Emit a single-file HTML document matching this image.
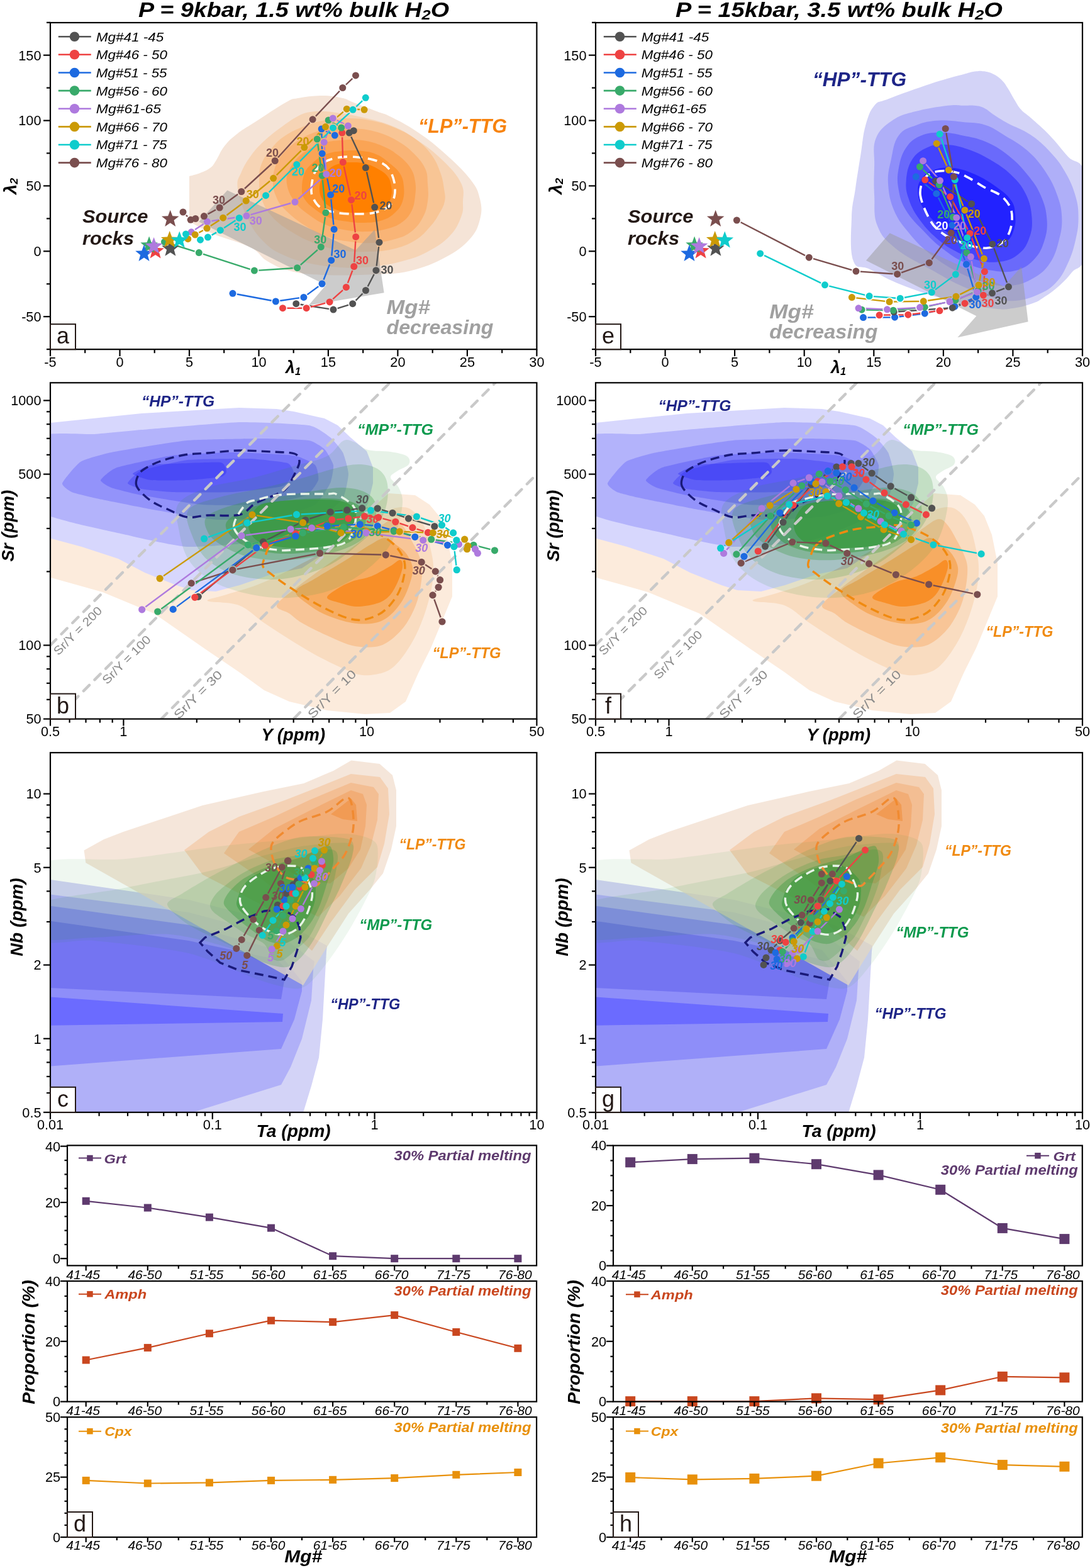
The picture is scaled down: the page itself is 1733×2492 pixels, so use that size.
<!DOCTYPE html>
<html><head><meta charset="utf-8"><title>TTG modelling figure</title>
<style>html,body{margin:0;padding:0;background:#fff;}svg{display:block;}</style>
</head><body>
<svg width="1733" height="2492" viewBox="0 0 1733 2492" font-family="'Liberation Sans', sans-serif">
<rect width="1733" height="2492" fill="#fff"/>
<defs>
<clipPath id="clipA"><rect x="80" y="36" width="773.4" height="519.2"/></clipPath>
<clipPath id="clipE"><rect x="947" y="36" width="774" height="519.2"/></clipPath>
<clipPath id="clipB"><rect x="80" y="608.3" width="773.4" height="534.3"/></clipPath>
<clipPath id="clipF"><rect x="947" y="608.3" width="774" height="534.3"/></clipPath>
<clipPath id="clipC"><rect x="80" y="1196.2" width="773.4" height="571.6"/></clipPath>
<clipPath id="clipG"><rect x="947" y="1196.2" width="774" height="571.6"/></clipPath>
</defs>
<g clip-path="url(#clipA)">
<path d="M301,352 L301.0,280.0 C304.4,279.0 311.4,277.6 318.0,275.0 C324.6,272.4 329.0,270.8 334.0,267.0 C339.0,263.2 338.4,263.0 343.0,256.0 C347.6,249.0 350.0,240.8 357.0,232.0 C364.0,223.2 368.0,219.8 378.0,212.0 C388.0,204.2 391.8,202.8 407.0,193.0 C422.2,183.2 440.6,170.4 454.0,163.0 C467.4,155.6 462.4,158.2 474.0,156.0 C485.6,153.8 497.8,152.0 512.0,152.0 C526.2,152.0 535.4,154.0 545.0,156.0 C554.6,158.0 549.2,157.8 560.0,162.0 C570.8,166.2 587.0,172.4 599.0,177.0 C611.0,181.6 607.6,178.8 620.0,185.0 C632.4,191.2 644.2,196.8 661.0,208.0 C677.8,219.2 686.8,225.8 704.0,241.0 C721.2,256.2 735.2,269.0 747.0,284.0 C758.8,299.0 759.8,303.0 763.0,316.0 C766.2,329.0 766.4,336.0 763.0,349.0 C759.6,362.0 757.0,369.0 746.0,381.0 C735.0,393.0 726.4,399.2 708.0,409.0 C689.6,418.8 675.8,424.6 654.0,430.0 C632.2,435.4 626.4,434.6 599.0,436.0 C571.6,437.4 544.2,438.0 517.0,437.0 C489.8,436.0 481.4,435.4 463.0,431.0 C444.6,426.6 438.0,422.6 425.0,415.0 C412.0,407.4 415.0,401.6 398.0,393.0 C381.0,384.4 359.4,380.2 340.0,372.0 C320.6,363.8 308.8,356.0 301.0,352.0Z" fill="#f5e4d7"/>
<path d="M378.0,300.0 C375.8,284.6 379.6,283.8 384.0,273.0 C388.4,262.2 392.8,255.8 400.0,246.0 C407.2,236.2 410.8,232.6 420.0,224.0 C429.2,215.4 435.4,210.8 446.0,203.0 C456.6,195.2 463.6,190.0 473.0,185.0 C482.4,180.0 484.2,179.6 493.0,178.0 C501.8,176.4 507.6,176.6 517.0,177.0 C526.4,177.4 531.4,178.8 540.0,180.0 C548.6,181.2 544.4,179.4 560.0,183.0 C575.6,186.6 597.8,190.4 618.0,198.0 C638.2,205.6 643.8,209.6 661.0,221.0 C678.2,232.4 689.6,241.0 704.0,255.0 C718.4,269.0 726.6,277.8 733.0,291.0 C739.4,304.2 736.0,310.2 736.0,321.0 C736.0,331.8 737.2,334.2 733.0,345.0 C728.8,355.8 725.6,364.0 715.0,375.0 C704.4,386.0 695.0,392.0 680.0,400.0 C665.0,408.0 658.0,410.2 640.0,415.0 C622.0,419.8 610.0,422.0 590.0,424.0 C570.0,426.0 560.0,426.2 540.0,425.0 C520.0,423.8 508.0,422.0 490.0,418.0 C472.0,414.0 464.0,411.6 450.0,405.0 C436.0,398.4 431.0,396.0 420.0,385.0 C409.0,374.0 403.4,367.0 395.0,350.0 C386.6,333.0 380.2,315.4 378.0,300.0Z" fill="#f6d4b5"/>
<path d="M412.0,284.0 C412.0,272.8 412.4,269.2 416.0,260.0 C419.6,250.8 423.2,246.4 430.0,238.0 C436.8,229.6 440.0,225.2 450.0,218.0 C460.0,210.8 467.6,207.2 480.0,202.0 C492.4,196.8 497.6,194.8 512.0,192.0 C526.4,189.2 536.0,188.0 552.0,188.0 C568.0,188.0 576.4,188.8 592.0,192.0 C607.6,195.2 616.0,198.0 630.0,204.0 C644.0,210.0 650.8,213.6 662.0,222.0 C673.2,230.4 678.4,235.6 686.0,246.0 C693.6,256.4 696.0,263.2 700.0,274.0 C704.0,284.8 704.6,290.8 706.0,300.0 C707.4,309.2 708.6,312.0 707.0,320.0 C705.4,328.0 702.6,332.0 698.0,340.0 C693.4,348.0 691.6,351.6 684.0,360.0 C676.4,368.4 672.0,374.8 660.0,382.0 C648.0,389.2 639.2,392.4 624.0,396.0 C608.8,399.6 600.0,399.6 584.0,400.0 C568.0,400.4 560.0,400.4 544.0,398.0 C528.0,395.6 519.6,393.6 504.0,388.0 C488.4,382.4 480.0,378.4 466.0,370.0 C452.0,361.6 444.0,356.8 434.0,346.0 C424.0,335.2 420.4,328.4 416.0,316.0 C411.6,303.6 412.0,295.2 412.0,284.0Z" fill="#f8c595"/>
<path d="M434.0,288.0 C434.0,278.8 434.8,272.8 438.0,264.0 C441.2,255.2 443.6,251.6 450.0,244.0 C456.4,236.4 460.8,232.4 470.0,226.0 C479.2,219.6 484.4,216.4 496.0,212.0 C507.6,207.6 514.4,205.6 528.0,204.0 C541.6,202.4 549.6,202.8 564.0,204.0 C578.4,205.2 586.4,206.0 600.0,210.0 C613.6,214.0 620.4,217.2 632.0,224.0 C643.6,230.8 649.2,235.2 658.0,244.0 C666.8,252.8 671.6,258.4 676.0,268.0 C680.4,277.6 679.2,281.6 680.0,292.0 C680.8,302.4 681.6,309.2 680.0,320.0 C678.4,330.8 677.2,336.4 672.0,346.0 C666.8,355.6 662.8,361.2 654.0,368.0 C645.2,374.8 640.4,376.4 628.0,380.0 C615.6,383.6 606.4,385.2 592.0,386.0 C577.6,386.8 570.4,386.0 556.0,384.0 C541.6,382.0 534.4,381.2 520.0,376.0 C505.6,370.8 497.6,366.8 484.0,358.0 C470.4,349.2 461.2,341.6 452.0,332.0 C442.8,322.4 441.6,318.8 438.0,310.0 C434.4,301.2 434.0,297.2 434.0,288.0Z" fill="#f9b476"/>
<path d="M456.0,292.0 C454.4,282.0 456.8,278.0 460.0,270.0 C463.2,262.0 466.0,258.4 472.0,252.0 C478.0,245.6 482.0,242.8 490.0,238.0 C498.0,233.2 502.0,231.0 512.0,228.0 C522.0,225.0 527.2,224.0 540.0,223.0 C552.8,222.0 562.4,221.2 576.0,223.0 C589.6,224.8 596.8,227.4 608.0,232.0 C619.2,236.6 623.2,239.2 632.0,246.0 C640.8,252.8 646.4,257.6 652.0,266.0 C657.6,274.4 658.4,278.8 660.0,288.0 C661.6,297.2 661.2,302.4 660.0,312.0 C658.8,321.6 658.4,327.6 654.0,336.0 C649.6,344.4 646.0,348.4 638.0,354.0 C630.0,359.6 624.8,361.2 614.0,364.0 C603.2,366.8 596.4,367.6 584.0,368.0 C571.6,368.4 564.8,368.0 552.0,366.0 C539.2,364.0 532.0,362.8 520.0,358.0 C508.0,353.2 502.4,349.6 492.0,342.0 C481.6,334.4 475.2,330.0 468.0,320.0 C460.8,310.0 457.6,302.0 456.0,292.0Z" fill="#faa455"/>
<path d="M480.0,300.0 C480.0,292.0 480.8,284.0 484.0,276.0 C487.2,268.0 489.6,266.0 496.0,260.0 C502.4,254.0 506.4,250.0 516.0,246.0 C525.6,242.0 532.0,241.2 544.0,240.0 C556.0,238.8 564.8,238.8 576.0,240.0 C587.2,241.2 591.2,242.0 600.0,246.0 C608.8,250.0 612.8,254.0 620.0,260.0 C627.2,266.0 631.6,268.8 636.0,276.0 C640.4,283.2 641.2,287.2 642.0,296.0 C642.8,304.8 642.8,311.6 640.0,320.0 C637.2,328.4 634.4,332.0 628.0,338.0 C621.6,344.0 617.6,346.8 608.0,350.0 C598.4,353.2 591.2,353.6 580.0,354.0 C568.8,354.4 563.2,353.6 552.0,352.0 C540.8,350.4 534.4,350.0 524.0,346.0 C513.6,342.0 508.0,338.0 500.0,332.0 C492.0,326.0 488.0,322.4 484.0,316.0 C480.0,309.6 480.0,308.0 480.0,300.0Z" fill="#fc9430"/>
<path d="M508.0,300.0 C508.0,293.6 508.8,290.4 512.0,284.0 C515.2,277.6 518.4,272.8 524.0,268.0 C529.6,263.2 532.8,262.0 540.0,260.0 C547.2,258.0 552.0,258.0 560.0,258.0 C568.0,258.0 572.0,258.0 580.0,260.0 C588.0,262.0 592.8,264.0 600.0,268.0 C607.2,272.0 611.6,274.4 616.0,280.0 C620.4,285.6 620.8,289.6 622.0,296.0 C623.2,302.4 623.6,306.0 622.0,312.0 C620.4,318.0 620.0,321.2 614.0,326.0 C608.0,330.8 601.2,333.6 592.0,336.0 C582.8,338.4 577.6,338.0 568.0,338.0 C558.4,338.0 552.8,338.0 544.0,336.0 C535.2,334.0 530.4,332.0 524.0,328.0 C517.6,324.0 515.2,321.6 512.0,316.0 C508.8,310.4 508.0,306.4 508.0,300.0Z" fill="#ff8000"/>
<path d="M495.0,300.0 C495.3,293.3 496.7,282.0 500.0,275.0 C503.3,268.0 508.3,262.2 515.0,258.0 C521.7,253.8 530.8,251.3 540.0,250.0 C549.2,248.7 560.0,249.0 570.0,250.0 C580.0,251.0 592.0,253.0 600.0,256.0 C608.0,259.0 613.5,262.3 618.0,268.0 C622.5,273.7 625.5,282.7 627.0,290.0 C628.5,297.3 628.5,305.7 627.0,312.0 C625.5,318.3 623.3,323.7 618.0,328.0 C612.7,332.3 603.8,336.0 595.0,338.0 C586.2,340.0 575.0,340.0 565.0,340.0 C555.0,340.0 544.2,339.7 535.0,338.0 C525.8,336.3 516.2,333.8 510.0,330.0 C503.8,326.2 500.5,320.0 498.0,315.0 C495.5,310.0 494.7,306.7 495.0,300.0Z" fill="none" stroke="#fff" stroke-width="3.6" stroke-dasharray="15,9"/>
<path d="M361.4,302.5 L565.5,397.7 L595.6,365.1 L610.6,465.3 L490.4,485.4 L518.4,453.1 L316.3,352.6Z" fill="#9a9a9a" fill-opacity="0.5"/>
<mask id="gapmask1" maskUnits="userSpaceOnUse" x="241.5" y="99.9" width="381.5" height="412.2"><rect x="241.5" y="99.9" width="381.5" height="412.2" fill="#fff"/>
<circle cx="470.8" cy="482.7" r="7.10" fill="#000"/>
<circle cx="530.0" cy="492.1" r="7.10" fill="#000"/>
<circle cx="560.7" cy="482.7" r="7.10" fill="#000"/>
<circle cx="581.5" cy="461.5" r="7.10" fill="#000"/>
<circle cx="597.9" cy="429.7" r="7.10" fill="#000"/>
<circle cx="603.0" cy="385.2" r="7.10" fill="#000"/>
<circle cx="595.7" cy="329.3" r="7.10" fill="#000"/>
<circle cx="581.4" cy="266.6" r="7.10" fill="#000"/>
<circle cx="555.3" cy="211.1" r="7.10" fill="#000"/>
<circle cx="562.3" cy="207.7" r="7.10" fill="#000"/>
<circle cx="449.5" cy="489.7" r="7.10" fill="#000"/>
<circle cx="487.2" cy="489.7" r="7.10" fill="#000"/>
<circle cx="524.1" cy="479.9" r="7.10" fill="#000"/>
<circle cx="550.4" cy="456.4" r="7.10" fill="#000"/>
<circle cx="562.8" cy="423.5" r="7.10" fill="#000"/>
<circle cx="565.7" cy="376.4" r="7.10" fill="#000"/>
<circle cx="558.5" cy="317.7" r="7.10" fill="#000"/>
<circle cx="545.3" cy="257.8" r="7.10" fill="#000"/>
<circle cx="543.9" cy="211.1" r="7.10" fill="#000"/>
<circle cx="370.0" cy="466.3" r="7.10" fill="#000"/>
<circle cx="438.4" cy="479.0" r="7.10" fill="#000"/>
<circle cx="482.9" cy="472.4" r="7.10" fill="#000"/>
<circle cx="512.0" cy="451.0" r="7.10" fill="#000"/>
<circle cx="526.7" cy="413.7" r="7.10" fill="#000"/>
<circle cx="531.1" cy="364.4" r="7.10" fill="#000"/>
<circle cx="525.6" cy="309.6" r="7.10" fill="#000"/>
<circle cx="512.2" cy="244.1" r="7.10" fill="#000"/>
<circle cx="511.2" cy="205.0" r="7.10" fill="#000"/>
<circle cx="532.3" cy="215.1" r="7.10" fill="#000"/>
<circle cx="261.5" cy="384.5" r="7.10" fill="#000"/>
<circle cx="316.3" cy="401.6" r="7.10" fill="#000"/>
<circle cx="404.4" cy="430.1" r="7.10" fill="#000"/>
<circle cx="472.6" cy="425.7" r="7.10" fill="#000"/>
<circle cx="510.3" cy="392.4" r="7.10" fill="#000"/>
<circle cx="517.9" cy="338.1" r="7.10" fill="#000"/>
<circle cx="512.2" cy="279.2" r="7.10" fill="#000"/>
<circle cx="504.2" cy="221.1" r="7.10" fill="#000"/>
<circle cx="522.2" cy="191.0" r="7.10" fill="#000"/>
<circle cx="542.7" cy="203.0" r="7.10" fill="#000"/>
<circle cx="304.2" cy="368.8" r="7.10" fill="#000"/>
<circle cx="329.4" cy="352.3" r="7.10" fill="#000"/>
<circle cx="391.9" cy="343.1" r="7.10" fill="#000"/>
<circle cx="469.0" cy="321.0" r="7.10" fill="#000"/>
<circle cx="518.8" cy="276.8" r="7.10" fill="#000"/>
<circle cx="515.2" cy="226.1" r="7.10" fill="#000"/>
<circle cx="529.3" cy="188.0" r="7.10" fill="#000"/>
<circle cx="553.3" cy="200.0" r="7.10" fill="#000"/>
<circle cx="298.8" cy="379.7" r="7.10" fill="#000"/>
<circle cx="310.2" cy="373.1" r="7.10" fill="#000"/>
<circle cx="329.0" cy="362.8" r="7.10" fill="#000"/>
<circle cx="354.7" cy="346.2" r="7.10" fill="#000"/>
<circle cx="391.2" cy="319.0" r="7.10" fill="#000"/>
<circle cx="434.6" cy="283.3" r="7.10" fill="#000"/>
<circle cx="483.8" cy="234.3" r="7.10" fill="#000"/>
<circle cx="517.5" cy="201.6" r="7.10" fill="#000"/>
<circle cx="551.3" cy="173.2" r="7.10" fill="#000"/>
<circle cx="579.1" cy="174.3" r="7.10" fill="#000"/>
<circle cx="295.5" cy="372.0" r="7.10" fill="#000"/>
<circle cx="318.5" cy="381.2" r="7.10" fill="#000"/>
<circle cx="330.5" cy="377.1" r="7.10" fill="#000"/>
<circle cx="350.3" cy="365.9" r="7.10" fill="#000"/>
<circle cx="380.3" cy="346.4" r="7.10" fill="#000"/>
<circle cx="422.6" cy="310.7" r="7.10" fill="#000"/>
<circle cx="471.8" cy="261.5" r="7.10" fill="#000"/>
<circle cx="529.5" cy="203.2" r="7.10" fill="#000"/>
<circle cx="561.1" cy="174.3" r="7.10" fill="#000"/>
<circle cx="581.3" cy="155.3" r="7.10" fill="#000"/>
<circle cx="291.0" cy="337.0" r="7.10" fill="#000"/>
<circle cx="303.1" cy="349.3" r="7.10" fill="#000"/>
<circle cx="310.8" cy="347.5" r="7.10" fill="#000"/>
<circle cx="324.4" cy="343.6" r="7.10" fill="#000"/>
<circle cx="349.2" cy="330.0" r="7.10" fill="#000"/>
<circle cx="383.8" cy="304.5" r="7.10" fill="#000"/>
<circle cx="437.2" cy="255.5" r="7.10" fill="#000"/>
<circle cx="497.1" cy="189.8" r="7.10" fill="#000"/>
<circle cx="544.8" cy="139.5" r="7.10" fill="#000"/>
<circle cx="565.5" cy="119.9" r="7.10" fill="#000"/>
</mask>
<g mask="url(#gapmask1)">
<polyline points="470.8,482.7 530.0,492.1 560.7,482.7 581.5,461.5 597.9,429.7 603.0,385.2 595.7,329.3 581.4,266.6 555.3,211.1 562.3,207.7" fill="none" stroke="#525252" stroke-width="2.4" stroke-linejoin="round"/>
<polyline points="449.5,489.7 487.2,489.7 524.1,479.9 550.4,456.4 562.8,423.5 565.7,376.4 558.5,317.7 545.3,257.8 543.9,211.1" fill="none" stroke="#ee4242" stroke-width="2.4" stroke-linejoin="round"/>
<polyline points="370.0,466.3 438.4,479.0 482.9,472.4 512.0,451.0 526.7,413.7 531.1,364.4 525.6,309.6 512.2,244.1 511.2,205.0 532.3,215.1" fill="none" stroke="#1d6ae0" stroke-width="2.4" stroke-linejoin="round"/>
<polyline points="261.5,384.5 316.3,401.6 404.4,430.1 472.6,425.7 510.3,392.4 517.9,338.1 512.2,279.2 504.2,221.1 522.2,191.0 542.7,203.0" fill="none" stroke="#38aa6a" stroke-width="2.4" stroke-linejoin="round"/>
<polyline points="304.2,368.8 329.4,352.3 391.9,343.1 469.0,321.0 518.8,276.8 515.2,226.1 529.3,188.0 553.3,200.0" fill="none" stroke="#ae7ade" stroke-width="2.4" stroke-linejoin="round"/>
<polyline points="298.8,379.7 310.2,373.1 329.0,362.8 354.7,346.2 391.2,319.0 434.6,283.3 483.8,234.3 517.5,201.6 551.3,173.2 579.1,174.3" fill="none" stroke="#cb9a05" stroke-width="2.4" stroke-linejoin="round"/>
<polyline points="295.5,372.0 318.5,381.2 330.5,377.1 350.3,365.9 380.3,346.4 422.6,310.7 471.8,261.5 529.5,203.2 561.1,174.3 581.3,155.3" fill="none" stroke="#0fcccc" stroke-width="2.4" stroke-linejoin="round"/>
<polyline points="291.0,337.0 303.1,349.3 310.8,347.5 324.4,343.6 349.2,330.0 383.8,304.5 437.2,255.5 497.1,189.8 544.8,139.5 565.5,119.9" fill="none" stroke="#7a4e4e" stroke-width="2.4" stroke-linejoin="round"/>
</g>
<circle cx="470.8" cy="482.7" r="5.50" fill="#525252"/>
<circle cx="530.0" cy="492.1" r="5.50" fill="#525252"/>
<circle cx="560.7" cy="482.7" r="5.50" fill="#525252"/>
<circle cx="581.5" cy="461.5" r="5.50" fill="#525252"/>
<circle cx="597.9" cy="429.7" r="5.50" fill="#525252"/>
<circle cx="603.0" cy="385.2" r="5.50" fill="#525252"/>
<circle cx="595.7" cy="329.3" r="5.50" fill="#525252"/>
<circle cx="581.4" cy="266.6" r="5.50" fill="#525252"/>
<circle cx="555.3" cy="211.1" r="5.50" fill="#525252"/>
<circle cx="562.3" cy="207.7" r="5.50" fill="#525252"/>
<circle cx="449.5" cy="489.7" r="5.50" fill="#ee4242"/>
<circle cx="487.2" cy="489.7" r="5.50" fill="#ee4242"/>
<circle cx="524.1" cy="479.9" r="5.50" fill="#ee4242"/>
<circle cx="550.4" cy="456.4" r="5.50" fill="#ee4242"/>
<circle cx="562.8" cy="423.5" r="5.50" fill="#ee4242"/>
<circle cx="565.7" cy="376.4" r="5.50" fill="#ee4242"/>
<circle cx="558.5" cy="317.7" r="5.50" fill="#ee4242"/>
<circle cx="545.3" cy="257.8" r="5.50" fill="#ee4242"/>
<circle cx="543.9" cy="211.1" r="5.50" fill="#ee4242"/>
<circle cx="370.0" cy="466.3" r="5.50" fill="#1d6ae0"/>
<circle cx="438.4" cy="479.0" r="5.50" fill="#1d6ae0"/>
<circle cx="482.9" cy="472.4" r="5.50" fill="#1d6ae0"/>
<circle cx="512.0" cy="451.0" r="5.50" fill="#1d6ae0"/>
<circle cx="526.7" cy="413.7" r="5.50" fill="#1d6ae0"/>
<circle cx="531.1" cy="364.4" r="5.50" fill="#1d6ae0"/>
<circle cx="525.6" cy="309.6" r="5.50" fill="#1d6ae0"/>
<circle cx="512.2" cy="244.1" r="5.50" fill="#1d6ae0"/>
<circle cx="511.2" cy="205.0" r="5.50" fill="#1d6ae0"/>
<circle cx="532.3" cy="215.1" r="5.50" fill="#1d6ae0"/>
<circle cx="261.5" cy="384.5" r="5.50" fill="#38aa6a"/>
<circle cx="316.3" cy="401.6" r="5.50" fill="#38aa6a"/>
<circle cx="404.4" cy="430.1" r="5.50" fill="#38aa6a"/>
<circle cx="472.6" cy="425.7" r="5.50" fill="#38aa6a"/>
<circle cx="510.3" cy="392.4" r="5.50" fill="#38aa6a"/>
<circle cx="517.9" cy="338.1" r="5.50" fill="#38aa6a"/>
<circle cx="512.2" cy="279.2" r="5.50" fill="#38aa6a"/>
<circle cx="504.2" cy="221.1" r="5.50" fill="#38aa6a"/>
<circle cx="522.2" cy="191.0" r="5.50" fill="#38aa6a"/>
<circle cx="542.7" cy="203.0" r="5.50" fill="#38aa6a"/>
<circle cx="304.2" cy="368.8" r="5.50" fill="#ae7ade"/>
<circle cx="329.4" cy="352.3" r="5.50" fill="#ae7ade"/>
<circle cx="391.9" cy="343.1" r="5.50" fill="#ae7ade"/>
<circle cx="469.0" cy="321.0" r="5.50" fill="#ae7ade"/>
<circle cx="518.8" cy="276.8" r="5.50" fill="#ae7ade"/>
<circle cx="515.2" cy="226.1" r="5.50" fill="#ae7ade"/>
<circle cx="529.3" cy="188.0" r="5.50" fill="#ae7ade"/>
<circle cx="553.3" cy="200.0" r="5.50" fill="#ae7ade"/>
<circle cx="298.8" cy="379.7" r="5.50" fill="#cb9a05"/>
<circle cx="310.2" cy="373.1" r="5.50" fill="#cb9a05"/>
<circle cx="329.0" cy="362.8" r="5.50" fill="#cb9a05"/>
<circle cx="354.7" cy="346.2" r="5.50" fill="#cb9a05"/>
<circle cx="391.2" cy="319.0" r="5.50" fill="#cb9a05"/>
<circle cx="434.6" cy="283.3" r="5.50" fill="#cb9a05"/>
<circle cx="483.8" cy="234.3" r="5.50" fill="#cb9a05"/>
<circle cx="517.5" cy="201.6" r="5.50" fill="#cb9a05"/>
<circle cx="551.3" cy="173.2" r="5.50" fill="#cb9a05"/>
<circle cx="579.1" cy="174.3" r="5.50" fill="#cb9a05"/>
<circle cx="295.5" cy="372.0" r="5.50" fill="#0fcccc"/>
<circle cx="318.5" cy="381.2" r="5.50" fill="#0fcccc"/>
<circle cx="330.5" cy="377.1" r="5.50" fill="#0fcccc"/>
<circle cx="350.3" cy="365.9" r="5.50" fill="#0fcccc"/>
<circle cx="380.3" cy="346.4" r="5.50" fill="#0fcccc"/>
<circle cx="422.6" cy="310.7" r="5.50" fill="#0fcccc"/>
<circle cx="471.8" cy="261.5" r="5.50" fill="#0fcccc"/>
<circle cx="529.5" cy="203.2" r="5.50" fill="#0fcccc"/>
<circle cx="561.1" cy="174.3" r="5.50" fill="#0fcccc"/>
<circle cx="581.3" cy="155.3" r="5.50" fill="#0fcccc"/>
<circle cx="291.0" cy="337.0" r="5.50" fill="#7a4e4e"/>
<circle cx="303.1" cy="349.3" r="5.50" fill="#7a4e4e"/>
<circle cx="310.8" cy="347.5" r="5.50" fill="#7a4e4e"/>
<circle cx="324.4" cy="343.6" r="5.50" fill="#7a4e4e"/>
<circle cx="349.2" cy="330.0" r="5.50" fill="#7a4e4e"/>
<circle cx="383.8" cy="304.5" r="5.50" fill="#7a4e4e"/>
<circle cx="437.2" cy="255.5" r="5.50" fill="#7a4e4e"/>
<circle cx="497.1" cy="189.8" r="5.50" fill="#7a4e4e"/>
<circle cx="544.8" cy="139.5" r="5.50" fill="#7a4e4e"/>
<circle cx="565.5" cy="119.9" r="5.50" fill="#7a4e4e"/>
<path d="M247.1,384.4 L250.7,394.0 L260.9,394.4 L252.9,400.8 L255.6,410.6 L247.1,405.0 L238.6,410.6 L241.3,400.8 L233.3,394.4 L243.5,394.0Z" fill="#ee4242"/>
<path d="M270.9,380.6 L274.5,390.2 L284.7,390.6 L276.7,397.0 L279.4,406.8 L270.9,401.2 L262.4,406.8 L265.1,397.0 L257.1,390.6 L267.3,390.2Z" fill="#525252"/>
<path d="M237.1,375.6 L240.7,385.2 L250.9,385.6 L242.9,392.0 L245.6,401.8 L237.1,396.2 L228.6,401.8 L231.3,392.0 L223.3,385.6 L233.5,385.2Z" fill="#38aa6a"/>
<path d="M229.0,388.8 L232.6,398.4 L242.8,398.8 L234.8,405.2 L237.5,415.0 L229.0,409.4 L220.5,415.0 L223.2,405.2 L215.2,398.8 L225.4,398.4Z" fill="#1d6ae0"/>
<path d="M244.6,376.9 L248.2,386.5 L258.4,386.9 L250.4,393.3 L253.1,403.1 L244.6,397.5 L236.1,403.1 L238.8,393.3 L230.8,386.9 L241.0,386.5Z" fill="#ae7ade"/>
<path d="M269.7,366.9 L273.3,376.5 L283.5,376.9 L275.5,383.3 L278.2,393.1 L269.7,387.5 L261.2,393.1 L263.9,383.3 L255.9,376.9 L266.1,376.5Z" fill="#cb9a05"/>
<path d="M285.3,367.5 L288.9,377.1 L299.1,377.5 L291.1,383.9 L293.8,393.7 L285.3,388.1 L276.8,393.7 L279.5,383.9 L271.5,377.5 L281.7,377.1Z" fill="#0fcccc"/>
<path d="M270.7,333.7 L274.3,343.3 L284.5,343.7 L276.5,350.1 L279.2,359.9 L270.7,354.3 L262.2,359.9 L264.9,350.1 L256.9,343.7 L267.1,343.3Z" fill="#7a4e4e"/>
<text x="433" y="248.5" font-size="18" text-anchor="middle" font-weight="bold" font-style="normal" fill="#7a4e4e" >20</text>
<text x="481.4" y="231" font-size="18" text-anchor="middle" font-weight="bold" font-style="normal" fill="#cb9a05" >20</text>
<text x="474" y="278.5" font-size="18" text-anchor="middle" font-weight="bold" font-style="normal" fill="#0fcccc" >20</text>
<text x="505.6" y="273.3" font-size="18" text-anchor="middle" font-weight="bold" font-style="normal" fill="#38aa6a" >20</text>
<text x="533.7" y="281.2" font-size="18" text-anchor="middle" font-weight="bold" font-style="normal" fill="#ae7ade" >20</text>
<text x="538.3" y="306.2" font-size="18" text-anchor="middle" font-weight="bold" font-style="normal" fill="#1d6ae0" >20</text>
<text x="573.4" y="317.2" font-size="18" text-anchor="middle" font-weight="bold" font-style="normal" fill="#ee4242" >20</text>
<text x="613.4" y="333.3" font-size="18" text-anchor="middle" font-weight="bold" font-style="normal" fill="#525252" >20</text>
<text x="348" y="323.8" font-size="18" text-anchor="middle" font-weight="bold" font-style="normal" fill="#7a4e4e" >30</text>
<text x="401.7" y="315" font-size="18" text-anchor="middle" font-weight="bold" font-style="normal" fill="#cb9a05" >30</text>
<text x="381.5" y="366.5" font-size="18" text-anchor="middle" font-weight="bold" font-style="normal" fill="#0fcccc" >30</text>
<text x="406.7" y="356.6" font-size="18" text-anchor="middle" font-weight="bold" font-style="normal" fill="#ae7ade" >30</text>
<text x="509.2" y="387.3" font-size="18" text-anchor="middle" font-weight="bold" font-style="normal" fill="#38aa6a" >30</text>
<text x="540.4" y="410.3" font-size="18" text-anchor="middle" font-weight="bold" font-style="normal" fill="#1d6ae0" >30</text>
<text x="576" y="419.6" font-size="18" text-anchor="middle" font-weight="bold" font-style="normal" fill="#ee4242" >30</text>
<text x="615.5" y="435" font-size="18" text-anchor="middle" font-weight="bold" font-style="normal" fill="#525252" >30</text>
</g>
<text x="131" y="354.4" font-size="30" text-anchor="start" font-weight="bold" font-style="italic" fill="#231815" textLength="104.5" lengthAdjust="spacingAndGlyphs" >Source</text>
<text x="131" y="388.9" font-size="30" text-anchor="start" font-weight="bold" font-style="italic" fill="#231815" textLength="82" lengthAdjust="spacingAndGlyphs" >rocks</text>
<text x="665" y="210.5" font-size="31" text-anchor="start" font-weight="bold" font-style="italic" fill="#f7830f" textLength="141" lengthAdjust="spacingAndGlyphs" >“LP”-TTG</text>
<text x="614.5" y="498.5" font-size="32" text-anchor="start" font-weight="bold" font-style="italic" fill="#a0a0a0" textLength="69.2" lengthAdjust="spacingAndGlyphs" >Mg#</text>
<text x="614.5" y="531" font-size="32" text-anchor="start" font-weight="bold" font-style="italic" fill="#a0a0a0" textLength="170" lengthAdjust="spacingAndGlyphs" >decreasing</text>
<line x1="92.8" y1="58.2" x2="144.8" y2="58.2" stroke="#525252" stroke-width="2.6"/>
<circle cx="118.5" cy="58.2" r="7.8" fill="#525252"/>
<text x="152.8" y="65.6" font-size="20.5" text-anchor="start" font-weight="normal" font-style="italic" fill="#000" textLength="107.5" lengthAdjust="spacingAndGlyphs" >Mg#41 -45</text>
<line x1="92.8" y1="86.8" x2="144.8" y2="86.8" stroke="#ee4242" stroke-width="2.6"/>
<circle cx="118.5" cy="86.8" r="7.8" fill="#ee4242"/>
<text x="152.8" y="94.2" font-size="20.5" text-anchor="start" font-weight="normal" font-style="italic" fill="#000" textLength="113.1" lengthAdjust="spacingAndGlyphs" >Mg#46 - 50</text>
<line x1="92.8" y1="115.5" x2="144.8" y2="115.5" stroke="#1d6ae0" stroke-width="2.6"/>
<circle cx="118.5" cy="115.5" r="7.8" fill="#1d6ae0"/>
<text x="152.8" y="122.9" font-size="20.5" text-anchor="start" font-weight="normal" font-style="italic" fill="#000" textLength="112.7" lengthAdjust="spacingAndGlyphs" >Mg#51 - 55</text>
<line x1="92.8" y1="144.1" x2="144.8" y2="144.1" stroke="#38aa6a" stroke-width="2.6"/>
<circle cx="118.5" cy="144.1" r="7.8" fill="#38aa6a"/>
<text x="152.8" y="151.5" font-size="20.5" text-anchor="start" font-weight="normal" font-style="italic" fill="#000" textLength="113.1" lengthAdjust="spacingAndGlyphs" >Mg#56 - 60</text>
<line x1="92.8" y1="172.7" x2="144.8" y2="172.7" stroke="#ae7ade" stroke-width="2.6"/>
<circle cx="118.5" cy="172.7" r="7.8" fill="#ae7ade"/>
<text x="152.8" y="180.1" font-size="20.5" text-anchor="start" font-weight="normal" font-style="italic" fill="#000" textLength="103.3" lengthAdjust="spacingAndGlyphs" >Mg#61-65</text>
<line x1="92.8" y1="201.4" x2="144.8" y2="201.4" stroke="#cb9a05" stroke-width="2.6"/>
<circle cx="118.5" cy="201.4" r="7.8" fill="#cb9a05"/>
<text x="152.8" y="208.8" font-size="20.5" text-anchor="start" font-weight="normal" font-style="italic" fill="#000" textLength="113.1" lengthAdjust="spacingAndGlyphs" >Mg#66 - 70</text>
<line x1="92.8" y1="230.0" x2="144.8" y2="230.0" stroke="#0fcccc" stroke-width="2.6"/>
<circle cx="118.5" cy="230.0" r="7.8" fill="#0fcccc"/>
<text x="152.8" y="237.4" font-size="20.5" text-anchor="start" font-weight="normal" font-style="italic" fill="#000" textLength="112.7" lengthAdjust="spacingAndGlyphs" >Mg#71 - 75</text>
<line x1="92.8" y1="258.6" x2="144.8" y2="258.6" stroke="#7a4e4e" stroke-width="2.6"/>
<circle cx="118.5" cy="258.6" r="7.8" fill="#7a4e4e"/>
<text x="152.8" y="266" font-size="20.5" text-anchor="start" font-weight="normal" font-style="italic" fill="#000" textLength="113.1" lengthAdjust="spacingAndGlyphs" >Mg#76 - 80</text>
<g clip-path="url(#clipE)">
<path d="M1356.5,414.0 C1350.7,397.6 1353.3,368.8 1354.0,346.0 C1354.7,323.2 1357.1,320.3 1360.0,300.0 C1362.9,279.7 1365.4,264.4 1368.6,244.4 C1371.8,224.4 1371.7,215.3 1376.0,200.0 C1380.3,184.7 1382.7,176.6 1390.0,168.0 C1397.3,159.4 1394.3,164.2 1412.3,157.2 C1430.3,150.2 1455.9,140.9 1480.0,133.0 C1504.1,125.1 1518.6,121.6 1533.0,117.7 C1547.4,113.8 1545.5,114.2 1551.8,113.3 C1558.1,112.4 1558.8,112.4 1564.3,113.3 C1569.8,114.2 1573.5,114.8 1579.3,117.7 C1585.1,120.6 1588.3,122.9 1593.1,127.7 C1597.9,132.5 1599.1,135.2 1603.1,141.5 C1607.1,147.8 1609.2,152.5 1613.2,159.0 C1617.2,165.5 1618.0,168.2 1623.2,174.0 C1628.4,179.8 1630.2,179.5 1639.4,187.8 C1648.6,196.1 1657.5,203.2 1669.2,215.4 C1680.9,227.6 1686.7,235.9 1697.9,248.8 C1709.1,261.7 1719.6,249.4 1725.0,280.0 C1730.4,310.6 1729.2,371.4 1725.0,402.0 C1720.8,432.6 1712.6,422.2 1704.0,433.0 C1695.4,443.8 1691.0,448.0 1682.0,456.0 C1673.0,464.0 1667.0,467.8 1659.0,473.0 C1651.0,478.2 1651.8,478.6 1642.0,482.0 C1632.2,485.4 1623.0,488.4 1610.0,490.0 C1597.0,491.6 1598.1,492.8 1577.0,490.0 C1555.9,487.2 1533.5,483.6 1504.4,476.0 C1475.3,468.4 1455.9,461.6 1431.7,452.0 C1407.5,442.4 1398.2,435.6 1383.2,428.0 C1368.2,420.4 1362.3,430.4 1356.5,414.0Z" fill="#d3d3f7"/>
<path d="M1390.1,263.1 C1390.6,245.0 1386.8,234.5 1392.5,220.2 C1398.2,205.9 1406.3,200.2 1418.7,191.6 C1431.1,183.0 1436.8,182.1 1454.5,177.3 C1472.2,172.5 1491.3,169.6 1507.0,167.7 C1522.7,165.8 1524.5,167.8 1533.0,167.8 C1541.5,167.8 1543.0,167.0 1549.3,167.8 C1555.6,168.6 1558.0,168.6 1564.3,171.6 C1570.6,174.6 1573.0,177.9 1580.6,182.8 C1588.2,187.7 1590.9,189.8 1602.4,196.0 C1613.9,202.2 1624.8,205.0 1638.2,214.0 C1651.6,223.0 1658.2,229.3 1669.2,241.0 C1680.2,252.7 1685.0,258.7 1693.1,272.7 C1701.2,286.7 1705.5,296.1 1709.8,310.9 C1714.1,325.7 1714.6,332.3 1714.6,346.6 C1714.6,360.9 1713.1,368.1 1709.8,382.4 C1706.5,396.7 1704.1,404.8 1697.9,418.2 C1691.7,431.6 1688.4,439.2 1678.8,449.2 C1669.2,459.2 1663.0,462.6 1650.1,468.3 C1637.2,474.0 1628.7,476.9 1614.4,477.9 C1600.1,478.9 1595.5,477.7 1578.6,473.1 C1561.7,468.5 1549.1,463.6 1530.0,455.0 C1510.9,446.4 1504.4,442.2 1483.1,430.1 C1461.8,418.0 1441.1,408.7 1423.5,394.4 C1405.9,380.1 1401.6,375.3 1394.9,358.6 C1388.2,341.9 1391.1,330.0 1390.1,310.9 C1389.1,291.8 1389.6,281.2 1390.1,263.1Z" fill="#afaff8"/>
<path d="M1412.0,291.8 C1411.0,275.6 1413.5,268.9 1416.8,253.6 C1420.1,238.3 1420.6,226.4 1428.7,215.4 C1436.8,204.4 1444.6,203.5 1457.4,198.7 C1470.2,193.9 1478.2,192.5 1492.9,191.6 C1507.6,190.7 1516.2,192.6 1530.9,194.0 C1545.6,195.4 1553.2,194.4 1566.6,198.7 C1580.0,203.0 1584.3,207.3 1597.7,215.4 C1611.1,223.5 1620.5,227.8 1633.4,239.3 C1646.3,250.8 1652.5,258.4 1662.1,272.7 C1671.7,287.0 1676.0,296.1 1681.2,310.9 C1686.4,325.7 1687.8,332.3 1688.3,346.6 C1688.8,360.9 1687.3,368.1 1683.5,382.4 C1679.7,396.7 1677.3,406.3 1669.2,418.2 C1661.1,430.1 1655.4,434.9 1643.0,442.1 C1630.6,449.3 1622.5,452.6 1607.2,454.0 C1591.9,455.4 1584.3,454.0 1566.6,449.2 C1548.9,444.4 1537.0,439.6 1518.9,430.1 C1500.8,420.6 1490.9,413.4 1476.2,401.5 C1461.5,389.6 1456.3,383.9 1445.4,370.5 C1434.5,357.1 1428.3,350.4 1421.6,334.7 C1414.9,319.0 1413.0,308.0 1412.0,291.8Z" fill="#8e8efa"/>
<path d="M1428.7,301.3 C1426.3,287.9 1426.3,281.3 1428.7,267.9 C1431.1,254.5 1433.5,245.0 1440.7,234.5 C1447.9,224.0 1453.1,220.2 1464.5,215.4 C1475.9,210.6 1484.4,210.7 1497.7,210.7 C1511.0,210.7 1517.1,212.5 1530.9,215.4 C1544.7,218.3 1552.3,218.8 1566.6,225.0 C1580.9,231.2 1589.0,235.9 1602.4,246.4 C1615.8,256.9 1622.9,264.6 1633.4,277.5 C1643.9,290.4 1648.7,296.6 1654.9,310.9 C1661.1,325.2 1663.5,334.2 1664.5,349.0 C1665.5,363.8 1664.0,371.9 1659.7,384.8 C1655.4,397.7 1652.1,404.3 1643.0,413.4 C1633.9,422.5 1627.3,426.8 1614.4,430.1 C1601.5,433.4 1594.4,432.5 1578.6,430.1 C1562.8,427.7 1551.8,425.3 1535.6,418.2 C1519.4,411.1 1511.0,404.4 1497.7,394.4 C1484.4,384.4 1480.7,380.0 1469.3,368.1 C1457.9,356.2 1448.8,348.1 1440.7,334.7 C1432.6,321.3 1431.1,314.7 1428.7,301.3Z" fill="#6a6afb"/>
<path d="M1445.4,318.0 C1441.1,305.6 1439.7,299.9 1440.7,287.0 C1441.7,274.1 1443.5,264.1 1450.2,253.6 C1456.9,243.1 1463.7,239.3 1474.1,234.5 C1484.5,229.7 1489.4,229.2 1502.2,229.7 C1515.0,230.2 1523.7,232.1 1538.0,236.9 C1552.3,241.7 1560.0,245.5 1573.8,253.6 C1587.6,261.7 1595.8,266.5 1607.2,277.5 C1618.6,288.5 1624.3,294.7 1631.0,308.5 C1637.7,322.3 1639.6,332.3 1640.6,346.6 C1641.6,360.9 1640.1,368.5 1635.8,380.0 C1631.5,391.5 1628.2,396.7 1619.1,403.9 C1610.0,411.1 1603.4,413.9 1590.5,415.8 C1577.6,417.7 1569.0,416.7 1554.7,413.4 C1540.4,410.1 1532.2,406.2 1518.9,399.1 C1505.6,392.0 1499.5,387.7 1488.1,377.7 C1476.7,367.7 1470.6,360.9 1462.1,349.0 C1453.6,337.1 1449.7,330.4 1445.4,318.0Z" fill="#4444fd"/>
<path d="M1468.8,332.3 C1462.1,321.7 1459.8,315.0 1459.3,305.0 C1458.8,295.0 1460.7,289.4 1466.4,282.2 C1472.1,275.0 1477.9,272.0 1487.9,269.0 C1497.9,266.0 1504.1,265.4 1516.5,267.0 C1528.9,268.6 1536.5,271.1 1549.9,277.0 C1563.3,282.9 1571.8,288.3 1583.3,296.5 C1594.8,304.7 1601.0,309.2 1607.2,318.0 C1613.4,326.8 1613.1,330.9 1614.1,340.3 C1615.1,349.7 1614.8,356.3 1612.0,365.0 C1609.2,373.7 1607.4,378.4 1600.0,384.0 C1592.6,389.6 1585.0,391.4 1575.0,393.0 C1565.0,394.6 1560.3,394.6 1550.0,392.0 C1539.7,389.4 1535.2,386.8 1523.7,380.0 C1512.2,373.2 1503.7,367.7 1492.7,358.2 C1481.7,348.7 1475.5,342.9 1468.8,332.3Z" fill="#2222ff"/>
<path d="M1463.2,310.2 C1461.8,298.5 1466.4,288.4 1471.3,282.0 C1476.2,275.6 1484.4,273.4 1492.6,272.0 C1500.8,270.6 1512.3,272.1 1520.2,273.9 C1528.1,275.7 1532.7,278.7 1540.2,282.7 C1547.7,286.7 1556.9,293.1 1565.2,297.7 C1573.5,302.3 1583.6,305.2 1590.3,310.2 C1597.0,315.2 1602.2,321.8 1605.3,327.8 C1608.4,333.9 1609.1,339.8 1609.1,346.5 C1609.1,353.2 1607.8,361.3 1605.3,367.8 C1602.8,374.3 1599.9,381.0 1594.0,385.4 C1588.1,389.8 1578.2,393.1 1570.0,394.0 C1561.8,394.9 1553.3,393.0 1545.0,391.0 C1536.7,389.0 1527.5,385.2 1520.0,382.0 C1512.5,378.8 1506.7,377.0 1500.0,372.0 C1493.3,367.0 1486.1,362.3 1480.0,352.0 C1473.9,341.7 1464.7,321.9 1463.2,310.2Z" fill="none" stroke="#fff" stroke-width="3.6" stroke-dasharray="15,9"/>
<path d="M1414.7,370.4 L1596.0,455.0 L1624.0,424.1 L1634.6,511.3 L1522.4,536.3 L1552.4,502.2 L1377.0,414.0Z" fill="#9a9a9a" fill-opacity="0.5"/>
<mask id="gapmask2" maskUnits="userSpaceOnUse" x="1151.4" y="184.4" width="472.1" height="340.2"><rect x="1151.4" y="184.4" width="472.1" height="340.2" fill="#fff"/>
<circle cx="1372.5" cy="504.6" r="7.10" fill="#000"/>
<circle cx="1422.6" cy="504.2" r="7.10" fill="#000"/>
<circle cx="1470.3" cy="498.2" r="7.10" fill="#000"/>
<circle cx="1518.0" cy="487.2" r="7.10" fill="#000"/>
<circle cx="1551.8" cy="472.2" r="7.10" fill="#000"/>
<circle cx="1536.4" cy="420.1" r="7.10" fill="#000"/>
<circle cx="1513.9" cy="357.8" r="7.10" fill="#000"/>
<circle cx="1488.8" cy="307.7" r="7.10" fill="#000"/>
<circle cx="1456.3" cy="280.8" r="7.10" fill="#000"/>
<circle cx="1398.1" cy="500.8" r="7.10" fill="#000"/>
<circle cx="1443.8" cy="500.2" r="7.10" fill="#000"/>
<circle cx="1493.9" cy="493.8" r="7.10" fill="#000"/>
<circle cx="1534.0" cy="482.2" r="7.10" fill="#000"/>
<circle cx="1563.4" cy="469.2" r="7.10" fill="#000"/>
<circle cx="1565.4" cy="431.7" r="7.10" fill="#000"/>
<circle cx="1542.1" cy="371.0" r="7.10" fill="#000"/>
<circle cx="1510.8" cy="312.7" r="7.10" fill="#000"/>
<circle cx="1470.7" cy="285.8" r="7.10" fill="#000"/>
<circle cx="1421.2" cy="495.8" r="7.10" fill="#000"/>
<circle cx="1514.3" cy="489.2" r="7.10" fill="#000"/>
<circle cx="1577.5" cy="465.8" r="7.10" fill="#000"/>
<circle cx="1603.5" cy="455.8" r="7.10" fill="#000"/>
<circle cx="1577.8" cy="387.9" r="7.10" fill="#000"/>
<circle cx="1544.6" cy="324.0" r="7.10" fill="#000"/>
<circle cx="1487.6" cy="287.7" r="7.10" fill="#000"/>
<circle cx="1370.1" cy="492.2" r="7.10" fill="#000"/>
<circle cx="1420.2" cy="493.2" r="7.10" fill="#000"/>
<circle cx="1470.3" cy="488.2" r="7.10" fill="#000"/>
<circle cx="1519.0" cy="477.2" r="7.10" fill="#000"/>
<circle cx="1555.0" cy="462.0" r="7.10" fill="#000"/>
<circle cx="1536.8" cy="401.5" r="7.10" fill="#000"/>
<circle cx="1515.0" cy="345.0" r="7.10" fill="#000"/>
<circle cx="1493.2" cy="293.9" r="7.10" fill="#000"/>
<circle cx="1462.5" cy="265.1" r="7.10" fill="#000"/>
<circle cx="1365.0" cy="489.8" r="7.10" fill="#000"/>
<circle cx="1410.5" cy="491.8" r="7.10" fill="#000"/>
<circle cx="1462.6" cy="488.6" r="7.10" fill="#000"/>
<circle cx="1509.9" cy="479.6" r="7.10" fill="#000"/>
<circle cx="1553.4" cy="464.2" r="7.10" fill="#000"/>
<circle cx="1543.4" cy="408.1" r="7.10" fill="#000"/>
<circle cx="1520.8" cy="345.9" r="7.10" fill="#000"/>
<circle cx="1494.5" cy="287.1" r="7.10" fill="#000"/>
<circle cx="1467.6" cy="255.7" r="7.10" fill="#000"/>
<circle cx="1354.4" cy="472.6" r="7.10" fill="#000"/>
<circle cx="1414.1" cy="479.6" r="7.10" fill="#000"/>
<circle cx="1468.3" cy="478.8" r="7.10" fill="#000"/>
<circle cx="1520.0" cy="471.2" r="7.10" fill="#000"/>
<circle cx="1556.0" cy="453.1" r="7.10" fill="#000"/>
<circle cx="1564.4" cy="411.1" r="7.10" fill="#000"/>
<circle cx="1533.9" cy="334.0" r="7.10" fill="#000"/>
<circle cx="1508.3" cy="270.2" r="7.10" fill="#000"/>
<circle cx="1489.2" cy="228.2" r="7.10" fill="#000"/>
<circle cx="1208.7" cy="402.9" r="7.10" fill="#000"/>
<circle cx="1311.5" cy="452.8" r="7.10" fill="#000"/>
<circle cx="1382.1" cy="470.6" r="7.10" fill="#000"/>
<circle cx="1431.2" cy="474.2" r="7.10" fill="#000"/>
<circle cx="1481.3" cy="464.6" r="7.10" fill="#000"/>
<circle cx="1519.4" cy="436.1" r="7.10" fill="#000"/>
<circle cx="1537.7" cy="377.9" r="7.10" fill="#000"/>
<circle cx="1518.3" cy="285.8" r="7.10" fill="#000"/>
<circle cx="1494.1" cy="213.2" r="7.10" fill="#000"/>
<circle cx="1171.4" cy="350.0" r="7.10" fill="#000"/>
<circle cx="1286.3" cy="409.2" r="7.10" fill="#000"/>
<circle cx="1361.0" cy="431.1" r="7.10" fill="#000"/>
<circle cx="1426.6" cy="435.7" r="7.10" fill="#000"/>
<circle cx="1477.3" cy="417.7" r="7.10" fill="#000"/>
<circle cx="1512.2" cy="370.3" r="7.10" fill="#000"/>
<circle cx="1516.4" cy="280.8" r="7.10" fill="#000"/>
<circle cx="1503.2" cy="204.4" r="7.10" fill="#000"/>
</mask>
<g mask="url(#gapmask2)">
<polyline points="1372.5,504.6 1422.6,504.2 1470.3,498.2 1518.0,487.2 1551.8,472.2 1536.4,420.1 1513.9,357.8 1488.8,307.7 1456.3,280.8" fill="none" stroke="#1d6ae0" stroke-width="2.4" stroke-linejoin="round"/>
<polyline points="1398.1,500.8 1443.8,500.2 1493.9,493.8 1534.0,482.2 1563.4,469.2 1565.4,431.7 1542.1,371.0 1510.8,312.7 1470.7,285.8" fill="none" stroke="#ee4242" stroke-width="2.4" stroke-linejoin="round"/>
<polyline points="1421.2,495.8 1514.3,489.2 1577.5,465.8 1603.5,455.8 1577.8,387.9 1544.6,324.0 1487.6,287.7" fill="none" stroke="#525252" stroke-width="2.4" stroke-linejoin="round"/>
<polyline points="1370.1,492.2 1420.2,493.2 1470.3,488.2 1519.0,477.2 1555.0,462.0 1536.8,401.5 1515.0,345.0 1493.2,293.9 1462.5,265.1" fill="none" stroke="#38aa6a" stroke-width="2.4" stroke-linejoin="round"/>
<polyline points="1365.0,489.8 1410.5,491.8 1462.6,488.6 1509.9,479.6 1553.4,464.2 1543.4,408.1 1520.8,345.9 1494.5,287.1 1467.6,255.7" fill="none" stroke="#ae7ade" stroke-width="2.4" stroke-linejoin="round"/>
<polyline points="1354.4,472.6 1414.1,479.6 1468.3,478.8 1520.0,471.2 1556.0,453.1 1564.4,411.1 1533.9,334.0 1508.3,270.2 1489.2,228.2" fill="none" stroke="#cb9a05" stroke-width="2.4" stroke-linejoin="round"/>
<polyline points="1208.7,402.9 1311.5,452.8 1382.1,470.6 1431.2,474.2 1481.3,464.6 1519.4,436.1 1537.7,377.9 1518.3,285.8 1494.1,213.2" fill="none" stroke="#0fcccc" stroke-width="2.4" stroke-linejoin="round"/>
<polyline points="1171.4,350.0 1286.3,409.2 1361.0,431.1 1426.6,435.7 1477.3,417.7 1512.2,370.3 1516.4,280.8 1503.2,204.4" fill="none" stroke="#7a4e4e" stroke-width="2.4" stroke-linejoin="round"/>
</g>
<circle cx="1372.5" cy="504.6" r="5.50" fill="#1d6ae0"/>
<circle cx="1422.6" cy="504.2" r="5.50" fill="#1d6ae0"/>
<circle cx="1470.3" cy="498.2" r="5.50" fill="#1d6ae0"/>
<circle cx="1518.0" cy="487.2" r="5.50" fill="#1d6ae0"/>
<circle cx="1551.8" cy="472.2" r="5.50" fill="#1d6ae0"/>
<circle cx="1536.4" cy="420.1" r="5.50" fill="#1d6ae0"/>
<circle cx="1513.9" cy="357.8" r="5.50" fill="#1d6ae0"/>
<circle cx="1488.8" cy="307.7" r="5.50" fill="#1d6ae0"/>
<circle cx="1456.3" cy="280.8" r="5.50" fill="#1d6ae0"/>
<circle cx="1398.1" cy="500.8" r="5.50" fill="#ee4242"/>
<circle cx="1443.8" cy="500.2" r="5.50" fill="#ee4242"/>
<circle cx="1493.9" cy="493.8" r="5.50" fill="#ee4242"/>
<circle cx="1534.0" cy="482.2" r="5.50" fill="#ee4242"/>
<circle cx="1563.4" cy="469.2" r="5.50" fill="#ee4242"/>
<circle cx="1565.4" cy="431.7" r="5.50" fill="#ee4242"/>
<circle cx="1542.1" cy="371.0" r="5.50" fill="#ee4242"/>
<circle cx="1510.8" cy="312.7" r="5.50" fill="#ee4242"/>
<circle cx="1470.7" cy="285.8" r="5.50" fill="#ee4242"/>
<circle cx="1421.2" cy="495.8" r="5.50" fill="#525252"/>
<circle cx="1514.3" cy="489.2" r="5.50" fill="#525252"/>
<circle cx="1577.5" cy="465.8" r="5.50" fill="#525252"/>
<circle cx="1603.5" cy="455.8" r="5.50" fill="#525252"/>
<circle cx="1577.8" cy="387.9" r="5.50" fill="#525252"/>
<circle cx="1544.6" cy="324.0" r="5.50" fill="#525252"/>
<circle cx="1487.6" cy="287.7" r="5.50" fill="#525252"/>
<circle cx="1370.1" cy="492.2" r="5.50" fill="#38aa6a"/>
<circle cx="1420.2" cy="493.2" r="5.50" fill="#38aa6a"/>
<circle cx="1470.3" cy="488.2" r="5.50" fill="#38aa6a"/>
<circle cx="1519.0" cy="477.2" r="5.50" fill="#38aa6a"/>
<circle cx="1555.0" cy="462.0" r="5.50" fill="#38aa6a"/>
<circle cx="1536.8" cy="401.5" r="5.50" fill="#38aa6a"/>
<circle cx="1515.0" cy="345.0" r="5.50" fill="#38aa6a"/>
<circle cx="1493.2" cy="293.9" r="5.50" fill="#38aa6a"/>
<circle cx="1462.5" cy="265.1" r="5.50" fill="#38aa6a"/>
<circle cx="1365.0" cy="489.8" r="5.50" fill="#ae7ade"/>
<circle cx="1410.5" cy="491.8" r="5.50" fill="#ae7ade"/>
<circle cx="1462.6" cy="488.6" r="5.50" fill="#ae7ade"/>
<circle cx="1509.9" cy="479.6" r="5.50" fill="#ae7ade"/>
<circle cx="1553.4" cy="464.2" r="5.50" fill="#ae7ade"/>
<circle cx="1543.4" cy="408.1" r="5.50" fill="#ae7ade"/>
<circle cx="1520.8" cy="345.9" r="5.50" fill="#ae7ade"/>
<circle cx="1494.5" cy="287.1" r="5.50" fill="#ae7ade"/>
<circle cx="1467.6" cy="255.7" r="5.50" fill="#ae7ade"/>
<circle cx="1354.4" cy="472.6" r="5.50" fill="#cb9a05"/>
<circle cx="1414.1" cy="479.6" r="5.50" fill="#cb9a05"/>
<circle cx="1468.3" cy="478.8" r="5.50" fill="#cb9a05"/>
<circle cx="1520.0" cy="471.2" r="5.50" fill="#cb9a05"/>
<circle cx="1556.0" cy="453.1" r="5.50" fill="#cb9a05"/>
<circle cx="1564.4" cy="411.1" r="5.50" fill="#cb9a05"/>
<circle cx="1533.9" cy="334.0" r="5.50" fill="#cb9a05"/>
<circle cx="1508.3" cy="270.2" r="5.50" fill="#cb9a05"/>
<circle cx="1489.2" cy="228.2" r="5.50" fill="#cb9a05"/>
<circle cx="1208.7" cy="402.9" r="5.50" fill="#0fcccc"/>
<circle cx="1311.5" cy="452.8" r="5.50" fill="#0fcccc"/>
<circle cx="1382.1" cy="470.6" r="5.50" fill="#0fcccc"/>
<circle cx="1431.2" cy="474.2" r="5.50" fill="#0fcccc"/>
<circle cx="1481.3" cy="464.6" r="5.50" fill="#0fcccc"/>
<circle cx="1519.4" cy="436.1" r="5.50" fill="#0fcccc"/>
<circle cx="1537.7" cy="377.9" r="5.50" fill="#0fcccc"/>
<circle cx="1518.3" cy="285.8" r="5.50" fill="#0fcccc"/>
<circle cx="1494.1" cy="213.2" r="5.50" fill="#0fcccc"/>
<circle cx="1171.4" cy="350.0" r="5.50" fill="#7a4e4e"/>
<circle cx="1286.3" cy="409.2" r="5.50" fill="#7a4e4e"/>
<circle cx="1361.0" cy="431.1" r="5.50" fill="#7a4e4e"/>
<circle cx="1426.6" cy="435.7" r="5.50" fill="#7a4e4e"/>
<circle cx="1477.3" cy="417.7" r="5.50" fill="#7a4e4e"/>
<circle cx="1512.2" cy="370.3" r="5.50" fill="#7a4e4e"/>
<circle cx="1516.4" cy="280.8" r="5.50" fill="#7a4e4e"/>
<circle cx="1503.2" cy="204.4" r="5.50" fill="#7a4e4e"/>
<path d="M1114.1,384.4 L1117.7,394.0 L1127.9,394.4 L1119.9,400.8 L1122.6,410.6 L1114.1,405.0 L1105.6,410.6 L1108.3,400.8 L1100.3,394.4 L1110.5,394.0Z" fill="#ee4242"/>
<path d="M1137.9,380.6 L1141.5,390.2 L1151.7,390.6 L1143.7,397.0 L1146.4,406.8 L1137.9,401.2 L1129.4,406.8 L1132.1,397.0 L1124.1,390.6 L1134.3,390.2Z" fill="#525252"/>
<path d="M1104.1,375.6 L1107.7,385.2 L1117.9,385.6 L1109.9,392.0 L1112.6,401.8 L1104.1,396.2 L1095.6,401.8 L1098.3,392.0 L1090.3,385.6 L1100.5,385.2Z" fill="#38aa6a"/>
<path d="M1096.0,388.8 L1099.6,398.4 L1109.8,398.8 L1101.8,405.2 L1104.5,415.0 L1096.0,409.4 L1087.5,415.0 L1090.2,405.2 L1082.2,398.8 L1092.4,398.4Z" fill="#1d6ae0"/>
<path d="M1111.6,376.9 L1115.2,386.5 L1125.4,386.9 L1117.4,393.3 L1120.1,403.1 L1111.6,397.5 L1103.1,403.1 L1105.8,393.3 L1097.8,386.9 L1108.0,386.5Z" fill="#ae7ade"/>
<path d="M1136.7,366.9 L1140.3,376.5 L1150.5,376.9 L1142.5,383.3 L1145.2,393.1 L1136.7,387.5 L1128.2,393.1 L1130.9,383.3 L1122.9,376.9 L1133.1,376.5Z" fill="#cb9a05"/>
<path d="M1152.3,367.5 L1155.9,377.1 L1166.1,377.5 L1158.1,383.9 L1160.8,393.7 L1152.3,388.1 L1143.8,393.7 L1146.5,383.9 L1138.5,377.5 L1148.7,377.1Z" fill="#0fcccc"/>
<path d="M1137.7,333.7 L1141.3,343.3 L1151.5,343.7 L1143.5,350.1 L1146.2,359.9 L1137.7,354.3 L1129.2,359.9 L1131.9,350.1 L1123.9,343.7 L1134.1,343.3Z" fill="#7a4e4e"/>
<text x="1500.3" y="347.2" font-size="18" text-anchor="middle" font-weight="bold" font-style="normal" fill="#38aa6a" >20</text>
<text x="1548.8" y="346" font-size="18" text-anchor="middle" font-weight="bold" font-style="normal" fill="#cb9a05" >20</text>
<text x="1497.5" y="365.1" font-size="18" text-anchor="middle" font-weight="bold" font-style="normal" fill="#fff" >20</text>
<text x="1526.1" y="365.1" font-size="18" text-anchor="middle" font-weight="bold" font-style="normal" fill="#ae7ade" >20</text>
<text x="1558.3" y="373.4" font-size="18" text-anchor="middle" font-weight="bold" font-style="normal" fill="#ee4242" >20</text>
<text x="1511.8" y="387.7" font-size="18" text-anchor="middle" font-weight="bold" font-style="normal" fill="#7a4e4e" >20</text>
<text x="1536.8" y="396.1" font-size="18" text-anchor="middle" font-weight="bold" font-style="normal" fill="#0fcccc" >20</text>
<text x="1594.1" y="392.5" font-size="18" text-anchor="middle" font-weight="bold" font-style="normal" fill="#525252" >20</text>
<text x="1427.2" y="428.6" font-size="18" text-anchor="middle" font-weight="bold" font-style="normal" fill="#7a4e4e" >30</text>
<text x="1478.9" y="458.6" font-size="18" text-anchor="middle" font-weight="bold" font-style="normal" fill="#0fcccc" >30</text>
<text x="1571.5" y="460.6" font-size="18" text-anchor="middle" font-weight="bold" font-style="normal" fill="#38aa6a" >30</text>
<text x="1572.5" y="454.6" font-size="18" text-anchor="middle" font-weight="bold" font-style="normal" fill="#cb9a05" >30</text>
<text x="1550.4" y="489.7" font-size="18" text-anchor="middle" font-weight="bold" font-style="normal" fill="#1d6ae0" >30</text>
<text x="1570.5" y="487.7" font-size="18" text-anchor="middle" font-weight="bold" font-style="normal" fill="#ee4242" >30</text>
<text x="1591.5" y="483.7" font-size="18" text-anchor="middle" font-weight="bold" font-style="normal" fill="#525252" >30</text>
</g>
<text x="998" y="354.4" font-size="30" text-anchor="start" font-weight="bold" font-style="italic" fill="#231815" textLength="104.5" lengthAdjust="spacingAndGlyphs" >Source</text>
<text x="998" y="388.9" font-size="30" text-anchor="start" font-weight="bold" font-style="italic" fill="#231815" textLength="82" lengthAdjust="spacingAndGlyphs" >rocks</text>
<text x="1292" y="136.5" font-size="31" text-anchor="start" font-weight="bold" font-style="italic" fill="#1e2587" textLength="149" lengthAdjust="spacingAndGlyphs" >“HP”-TTG</text>
<text x="1223.3" y="505.5" font-size="32" text-anchor="start" font-weight="bold" font-style="italic" fill="#a0a0a0" textLength="70.2" lengthAdjust="spacingAndGlyphs" >Mg#</text>
<text x="1223.3" y="537.6" font-size="32" text-anchor="start" font-weight="bold" font-style="italic" fill="#a0a0a0" textLength="172" lengthAdjust="spacingAndGlyphs" >decreasing</text>
<line x1="959.8" y1="58.2" x2="1011.8" y2="58.2" stroke="#525252" stroke-width="2.6"/>
<circle cx="985.5" cy="58.2" r="7.8" fill="#525252"/>
<text x="1019.8" y="65.6" font-size="20.5" text-anchor="start" font-weight="normal" font-style="italic" fill="#000" textLength="107.5" lengthAdjust="spacingAndGlyphs" >Mg#41 -45</text>
<line x1="959.8" y1="86.8" x2="1011.8" y2="86.8" stroke="#ee4242" stroke-width="2.6"/>
<circle cx="985.5" cy="86.8" r="7.8" fill="#ee4242"/>
<text x="1019.8" y="94.2" font-size="20.5" text-anchor="start" font-weight="normal" font-style="italic" fill="#000" textLength="113.1" lengthAdjust="spacingAndGlyphs" >Mg#46 - 50</text>
<line x1="959.8" y1="115.5" x2="1011.8" y2="115.5" stroke="#1d6ae0" stroke-width="2.6"/>
<circle cx="985.5" cy="115.5" r="7.8" fill="#1d6ae0"/>
<text x="1019.8" y="122.9" font-size="20.5" text-anchor="start" font-weight="normal" font-style="italic" fill="#000" textLength="112.7" lengthAdjust="spacingAndGlyphs" >Mg#51 - 55</text>
<line x1="959.8" y1="144.1" x2="1011.8" y2="144.1" stroke="#38aa6a" stroke-width="2.6"/>
<circle cx="985.5" cy="144.1" r="7.8" fill="#38aa6a"/>
<text x="1019.8" y="151.5" font-size="20.5" text-anchor="start" font-weight="normal" font-style="italic" fill="#000" textLength="113.1" lengthAdjust="spacingAndGlyphs" >Mg#56 - 60</text>
<line x1="959.8" y1="172.7" x2="1011.8" y2="172.7" stroke="#ae7ade" stroke-width="2.6"/>
<circle cx="985.5" cy="172.7" r="7.8" fill="#ae7ade"/>
<text x="1019.8" y="180.1" font-size="20.5" text-anchor="start" font-weight="normal" font-style="italic" fill="#000" textLength="103.3" lengthAdjust="spacingAndGlyphs" >Mg#61-65</text>
<line x1="959.8" y1="201.4" x2="1011.8" y2="201.4" stroke="#cb9a05" stroke-width="2.6"/>
<circle cx="985.5" cy="201.4" r="7.8" fill="#cb9a05"/>
<text x="1019.8" y="208.8" font-size="20.5" text-anchor="start" font-weight="normal" font-style="italic" fill="#000" textLength="113.1" lengthAdjust="spacingAndGlyphs" >Mg#66 - 70</text>
<line x1="959.8" y1="230.0" x2="1011.8" y2="230.0" stroke="#0fcccc" stroke-width="2.6"/>
<circle cx="985.5" cy="230.0" r="7.8" fill="#0fcccc"/>
<text x="1019.8" y="237.4" font-size="20.5" text-anchor="start" font-weight="normal" font-style="italic" fill="#000" textLength="112.7" lengthAdjust="spacingAndGlyphs" >Mg#71 - 75</text>
<line x1="959.8" y1="258.6" x2="1011.8" y2="258.6" stroke="#7a4e4e" stroke-width="2.6"/>
<circle cx="985.5" cy="258.6" r="7.8" fill="#7a4e4e"/>
<text x="1019.8" y="266" font-size="20.5" text-anchor="start" font-weight="normal" font-style="italic" fill="#000" textLength="113.1" lengthAdjust="spacingAndGlyphs" >Mg#76 - 80</text>
<g clip-path="url(#clipB)">
<path d="M60.0,850.0 L130.0,869.0 L188.0,888.0 L230.0,910.0 L280.0,930.0 L305.0,938.0 L343.0,940.0 L381.0,930.0 L431.0,913.0 L480.0,903.0 L516.0,879.0 L540.0,858.0 L560.0,838.0 L580.0,815.0 L600.0,800.0 L618.0,784.0 L660.0,787.0 L683.0,802.0 L698.0,820.0 L710.0,850.0 L719.0,895.0 L719.0,948.0 L700.0,994.0 L685.0,1030.0 L665.0,1070.0 L645.0,1115.0 L620.0,1133.0 L580.0,1135.0 L520.0,1129.0 L460.0,1115.0 L420.0,1097.0 L380.0,1068.0 L327.0,1032.0 L245.0,975.0 L163.0,941.0 L60.0,912.0Z" fill="#fcebdc"/>
<path d="M330.0,955.0 C333.3,957.8 365.0,956.2 380.0,962.0 C395.0,967.8 406.7,981.0 420.0,990.0 C433.3,999.0 446.7,1007.7 460.0,1016.0 C473.3,1024.3 486.7,1032.7 500.0,1040.0 C513.3,1047.3 528.3,1054.7 540.0,1060.0 C551.7,1065.3 560.7,1070.0 570.0,1072.0 C579.3,1074.0 587.7,1073.3 596.0,1072.0 C604.3,1070.7 612.7,1068.7 620.0,1064.0 C627.3,1059.3 633.2,1053.0 640.0,1044.0 C646.8,1035.0 654.8,1022.3 661.0,1010.0 C667.2,997.7 672.7,983.3 677.0,970.0 C681.3,956.7 685.0,941.7 687.0,930.0 C689.0,918.3 689.3,909.3 689.0,900.0 C688.7,890.7 687.2,884.0 685.0,874.0 C682.8,864.0 680.2,849.8 676.0,840.0 C671.8,830.2 666.0,820.7 660.0,815.0 C654.0,809.3 648.3,806.0 640.0,806.0 C631.7,806.0 623.3,807.7 610.0,815.0 C596.7,822.3 578.3,838.3 560.0,850.0 C541.7,861.7 523.3,872.5 500.0,885.0 C476.7,897.5 443.3,915.0 420.0,925.0 C396.7,935.0 375.0,940.0 360.0,945.0 C345.0,950.0 326.7,952.2 330.0,955.0Z" fill="#f9dcc0"/>
<path d="M440.0,962.0 C438.3,968.7 453.3,970.3 460.0,975.0 C466.7,979.7 470.0,984.2 480.0,990.0 C490.0,995.8 506.7,1004.0 520.0,1010.0 C533.3,1016.0 547.3,1023.0 560.0,1026.0 C572.7,1029.0 586.0,1029.3 596.0,1028.0 C606.0,1026.7 612.0,1023.7 620.0,1018.0 C628.0,1012.3 637.2,1003.3 644.0,994.0 C650.8,984.7 656.8,972.7 661.0,962.0 C665.2,951.3 667.3,940.3 669.0,930.0 C670.7,919.7 671.7,908.3 671.0,900.0 C670.3,891.7 667.5,886.3 665.0,880.0 C662.5,873.7 660.2,869.5 656.0,862.0 C651.8,854.5 645.2,841.2 640.0,835.0 C634.8,828.8 631.7,824.2 625.0,825.0 C618.3,825.8 610.8,832.5 600.0,840.0 C589.2,847.5 575.0,859.2 560.0,870.0 C545.0,880.8 525.0,894.2 510.0,905.0 C495.0,915.8 481.7,925.5 470.0,935.0 C458.3,944.5 441.7,955.3 440.0,962.0Z" fill="#f8c597"/>
<path d="M470.0,940.0 C468.7,947.0 483.7,955.7 492.0,962.0 C500.3,968.3 508.7,973.3 520.0,978.0 C531.3,982.7 547.3,988.0 560.0,990.0 C572.7,992.0 586.0,992.0 596.0,990.0 C606.0,988.0 612.7,984.0 620.0,978.0 C627.3,972.0 634.7,962.7 640.0,954.0 C645.3,945.3 649.3,934.7 652.0,926.0 C654.7,917.3 657.0,909.7 656.0,902.0 C655.0,894.3 650.3,886.0 646.0,880.0 C641.7,874.0 635.7,870.2 630.0,866.0 C624.3,861.8 618.7,855.2 612.0,855.0 C605.3,854.8 600.3,859.2 590.0,865.0 C579.7,870.8 565.0,880.8 550.0,890.0 C535.0,899.2 513.3,911.7 500.0,920.0 C486.7,928.3 471.3,933.0 470.0,940.0Z" fill="#f6ac62"/>
<path d="M520.0,950.0 C519.3,946.3 529.3,940.3 536.0,936.0 C542.7,931.7 551.0,927.3 560.0,924.0 C569.0,920.7 580.0,920.0 590.0,916.0 C600.0,912.0 612.3,904.3 620.0,900.0 C627.7,895.7 632.7,889.7 636.0,890.0 C639.3,890.3 641.0,895.3 640.0,902.0 C639.0,908.7 634.0,922.0 630.0,930.0 C626.0,938.0 621.7,945.0 616.0,950.0 C610.3,955.0 604.3,957.7 596.0,960.0 C587.7,962.3 575.3,964.3 566.0,964.0 C556.7,963.7 547.7,960.3 540.0,958.0 C532.3,955.7 520.7,953.7 520.0,950.0Z" fill="#f88f28"/>
<path d="M60.0,674.0 L225.0,657.0 L380.0,648.0 L440.0,650.0 L467.0,654.0 L516.0,665.0 L537.0,676.0 L557.0,695.0 L583.0,717.0 L593.0,743.0 L593.0,768.0 L585.0,800.0 L564.0,835.0 L540.0,858.0 L516.0,879.0 L480.0,903.0 L431.0,913.0 L381.0,930.0 L343.0,940.0 L305.0,938.0 L280.0,930.0 L230.0,910.0 L188.0,888.0 L130.0,869.0 L60.0,850.0Z" fill="#2424f4" fill-opacity="0.18"/>
<path d="M60.0,695.0 C67.5,684.9 136.2,691.0 150.0,690.0 C163.8,689.0 205.8,684.6 225.0,683.0 C244.2,681.4 357.8,671.6 380.0,671.0 C402.2,670.4 478.9,674.0 491.0,676.0 C503.1,678.0 520.5,691.4 525.0,695.0 C529.5,698.6 542.6,714.2 545.0,719.0 C547.4,723.8 554.0,746.9 554.0,753.0 C554.0,759.1 549.0,785.9 545.0,792.0 C541.0,798.1 516.5,820.3 506.0,826.0 C495.5,831.7 436.3,856.4 419.0,860.0 C401.7,863.6 316.2,869.8 298.0,869.0 C279.8,868.2 220.8,854.8 201.0,850.0 C181.2,845.2 71.8,823.9 60.0,811.0 C48.2,798.1 52.5,705.1 60.0,695.0Z" fill="#2424f4" fill-opacity="0.2"/>
<path d="M99.0,768.0 C100.2,764.0 121.5,738.1 128.0,734.0 C134.5,729.9 162.8,721.8 177.0,719.0 C191.2,716.2 277.8,701.8 298.0,700.0 C318.2,698.2 402.9,697.0 419.0,697.0 C435.1,697.0 482.9,698.6 491.0,700.0 C499.1,701.4 512.8,710.8 516.0,714.0 C519.2,717.2 529.2,734.5 530.0,739.0 C530.8,743.5 527.4,762.8 525.0,768.0 C522.6,773.2 507.8,797.6 501.0,802.0 C494.2,806.4 455.9,819.0 443.0,821.0 C430.1,823.0 362.2,826.8 346.0,826.0 C329.8,825.2 265.1,813.8 249.0,811.0 C232.9,808.2 164.2,794.4 153.0,792.0 C141.8,789.6 118.5,784.0 114.0,782.0 C109.5,780.0 97.8,772.0 99.0,768.0Z" fill="#2424f4" fill-opacity="0.22"/>
<path d="M160.0,763.0 C160.8,760.3 176.5,746.2 186.0,743.0 C195.5,739.8 258.7,726.0 274.0,724.0 C289.3,722.0 353.9,719.0 370.0,719.0 C386.1,719.0 456.1,722.3 467.0,724.0 C477.9,725.7 497.8,735.8 501.0,739.0 C504.2,742.2 507.2,759.0 506.0,763.0 C504.8,767.0 494.2,783.8 487.0,787.0 C479.8,790.2 432.8,800.8 419.0,802.0 C405.2,803.2 338.2,803.2 322.0,802.0 C305.8,800.8 237.1,789.2 225.0,787.0 C212.9,784.8 182.4,777.0 177.0,775.0 C171.6,773.0 159.2,765.7 160.0,763.0Z" fill="#2424f4" fill-opacity="0.25"/>
<path d="M203.0,768.0 C203.0,765.6 217.1,751.1 225.0,748.0 C232.9,744.9 283.8,732.6 298.0,731.0 C312.2,729.4 381.8,728.6 395.0,729.0 C408.2,729.4 451.0,734.0 457.0,736.0 C463.0,738.0 467.8,749.9 467.0,753.0 C466.2,756.1 456.1,770.6 448.0,773.0 C439.9,775.4 384.5,781.2 370.0,782.0 C355.5,782.8 286.1,782.4 274.0,782.0 C261.9,781.6 230.9,778.2 225.0,777.0 C219.1,775.8 203.0,770.4 203.0,768.0Z" fill="#2424f4" fill-opacity="0.3"/>
<path d="M211.0,753.0 C211.0,751.0 234.8,740.3 240.0,739.0 C245.2,737.7 264.8,737.3 274.0,737.0 C283.2,736.7 343.8,733.9 351.0,735.0 C358.2,736.1 360.0,748.1 360.0,750.0 C360.0,751.9 356.2,756.9 351.0,758.0 C345.8,759.1 307.2,762.6 298.0,763.0 C288.8,763.4 247.2,763.8 240.0,763.0 C232.8,762.2 211.0,755.0 211.0,753.0Z" fill="#2424f4" fill-opacity="0.35"/>
<path d="M284.0,800.0 C291.7,789.2 310.7,781.7 330.0,775.0 C349.3,768.3 376.7,765.8 400.0,760.0 C423.3,754.2 450.0,745.8 470.0,740.0 C490.0,734.2 507.5,731.5 520.0,725.0 C532.5,718.5 538.0,704.8 545.0,701.0 C552.0,697.2 555.3,699.7 562.0,702.0 C568.7,704.3 575.2,712.3 585.0,715.0 C594.8,717.7 610.7,716.3 621.0,718.0 C631.3,719.7 642.2,721.7 647.0,725.0 C651.8,728.3 652.7,734.0 650.0,738.0 C647.3,742.0 635.8,745.5 631.0,749.0 C626.2,752.5 620.5,754.7 621.0,759.0 C621.5,763.3 630.8,768.2 634.0,775.0 C637.2,781.8 640.7,788.3 640.0,800.0 C639.3,811.7 635.0,831.7 630.0,845.0 C625.0,858.3 620.0,868.3 610.0,880.0 C600.0,891.7 585.0,905.0 570.0,915.0 C555.0,925.0 538.3,934.2 520.0,940.0 C501.7,945.8 480.0,949.2 460.0,950.0 C440.0,950.8 420.0,949.2 400.0,945.0 C380.0,940.8 356.7,934.2 340.0,925.0 C323.3,915.8 309.3,904.2 300.0,890.0 C290.7,875.8 286.7,855.0 284.0,840.0 C281.3,825.0 276.3,810.8 284.0,800.0Z" fill="#35983a" fill-opacity="0.12"/>
<path d="M300.0,810.0 C307.5,800.0 330.0,795.8 350.0,790.0 C370.0,784.2 398.3,780.0 420.0,775.0 C441.7,770.0 461.7,765.0 480.0,760.0 C498.3,755.0 515.0,748.7 530.0,745.0 C545.0,741.3 558.3,738.0 570.0,738.0 C581.7,738.0 592.5,740.5 600.0,745.0 C607.5,749.5 612.5,755.8 615.0,765.0 C617.5,774.2 617.5,788.3 615.0,800.0 C612.5,811.7 607.5,824.2 600.0,835.0 C592.5,845.8 583.3,854.2 570.0,865.0 C556.7,875.8 540.0,890.8 520.0,900.0 C500.0,909.2 473.3,917.5 450.0,920.0 C426.7,922.5 400.0,920.0 380.0,915.0 C360.0,910.0 342.5,900.8 330.0,890.0 C317.5,879.2 310.0,863.3 305.0,850.0 C300.0,836.7 292.5,820.0 300.0,810.0Z" fill="#35983a" fill-opacity="0.2"/>
<path d="M330.0,820.0 C338.3,812.5 361.7,805.0 380.0,800.0 C398.3,795.0 420.0,793.3 440.0,790.0 C460.0,786.7 482.5,782.5 500.0,780.0 C517.5,777.5 531.7,774.7 545.0,775.0 C558.3,775.3 571.3,777.8 580.0,782.0 C588.7,786.2 594.5,792.0 597.0,800.0 C599.5,808.0 598.7,820.3 595.0,830.0 C591.3,839.7 585.8,850.0 575.0,858.0 C564.2,866.0 549.2,872.7 530.0,878.0 C510.8,883.3 482.5,888.8 460.0,890.0 C437.5,891.2 413.3,889.2 395.0,885.0 C376.7,880.8 360.8,871.7 350.0,865.0 C339.2,858.3 333.3,852.5 330.0,845.0 C326.7,837.5 321.7,827.5 330.0,820.0Z" fill="#35983a" fill-opacity="0.3"/>
<path d="M360.0,830.0 C364.2,822.2 380.0,813.7 395.0,808.0 C410.0,802.3 429.2,798.7 450.0,796.0 C470.8,793.3 501.7,791.7 520.0,792.0 C538.3,792.3 550.0,794.2 560.0,798.0 C570.0,801.8 577.0,808.0 580.0,815.0 C583.0,822.0 582.2,832.2 578.0,840.0 C573.8,847.8 566.3,856.2 555.0,862.0 C543.7,867.8 527.5,872.0 510.0,875.0 C492.5,878.0 468.3,880.5 450.0,880.0 C431.7,879.5 413.3,876.2 400.0,872.0 C386.7,867.8 376.7,862.0 370.0,855.0 C363.3,848.0 355.8,837.8 360.0,830.0Z" fill="#35983a" fill-opacity="0.45"/>
<path d="M395.0,835.0 C395.0,825.8 402.5,811.3 410.0,805.0 C417.5,798.7 425.0,798.8 440.0,797.0 C455.0,795.2 482.5,794.0 500.0,794.0 C517.5,794.0 534.2,794.0 545.0,797.0 C555.8,800.0 562.2,804.8 565.0,812.0 C567.8,819.2 566.2,831.7 562.0,840.0 C557.8,848.3 550.3,857.0 540.0,862.0 C529.7,867.0 515.0,868.7 500.0,870.0 C485.0,871.3 465.0,871.7 450.0,870.0 C435.0,868.3 419.2,865.8 410.0,860.0 C400.8,854.2 395.0,844.2 395.0,835.0Z" fill="#35983a" fill-opacity="0.7"/>
<path d="M216.5,770.0 C215.7,765.3 217.8,759.2 220.0,755.0 C222.2,750.8 224.2,748.7 230.0,745.0 C235.8,741.3 244.5,736.7 255.0,733.0 C265.5,729.3 280.5,725.2 293.0,723.0 C305.5,720.8 315.5,721.2 330.0,720.0 C344.5,718.8 363.2,716.3 380.0,716.0 C396.8,715.7 416.3,717.2 431.0,718.0 C445.7,718.8 460.5,718.5 468.0,721.0 C475.5,723.5 475.5,728.5 476.0,733.0 C476.5,737.5 474.3,741.0 471.0,748.0 C467.7,755.0 461.0,768.8 456.0,775.0 C451.0,781.2 449.3,780.8 441.0,785.0 C432.7,789.2 416.0,794.5 406.0,800.0 C396.0,805.5 393.7,814.8 381.0,818.0 C368.3,821.2 343.8,818.3 330.0,819.0 C316.2,819.7 308.3,823.5 298.0,822.0 C287.7,820.5 277.2,814.0 268.0,810.0 C258.8,806.0 250.2,802.5 243.0,798.0 C235.8,793.5 229.4,787.7 225.0,783.0 C220.6,778.3 217.3,774.7 216.5,770.0Z" fill="none" stroke="#1a1a7a" stroke-width="3.4" stroke-dasharray="14,8"/>
<path d="M372.0,838.0 C370.3,827.5 383.7,809.3 390.0,802.0 C396.3,794.7 400.0,796.7 410.0,794.0 C420.0,791.3 431.7,787.5 450.0,786.0 C468.3,784.5 505.7,785.0 520.0,785.0 C534.3,785.0 528.7,782.2 536.0,786.0 C543.3,789.8 559.7,798.7 564.0,808.0 C568.3,817.3 564.5,833.0 562.0,842.0 C559.5,851.0 556.3,857.3 549.0,862.0 C541.7,866.7 531.8,868.0 518.0,870.0 C504.2,872.0 479.0,873.3 466.0,874.0 C453.0,874.7 451.0,875.5 440.0,874.0 C429.0,872.5 411.3,871.0 400.0,865.0 C388.7,859.0 373.7,848.5 372.0,838.0Z" fill="none" stroke="#e8f4e8" stroke-width="3.4" stroke-dasharray="14,8"/>
<path d="M429.0,868.0 C433.0,863.5 436.2,860.3 446.0,856.0 C455.8,851.7 473.8,845.2 488.0,842.0 C502.2,838.8 518.7,838.2 531.0,837.0 C543.3,835.8 550.3,833.2 562.0,835.0 C573.7,836.8 589.8,842.5 601.0,848.0 C612.2,853.5 622.0,860.5 629.0,868.0 C636.0,875.5 641.0,884.2 643.0,893.0 C645.0,901.8 643.3,911.5 641.0,921.0 C638.7,930.5 635.3,940.8 629.0,950.0 C622.7,959.2 613.8,970.2 603.0,976.0 C592.2,981.8 579.3,987.0 564.0,985.0 C548.7,983.0 528.3,972.7 511.0,964.0 C493.7,955.3 473.2,941.5 460.0,933.0 C446.8,924.5 439.0,918.5 432.0,913.0 C425.0,907.5 419.7,905.0 418.0,900.0 C416.3,895.0 420.2,888.3 422.0,883.0 C423.8,877.7 425.0,872.5 429.0,868.0Z" fill="none" stroke="#f08a10" stroke-width="3.4" stroke-dasharray="14,8"/>
<line x1="80.0" y1="1025.5" x2="853.4" y2="247.5" stroke="#c9c9c9" stroke-width="4.4" stroke-dasharray="13,12" stroke-linecap="round"/>
<line x1="80.0" y1="1151.3" x2="853.4" y2="373.3" stroke="#c9c9c9" stroke-width="4.4" stroke-dasharray="13,12" stroke-linecap="round"/>
<line x1="80.0" y1="1320.0" x2="853.4" y2="542.0" stroke="#c9c9c9" stroke-width="4.4" stroke-dasharray="13,12" stroke-linecap="round"/>
<line x1="80.0" y1="1531.6" x2="853.4" y2="753.6" stroke="#c9c9c9" stroke-width="4.4" stroke-dasharray="13,12" stroke-linecap="round"/>
<text x="123.6" y="1009.0" font-size="19" fill="#8a8a8a" text-anchor="middle" transform="rotate(-45 123.6 1002.5)" textLength="100" lengthAdjust="spacingAndGlyphs">Sr/Y = 200</text>
<text x="201.0" y="1055.0" font-size="19" fill="#8a8a8a" text-anchor="middle" transform="rotate(-45 201.0 1048.5)" textLength="100" lengthAdjust="spacingAndGlyphs">Sr/Y = 100</text>
<text x="314.8" y="1110.5" font-size="19" fill="#8a8a8a" text-anchor="middle" transform="rotate(-45 314.8 1104.0)" textLength="100" lengthAdjust="spacingAndGlyphs">Sr/Y = 30</text>
<text x="527.8" y="1109.5" font-size="19" fill="#8a8a8a" text-anchor="middle" transform="rotate(-45 527.8 1103.0)" textLength="100" lengthAdjust="spacingAndGlyphs">Sr/Y = 10</text>
<mask id="gapmask3" maskUnits="userSpaceOnUse" x="205.7" y="787.6" width="600.8" height="220.4"><rect x="205.7" y="787.6" width="600.8" height="220.4" fill="#fff"/>
<circle cx="304.2" cy="926.9" r="7.20" fill="#000"/>
<circle cx="369.9" cy="905.9" r="7.20" fill="#000"/>
<circle cx="508.6" cy="879.2" r="7.20" fill="#000"/>
<circle cx="613.3" cy="881.8" r="7.20" fill="#000"/>
<circle cx="670.2" cy="893.4" r="7.20" fill="#000"/>
<circle cx="692.3" cy="908.1" r="7.20" fill="#000"/>
<circle cx="699.6" cy="921.7" r="7.20" fill="#000"/>
<circle cx="697.1" cy="933.3" r="7.20" fill="#000"/>
<circle cx="688.0" cy="945.9" r="7.20" fill="#000"/>
<circle cx="703.0" cy="988.0" r="7.20" fill="#000"/>
<circle cx="315.2" cy="948.3" r="7.20" fill="#000"/>
<circle cx="418.4" cy="861.2" r="7.20" fill="#000"/>
<circle cx="485.6" cy="826.5" r="7.20" fill="#000"/>
<circle cx="525.3" cy="813.8" r="7.20" fill="#000"/>
<circle cx="551.7" cy="810.7" r="7.20" fill="#000"/>
<circle cx="575.8" cy="807.6" r="7.20" fill="#000"/>
<circle cx="600.3" cy="808.1" r="7.20" fill="#000"/>
<circle cx="624.1" cy="815.3" r="7.20" fill="#000"/>
<circle cx="649.5" cy="824.1" r="7.20" fill="#000"/>
<circle cx="690.8" cy="836.5" r="7.20" fill="#000"/>
<circle cx="309.8" cy="949.3" r="7.20" fill="#000"/>
<circle cx="421.4" cy="866.6" r="7.20" fill="#000"/>
<circle cx="470.0" cy="848.0" r="7.20" fill="#000"/>
<circle cx="527.9" cy="826.2" r="7.20" fill="#000"/>
<circle cx="553.8" cy="824.1" r="7.20" fill="#000"/>
<circle cx="579.6" cy="820.5" r="7.20" fill="#000"/>
<circle cx="601.6" cy="822.3" r="7.20" fill="#000"/>
<circle cx="628.8" cy="829.3" r="7.20" fill="#000"/>
<circle cx="655.9" cy="838.6" r="7.20" fill="#000"/>
<circle cx="680.5" cy="846.4" r="7.20" fill="#000"/>
<circle cx="275.2" cy="968.4" r="7.20" fill="#000"/>
<circle cx="407.8" cy="870.6" r="7.20" fill="#000"/>
<circle cx="470.0" cy="852.0" r="7.20" fill="#000"/>
<circle cx="520.2" cy="836.0" r="7.20" fill="#000"/>
<circle cx="572.4" cy="833.4" r="7.20" fill="#000"/>
<circle cx="600.3" cy="836.0" r="7.20" fill="#000"/>
<circle cx="626.2" cy="843.0" r="7.20" fill="#000"/>
<circle cx="659.8" cy="853.3" r="7.20" fill="#000"/>
<circle cx="711.5" cy="866.3" r="7.20" fill="#000"/>
<circle cx="250.7" cy="972.0" r="7.20" fill="#000"/>
<circle cx="394.4" cy="865.8" r="7.20" fill="#000"/>
<circle cx="481.4" cy="846.9" r="7.20" fill="#000"/>
<circle cx="546.0" cy="837.8" r="7.20" fill="#000"/>
<circle cx="626.2" cy="844.3" r="7.20" fill="#000"/>
<circle cx="685.7" cy="857.2" r="7.20" fill="#000"/>
<circle cx="752.9" cy="866.3" r="7.20" fill="#000"/>
<circle cx="786.5" cy="874.8" r="7.20" fill="#000"/>
<circle cx="225.7" cy="968.8" r="7.20" fill="#000"/>
<circle cx="384.0" cy="851.5" r="7.20" fill="#000"/>
<circle cx="462.1" cy="841.1" r="7.20" fill="#000"/>
<circle cx="495.6" cy="839.1" r="7.20" fill="#000"/>
<circle cx="582.2" cy="846.9" r="7.20" fill="#000"/>
<circle cx="672.7" cy="858.5" r="7.20" fill="#000"/>
<circle cx="729.6" cy="865.0" r="7.20" fill="#000"/>
<circle cx="755.5" cy="872.7" r="7.20" fill="#000"/>
<circle cx="759.4" cy="879.2" r="7.20" fill="#000"/>
<circle cx="254.1" cy="919.3" r="7.20" fill="#000"/>
<circle cx="401.0" cy="818.1" r="7.20" fill="#000"/>
<circle cx="481.6" cy="830.7" r="7.20" fill="#000"/>
<circle cx="542.1" cy="846.9" r="7.20" fill="#000"/>
<circle cx="635.2" cy="844.8" r="7.20" fill="#000"/>
<circle cx="688.3" cy="846.9" r="7.20" fill="#000"/>
<circle cx="738.7" cy="857.2" r="7.20" fill="#000"/>
<circle cx="743.9" cy="867.6" r="7.20" fill="#000"/>
<circle cx="742.6" cy="872.7" r="7.20" fill="#000"/>
<circle cx="324.6" cy="856.2" r="7.20" fill="#000"/>
<circle cx="393.0" cy="831.1" r="7.20" fill="#000"/>
<circle cx="471.5" cy="817.7" r="7.20" fill="#000"/>
<circle cx="589.5" cy="811.2" r="7.20" fill="#000"/>
<circle cx="662.4" cy="821.0" r="7.20" fill="#000"/>
<circle cx="702.5" cy="834.5" r="7.20" fill="#000"/>
<circle cx="720.6" cy="846.9" r="7.20" fill="#000"/>
<circle cx="725.8" cy="858.5" r="7.20" fill="#000"/>
<circle cx="721.9" cy="868.9" r="7.20" fill="#000"/>
<circle cx="726.2" cy="905.7" r="7.20" fill="#000"/>
</mask>
<g mask="url(#gapmask3)">
<polyline points="304.2,926.9 369.9,905.9 508.6,879.2 613.3,881.8 670.2,893.4 692.3,908.1 699.6,921.7 697.1,933.3 688.0,945.9 703.0,988.0" fill="none" stroke="#7a4e4e" stroke-width="2.4" stroke-linejoin="round"/>
<polyline points="315.2,948.3 418.4,861.2 485.6,826.5 525.3,813.8 551.7,810.7 575.8,807.6 600.3,808.1 624.1,815.3 649.5,824.1 690.8,836.5" fill="none" stroke="#525252" stroke-width="2.4" stroke-linejoin="round"/>
<polyline points="309.8,949.3 421.4,866.6 470.0,848.0 527.9,826.2 553.8,824.1 579.6,820.5 601.6,822.3 628.8,829.3 655.9,838.6 680.5,846.4" fill="none" stroke="#ee4242" stroke-width="2.4" stroke-linejoin="round"/>
<polyline points="275.2,968.4 407.8,870.6 470.0,852.0 520.2,836.0 572.4,833.4 600.3,836.0 626.2,843.0 659.8,853.3 711.5,866.3" fill="none" stroke="#1d6ae0" stroke-width="2.4" stroke-linejoin="round"/>
<polyline points="250.7,972.0 394.4,865.8 481.4,846.9 546.0,837.8 626.2,844.3 685.7,857.2 752.9,866.3 786.5,874.8" fill="none" stroke="#38aa6a" stroke-width="2.4" stroke-linejoin="round"/>
<polyline points="225.7,968.8 384.0,851.5 462.1,841.1 495.6,839.1 582.2,846.9 672.7,858.5 729.6,865.0 755.5,872.7 759.4,879.2" fill="none" stroke="#ae7ade" stroke-width="2.4" stroke-linejoin="round"/>
<polyline points="254.1,919.3 401.0,818.1 481.6,830.7 542.1,846.9 635.2,844.8 688.3,846.9 738.7,857.2 743.9,867.6 742.6,872.7" fill="none" stroke="#cb9a05" stroke-width="2.4" stroke-linejoin="round"/>
<polyline points="324.6,856.2 393.0,831.1 471.5,817.7 589.5,811.2 662.4,821.0 702.5,834.5 720.6,846.9 725.8,858.5 721.9,868.9 726.2,905.7" fill="none" stroke="#0fcccc" stroke-width="2.4" stroke-linejoin="round"/>
</g>
<circle cx="304.2" cy="926.9" r="5.60" fill="#7a4e4e"/>
<circle cx="369.9" cy="905.9" r="5.60" fill="#7a4e4e"/>
<circle cx="508.6" cy="879.2" r="5.60" fill="#7a4e4e"/>
<circle cx="613.3" cy="881.8" r="5.60" fill="#7a4e4e"/>
<circle cx="670.2" cy="893.4" r="5.60" fill="#7a4e4e"/>
<circle cx="692.3" cy="908.1" r="5.60" fill="#7a4e4e"/>
<circle cx="699.6" cy="921.7" r="5.60" fill="#7a4e4e"/>
<circle cx="697.1" cy="933.3" r="5.60" fill="#7a4e4e"/>
<circle cx="688.0" cy="945.9" r="5.60" fill="#7a4e4e"/>
<circle cx="703.0" cy="988.0" r="5.60" fill="#7a4e4e"/>
<circle cx="315.2" cy="948.3" r="5.60" fill="#525252"/>
<circle cx="418.4" cy="861.2" r="5.60" fill="#525252"/>
<circle cx="485.6" cy="826.5" r="5.60" fill="#525252"/>
<circle cx="525.3" cy="813.8" r="5.60" fill="#525252"/>
<circle cx="551.7" cy="810.7" r="5.60" fill="#525252"/>
<circle cx="575.8" cy="807.6" r="5.60" fill="#525252"/>
<circle cx="600.3" cy="808.1" r="5.60" fill="#525252"/>
<circle cx="624.1" cy="815.3" r="5.60" fill="#525252"/>
<circle cx="649.5" cy="824.1" r="5.60" fill="#525252"/>
<circle cx="690.8" cy="836.5" r="5.60" fill="#525252"/>
<circle cx="309.8" cy="949.3" r="5.60" fill="#ee4242"/>
<circle cx="421.4" cy="866.6" r="5.60" fill="#ee4242"/>
<circle cx="470.0" cy="848.0" r="5.60" fill="#ee4242"/>
<circle cx="527.9" cy="826.2" r="5.60" fill="#ee4242"/>
<circle cx="553.8" cy="824.1" r="5.60" fill="#ee4242"/>
<circle cx="579.6" cy="820.5" r="5.60" fill="#ee4242"/>
<circle cx="601.6" cy="822.3" r="5.60" fill="#ee4242"/>
<circle cx="628.8" cy="829.3" r="5.60" fill="#ee4242"/>
<circle cx="655.9" cy="838.6" r="5.60" fill="#ee4242"/>
<circle cx="680.5" cy="846.4" r="5.60" fill="#ee4242"/>
<circle cx="275.2" cy="968.4" r="5.60" fill="#1d6ae0"/>
<circle cx="407.8" cy="870.6" r="5.60" fill="#1d6ae0"/>
<circle cx="470.0" cy="852.0" r="5.60" fill="#1d6ae0"/>
<circle cx="520.2" cy="836.0" r="5.60" fill="#1d6ae0"/>
<circle cx="572.4" cy="833.4" r="5.60" fill="#1d6ae0"/>
<circle cx="600.3" cy="836.0" r="5.60" fill="#1d6ae0"/>
<circle cx="626.2" cy="843.0" r="5.60" fill="#1d6ae0"/>
<circle cx="659.8" cy="853.3" r="5.60" fill="#1d6ae0"/>
<circle cx="711.5" cy="866.3" r="5.60" fill="#1d6ae0"/>
<circle cx="250.7" cy="972.0" r="5.60" fill="#38aa6a"/>
<circle cx="394.4" cy="865.8" r="5.60" fill="#38aa6a"/>
<circle cx="481.4" cy="846.9" r="5.60" fill="#38aa6a"/>
<circle cx="546.0" cy="837.8" r="5.60" fill="#38aa6a"/>
<circle cx="626.2" cy="844.3" r="5.60" fill="#38aa6a"/>
<circle cx="685.7" cy="857.2" r="5.60" fill="#38aa6a"/>
<circle cx="752.9" cy="866.3" r="5.60" fill="#38aa6a"/>
<circle cx="786.5" cy="874.8" r="5.60" fill="#38aa6a"/>
<circle cx="225.7" cy="968.8" r="5.60" fill="#ae7ade"/>
<circle cx="384.0" cy="851.5" r="5.60" fill="#ae7ade"/>
<circle cx="462.1" cy="841.1" r="5.60" fill="#ae7ade"/>
<circle cx="495.6" cy="839.1" r="5.60" fill="#ae7ade"/>
<circle cx="582.2" cy="846.9" r="5.60" fill="#ae7ade"/>
<circle cx="672.7" cy="858.5" r="5.60" fill="#ae7ade"/>
<circle cx="729.6" cy="865.0" r="5.60" fill="#ae7ade"/>
<circle cx="755.5" cy="872.7" r="5.60" fill="#ae7ade"/>
<circle cx="759.4" cy="879.2" r="5.60" fill="#ae7ade"/>
<circle cx="254.1" cy="919.3" r="5.60" fill="#cb9a05"/>
<circle cx="401.0" cy="818.1" r="5.60" fill="#cb9a05"/>
<circle cx="481.6" cy="830.7" r="5.60" fill="#cb9a05"/>
<circle cx="542.1" cy="846.9" r="5.60" fill="#cb9a05"/>
<circle cx="635.2" cy="844.8" r="5.60" fill="#cb9a05"/>
<circle cx="688.3" cy="846.9" r="5.60" fill="#cb9a05"/>
<circle cx="738.7" cy="857.2" r="5.60" fill="#cb9a05"/>
<circle cx="743.9" cy="867.6" r="5.60" fill="#cb9a05"/>
<circle cx="742.6" cy="872.7" r="5.60" fill="#cb9a05"/>
<circle cx="324.6" cy="856.2" r="5.60" fill="#0fcccc"/>
<circle cx="393.0" cy="831.1" r="5.60" fill="#0fcccc"/>
<circle cx="471.5" cy="817.7" r="5.60" fill="#0fcccc"/>
<circle cx="589.5" cy="811.2" r="5.60" fill="#0fcccc"/>
<circle cx="662.4" cy="821.0" r="5.60" fill="#0fcccc"/>
<circle cx="702.5" cy="834.5" r="5.60" fill="#0fcccc"/>
<circle cx="720.6" cy="846.9" r="5.60" fill="#0fcccc"/>
<circle cx="725.8" cy="858.5" r="5.60" fill="#0fcccc"/>
<circle cx="721.9" cy="868.9" r="5.60" fill="#0fcccc"/>
<circle cx="726.2" cy="905.7" r="5.60" fill="#0fcccc"/>
<text x="575.8" y="800.4" font-size="18" text-anchor="middle" font-weight="bold" font-style="italic" fill="#525252" >30</text>
<text x="592.6" y="831.4" font-size="18" text-anchor="middle" font-weight="bold" font-style="italic" fill="#ee4242" >30</text>
<text x="706.4" y="830.1" font-size="18" text-anchor="middle" font-weight="bold" font-style="italic" fill="#0fcccc" >30</text>
<text x="566.7" y="854.7" font-size="18" text-anchor="middle" font-weight="bold" font-style="italic" fill="#1d6ae0" >30</text>
<text x="596.5" y="852.1" font-size="18" text-anchor="middle" font-weight="bold" font-style="italic" fill="#38aa6a" >30</text>
<text x="703.8" y="854.7" font-size="18" text-anchor="middle" font-weight="bold" font-style="italic" fill="#cb9a05" >30</text>
<text x="670.2" y="876.7" font-size="18" text-anchor="middle" font-weight="bold" font-style="italic" fill="#ae7ade" >30</text>
<text x="665.7" y="913.1" font-size="18" text-anchor="middle" font-weight="bold" font-style="italic" fill="#7a4e4e" >30</text>
</g>
<text x="225" y="646" font-size="24" text-anchor="start" font-weight="bold" font-style="italic" fill="#1e2587" textLength="116" lengthAdjust="spacingAndGlyphs" >“HP”-TTG</text>
<text x="568" y="691" font-size="24" text-anchor="start" font-weight="bold" font-style="italic" fill="#0e9a4e" textLength="121" lengthAdjust="spacingAndGlyphs" >“MP”-TTG</text>
<text x="687.5" y="1046" font-size="24" text-anchor="start" font-weight="bold" font-style="italic" fill="#f08a10" textLength="109" lengthAdjust="spacingAndGlyphs" >“LP”-TTG</text>
<g clip-path="url(#clipF)">
<path d="M927.0,850.0 L997.0,869.0 L1055.0,888.0 L1097.0,910.0 L1147.0,930.0 L1172.0,938.0 L1210.0,940.0 L1248.0,930.0 L1298.0,913.0 L1347.0,903.0 L1383.0,879.0 L1407.0,858.0 L1427.0,838.0 L1447.0,815.0 L1467.0,800.0 L1485.0,784.0 L1527.0,787.0 L1550.0,802.0 L1565.0,820.0 L1577.0,850.0 L1586.0,895.0 L1586.0,948.0 L1567.0,994.0 L1552.0,1030.0 L1532.0,1070.0 L1512.0,1115.0 L1487.0,1133.0 L1447.0,1135.0 L1387.0,1129.0 L1327.0,1115.0 L1287.0,1097.0 L1247.0,1068.0 L1194.0,1032.0 L1112.0,975.0 L1030.0,941.0 L927.0,912.0Z" fill="#fcebdc"/>
<path d="M1197.0,955.0 C1200.3,957.8 1232.0,956.2 1247.0,962.0 C1262.0,967.8 1273.7,981.0 1287.0,990.0 C1300.3,999.0 1313.7,1007.7 1327.0,1016.0 C1340.3,1024.3 1353.7,1032.7 1367.0,1040.0 C1380.3,1047.3 1395.3,1054.7 1407.0,1060.0 C1418.7,1065.3 1427.7,1070.0 1437.0,1072.0 C1446.3,1074.0 1454.7,1073.3 1463.0,1072.0 C1471.3,1070.7 1479.7,1068.7 1487.0,1064.0 C1494.3,1059.3 1500.2,1053.0 1507.0,1044.0 C1513.8,1035.0 1521.8,1022.3 1528.0,1010.0 C1534.2,997.7 1539.7,983.3 1544.0,970.0 C1548.3,956.7 1552.0,941.7 1554.0,930.0 C1556.0,918.3 1556.3,909.3 1556.0,900.0 C1555.7,890.7 1554.2,884.0 1552.0,874.0 C1549.8,864.0 1547.2,849.8 1543.0,840.0 C1538.8,830.2 1533.0,820.7 1527.0,815.0 C1521.0,809.3 1515.3,806.0 1507.0,806.0 C1498.7,806.0 1490.3,807.7 1477.0,815.0 C1463.7,822.3 1445.3,838.3 1427.0,850.0 C1408.7,861.7 1390.3,872.5 1367.0,885.0 C1343.7,897.5 1310.3,915.0 1287.0,925.0 C1263.7,935.0 1242.0,940.0 1227.0,945.0 C1212.0,950.0 1193.7,952.2 1197.0,955.0Z" fill="#f9dcc0"/>
<path d="M1307.0,962.0 C1305.3,968.7 1320.3,970.3 1327.0,975.0 C1333.7,979.7 1337.0,984.2 1347.0,990.0 C1357.0,995.8 1373.7,1004.0 1387.0,1010.0 C1400.3,1016.0 1414.3,1023.0 1427.0,1026.0 C1439.7,1029.0 1453.0,1029.3 1463.0,1028.0 C1473.0,1026.7 1479.0,1023.7 1487.0,1018.0 C1495.0,1012.3 1504.2,1003.3 1511.0,994.0 C1517.8,984.7 1523.8,972.7 1528.0,962.0 C1532.2,951.3 1534.3,940.3 1536.0,930.0 C1537.7,919.7 1538.7,908.3 1538.0,900.0 C1537.3,891.7 1534.5,886.3 1532.0,880.0 C1529.5,873.7 1527.2,869.5 1523.0,862.0 C1518.8,854.5 1512.2,841.2 1507.0,835.0 C1501.8,828.8 1498.7,824.2 1492.0,825.0 C1485.3,825.8 1477.8,832.5 1467.0,840.0 C1456.2,847.5 1442.0,859.2 1427.0,870.0 C1412.0,880.8 1392.0,894.2 1377.0,905.0 C1362.0,915.8 1348.7,925.5 1337.0,935.0 C1325.3,944.5 1308.7,955.3 1307.0,962.0Z" fill="#f8c597"/>
<path d="M1337.0,940.0 C1335.7,947.0 1350.7,955.7 1359.0,962.0 C1367.3,968.3 1375.7,973.3 1387.0,978.0 C1398.3,982.7 1414.3,988.0 1427.0,990.0 C1439.7,992.0 1453.0,992.0 1463.0,990.0 C1473.0,988.0 1479.7,984.0 1487.0,978.0 C1494.3,972.0 1501.7,962.7 1507.0,954.0 C1512.3,945.3 1516.3,934.7 1519.0,926.0 C1521.7,917.3 1524.0,909.7 1523.0,902.0 C1522.0,894.3 1517.3,886.0 1513.0,880.0 C1508.7,874.0 1502.7,870.2 1497.0,866.0 C1491.3,861.8 1485.7,855.2 1479.0,855.0 C1472.3,854.8 1467.3,859.2 1457.0,865.0 C1446.7,870.8 1432.0,880.8 1417.0,890.0 C1402.0,899.2 1380.3,911.7 1367.0,920.0 C1353.7,928.3 1338.3,933.0 1337.0,940.0Z" fill="#f6ac62"/>
<path d="M1387.0,950.0 C1386.3,946.3 1396.3,940.3 1403.0,936.0 C1409.7,931.7 1418.0,927.3 1427.0,924.0 C1436.0,920.7 1447.0,920.0 1457.0,916.0 C1467.0,912.0 1479.3,904.3 1487.0,900.0 C1494.7,895.7 1499.7,889.7 1503.0,890.0 C1506.3,890.3 1508.0,895.3 1507.0,902.0 C1506.0,908.7 1501.0,922.0 1497.0,930.0 C1493.0,938.0 1488.7,945.0 1483.0,950.0 C1477.3,955.0 1471.3,957.7 1463.0,960.0 C1454.7,962.3 1442.3,964.3 1433.0,964.0 C1423.7,963.7 1414.7,960.3 1407.0,958.0 C1399.3,955.7 1387.7,953.7 1387.0,950.0Z" fill="#f88f28"/>
<path d="M927.0,674.0 L1092.0,657.0 L1247.0,648.0 L1307.0,650.0 L1334.0,654.0 L1383.0,665.0 L1404.0,676.0 L1424.0,695.0 L1450.0,717.0 L1460.0,743.0 L1460.0,768.0 L1452.0,800.0 L1431.0,835.0 L1407.0,858.0 L1383.0,879.0 L1347.0,903.0 L1298.0,913.0 L1248.0,930.0 L1210.0,940.0 L1172.0,938.0 L1147.0,930.0 L1097.0,910.0 L1055.0,888.0 L997.0,869.0 L927.0,850.0Z" fill="#2424f4" fill-opacity="0.18"/>
<path d="M927.0,695.0 C934.5,684.9 1003.2,691.0 1017.0,690.0 C1030.8,689.0 1072.8,684.6 1092.0,683.0 C1111.2,681.4 1224.8,671.6 1247.0,671.0 C1269.2,670.4 1345.9,674.0 1358.0,676.0 C1370.1,678.0 1387.5,691.4 1392.0,695.0 C1396.5,698.6 1409.6,714.2 1412.0,719.0 C1414.4,723.8 1421.0,746.9 1421.0,753.0 C1421.0,759.1 1416.0,785.9 1412.0,792.0 C1408.0,798.1 1383.5,820.3 1373.0,826.0 C1362.5,831.7 1303.3,856.4 1286.0,860.0 C1268.7,863.6 1183.2,869.8 1165.0,869.0 C1146.8,868.2 1087.8,854.8 1068.0,850.0 C1048.2,845.2 938.8,823.9 927.0,811.0 C915.2,798.1 919.5,705.1 927.0,695.0Z" fill="#2424f4" fill-opacity="0.2"/>
<path d="M966.0,768.0 C967.2,764.0 988.5,738.1 995.0,734.0 C1001.5,729.9 1029.8,721.8 1044.0,719.0 C1058.2,716.2 1144.8,701.8 1165.0,700.0 C1185.2,698.2 1269.9,697.0 1286.0,697.0 C1302.1,697.0 1349.9,698.6 1358.0,700.0 C1366.1,701.4 1379.8,710.8 1383.0,714.0 C1386.2,717.2 1396.2,734.5 1397.0,739.0 C1397.8,743.5 1394.4,762.8 1392.0,768.0 C1389.6,773.2 1374.8,797.6 1368.0,802.0 C1361.2,806.4 1322.9,819.0 1310.0,821.0 C1297.1,823.0 1229.2,826.8 1213.0,826.0 C1196.8,825.2 1132.1,813.8 1116.0,811.0 C1099.9,808.2 1031.2,794.4 1020.0,792.0 C1008.8,789.6 985.5,784.0 981.0,782.0 C976.5,780.0 964.8,772.0 966.0,768.0Z" fill="#2424f4" fill-opacity="0.22"/>
<path d="M1027.0,763.0 C1027.8,760.3 1043.5,746.2 1053.0,743.0 C1062.5,739.8 1125.7,726.0 1141.0,724.0 C1156.3,722.0 1220.9,719.0 1237.0,719.0 C1253.1,719.0 1323.1,722.3 1334.0,724.0 C1344.9,725.7 1364.8,735.8 1368.0,739.0 C1371.2,742.2 1374.2,759.0 1373.0,763.0 C1371.8,767.0 1361.2,783.8 1354.0,787.0 C1346.8,790.2 1299.8,800.8 1286.0,802.0 C1272.2,803.2 1205.2,803.2 1189.0,802.0 C1172.8,800.8 1104.1,789.2 1092.0,787.0 C1079.9,784.8 1049.4,777.0 1044.0,775.0 C1038.6,773.0 1026.2,765.7 1027.0,763.0Z" fill="#2424f4" fill-opacity="0.25"/>
<path d="M1070.0,768.0 C1070.0,765.6 1084.1,751.1 1092.0,748.0 C1099.9,744.9 1150.8,732.6 1165.0,731.0 C1179.2,729.4 1248.8,728.6 1262.0,729.0 C1275.2,729.4 1318.0,734.0 1324.0,736.0 C1330.0,738.0 1334.8,749.9 1334.0,753.0 C1333.2,756.1 1323.1,770.6 1315.0,773.0 C1306.9,775.4 1251.5,781.2 1237.0,782.0 C1222.5,782.8 1153.1,782.4 1141.0,782.0 C1128.9,781.6 1097.9,778.2 1092.0,777.0 C1086.1,775.8 1070.0,770.4 1070.0,768.0Z" fill="#2424f4" fill-opacity="0.3"/>
<path d="M1078.0,753.0 C1078.0,751.0 1101.8,740.3 1107.0,739.0 C1112.2,737.7 1131.8,737.3 1141.0,737.0 C1150.2,736.7 1210.8,733.9 1218.0,735.0 C1225.2,736.1 1227.0,748.1 1227.0,750.0 C1227.0,751.9 1223.2,756.9 1218.0,758.0 C1212.8,759.1 1174.2,762.6 1165.0,763.0 C1155.8,763.4 1114.2,763.8 1107.0,763.0 C1099.8,762.2 1078.0,755.0 1078.0,753.0Z" fill="#2424f4" fill-opacity="0.35"/>
<path d="M1151.0,800.0 C1158.7,789.2 1177.7,781.7 1197.0,775.0 C1216.3,768.3 1243.7,765.8 1267.0,760.0 C1290.3,754.2 1317.0,745.8 1337.0,740.0 C1357.0,734.2 1374.5,731.5 1387.0,725.0 C1399.5,718.5 1405.0,704.8 1412.0,701.0 C1419.0,697.2 1422.3,699.7 1429.0,702.0 C1435.7,704.3 1442.2,712.3 1452.0,715.0 C1461.8,717.7 1477.7,716.3 1488.0,718.0 C1498.3,719.7 1509.2,721.7 1514.0,725.0 C1518.8,728.3 1519.7,734.0 1517.0,738.0 C1514.3,742.0 1502.8,745.5 1498.0,749.0 C1493.2,752.5 1487.5,754.7 1488.0,759.0 C1488.5,763.3 1497.8,768.2 1501.0,775.0 C1504.2,781.8 1507.7,788.3 1507.0,800.0 C1506.3,811.7 1502.0,831.7 1497.0,845.0 C1492.0,858.3 1487.0,868.3 1477.0,880.0 C1467.0,891.7 1452.0,905.0 1437.0,915.0 C1422.0,925.0 1405.3,934.2 1387.0,940.0 C1368.7,945.8 1347.0,949.2 1327.0,950.0 C1307.0,950.8 1287.0,949.2 1267.0,945.0 C1247.0,940.8 1223.7,934.2 1207.0,925.0 C1190.3,915.8 1176.3,904.2 1167.0,890.0 C1157.7,875.8 1153.7,855.0 1151.0,840.0 C1148.3,825.0 1143.3,810.8 1151.0,800.0Z" fill="#35983a" fill-opacity="0.12"/>
<path d="M1167.0,810.0 C1174.5,800.0 1197.0,795.8 1217.0,790.0 C1237.0,784.2 1265.3,780.0 1287.0,775.0 C1308.7,770.0 1328.7,765.0 1347.0,760.0 C1365.3,755.0 1382.0,748.7 1397.0,745.0 C1412.0,741.3 1425.3,738.0 1437.0,738.0 C1448.7,738.0 1459.5,740.5 1467.0,745.0 C1474.5,749.5 1479.5,755.8 1482.0,765.0 C1484.5,774.2 1484.5,788.3 1482.0,800.0 C1479.5,811.7 1474.5,824.2 1467.0,835.0 C1459.5,845.8 1450.3,854.2 1437.0,865.0 C1423.7,875.8 1407.0,890.8 1387.0,900.0 C1367.0,909.2 1340.3,917.5 1317.0,920.0 C1293.7,922.5 1267.0,920.0 1247.0,915.0 C1227.0,910.0 1209.5,900.8 1197.0,890.0 C1184.5,879.2 1177.0,863.3 1172.0,850.0 C1167.0,836.7 1159.5,820.0 1167.0,810.0Z" fill="#35983a" fill-opacity="0.2"/>
<path d="M1197.0,820.0 C1205.3,812.5 1228.7,805.0 1247.0,800.0 C1265.3,795.0 1287.0,793.3 1307.0,790.0 C1327.0,786.7 1349.5,782.5 1367.0,780.0 C1384.5,777.5 1398.7,774.7 1412.0,775.0 C1425.3,775.3 1438.3,777.8 1447.0,782.0 C1455.7,786.2 1461.5,792.0 1464.0,800.0 C1466.5,808.0 1465.7,820.3 1462.0,830.0 C1458.3,839.7 1452.8,850.0 1442.0,858.0 C1431.2,866.0 1416.2,872.7 1397.0,878.0 C1377.8,883.3 1349.5,888.8 1327.0,890.0 C1304.5,891.2 1280.3,889.2 1262.0,885.0 C1243.7,880.8 1227.8,871.7 1217.0,865.0 C1206.2,858.3 1200.3,852.5 1197.0,845.0 C1193.7,837.5 1188.7,827.5 1197.0,820.0Z" fill="#35983a" fill-opacity="0.3"/>
<path d="M1227.0,830.0 C1231.2,822.2 1247.0,813.7 1262.0,808.0 C1277.0,802.3 1296.2,798.7 1317.0,796.0 C1337.8,793.3 1368.7,791.7 1387.0,792.0 C1405.3,792.3 1417.0,794.2 1427.0,798.0 C1437.0,801.8 1444.0,808.0 1447.0,815.0 C1450.0,822.0 1449.2,832.2 1445.0,840.0 C1440.8,847.8 1433.3,856.2 1422.0,862.0 C1410.7,867.8 1394.5,872.0 1377.0,875.0 C1359.5,878.0 1335.3,880.5 1317.0,880.0 C1298.7,879.5 1280.3,876.2 1267.0,872.0 C1253.7,867.8 1243.7,862.0 1237.0,855.0 C1230.3,848.0 1222.8,837.8 1227.0,830.0Z" fill="#35983a" fill-opacity="0.45"/>
<path d="M1262.0,835.0 C1262.0,825.8 1269.5,811.3 1277.0,805.0 C1284.5,798.7 1292.0,798.8 1307.0,797.0 C1322.0,795.2 1349.5,794.0 1367.0,794.0 C1384.5,794.0 1401.2,794.0 1412.0,797.0 C1422.8,800.0 1429.2,804.8 1432.0,812.0 C1434.8,819.2 1433.2,831.7 1429.0,840.0 C1424.8,848.3 1417.3,857.0 1407.0,862.0 C1396.7,867.0 1382.0,868.7 1367.0,870.0 C1352.0,871.3 1332.0,871.7 1317.0,870.0 C1302.0,868.3 1286.2,865.8 1277.0,860.0 C1267.8,854.2 1262.0,844.2 1262.0,835.0Z" fill="#35983a" fill-opacity="0.7"/>
<path d="M1083.5,770.0 C1082.7,765.3 1084.8,759.2 1087.0,755.0 C1089.2,750.8 1091.2,748.7 1097.0,745.0 C1102.8,741.3 1111.5,736.7 1122.0,733.0 C1132.5,729.3 1147.5,725.2 1160.0,723.0 C1172.5,720.8 1182.5,721.2 1197.0,720.0 C1211.5,718.8 1230.2,716.3 1247.0,716.0 C1263.8,715.7 1283.3,717.2 1298.0,718.0 C1312.7,718.8 1327.5,718.5 1335.0,721.0 C1342.5,723.5 1342.5,728.5 1343.0,733.0 C1343.5,737.5 1341.3,741.0 1338.0,748.0 C1334.7,755.0 1328.0,768.8 1323.0,775.0 C1318.0,781.2 1316.3,780.8 1308.0,785.0 C1299.7,789.2 1283.0,794.5 1273.0,800.0 C1263.0,805.5 1260.7,814.8 1248.0,818.0 C1235.3,821.2 1210.8,818.3 1197.0,819.0 C1183.2,819.7 1175.3,823.5 1165.0,822.0 C1154.7,820.5 1144.2,814.0 1135.0,810.0 C1125.8,806.0 1117.2,802.5 1110.0,798.0 C1102.8,793.5 1096.4,787.7 1092.0,783.0 C1087.6,778.3 1084.3,774.7 1083.5,770.0Z" fill="none" stroke="#1a1a7a" stroke-width="3.4" stroke-dasharray="14,8"/>
<path d="M1239.0,838.0 C1237.3,827.5 1250.7,809.3 1257.0,802.0 C1263.3,794.7 1267.0,796.7 1277.0,794.0 C1287.0,791.3 1298.7,787.5 1317.0,786.0 C1335.3,784.5 1372.7,785.0 1387.0,785.0 C1401.3,785.0 1395.7,782.2 1403.0,786.0 C1410.3,789.8 1426.7,798.7 1431.0,808.0 C1435.3,817.3 1431.5,833.0 1429.0,842.0 C1426.5,851.0 1423.3,857.3 1416.0,862.0 C1408.7,866.7 1398.8,868.0 1385.0,870.0 C1371.2,872.0 1346.0,873.3 1333.0,874.0 C1320.0,874.7 1318.0,875.5 1307.0,874.0 C1296.0,872.5 1278.3,871.0 1267.0,865.0 C1255.7,859.0 1240.7,848.5 1239.0,838.0Z" fill="none" stroke="#e8f4e8" stroke-width="3.4" stroke-dasharray="14,8"/>
<path d="M1296.0,868.0 C1300.0,863.5 1303.2,860.3 1313.0,856.0 C1322.8,851.7 1340.8,845.2 1355.0,842.0 C1369.2,838.8 1385.7,838.2 1398.0,837.0 C1410.3,835.8 1417.3,833.2 1429.0,835.0 C1440.7,836.8 1456.8,842.5 1468.0,848.0 C1479.2,853.5 1489.0,860.5 1496.0,868.0 C1503.0,875.5 1508.0,884.2 1510.0,893.0 C1512.0,901.8 1510.3,911.5 1508.0,921.0 C1505.7,930.5 1502.3,940.8 1496.0,950.0 C1489.7,959.2 1480.8,970.2 1470.0,976.0 C1459.2,981.8 1446.3,987.0 1431.0,985.0 C1415.7,983.0 1395.3,972.7 1378.0,964.0 C1360.7,955.3 1340.2,941.5 1327.0,933.0 C1313.8,924.5 1306.0,918.5 1299.0,913.0 C1292.0,907.5 1286.7,905.0 1285.0,900.0 C1283.3,895.0 1287.2,888.3 1289.0,883.0 C1290.8,877.7 1292.0,872.5 1296.0,868.0Z" fill="none" stroke="#f08a10" stroke-width="3.4" stroke-dasharray="14,8"/>
<line x1="947.0" y1="1025.5" x2="1721.0" y2="247.5" stroke="#c9c9c9" stroke-width="4.4" stroke-dasharray="13,12" stroke-linecap="round"/>
<line x1="947.0" y1="1151.3" x2="1721.0" y2="373.3" stroke="#c9c9c9" stroke-width="4.4" stroke-dasharray="13,12" stroke-linecap="round"/>
<line x1="947.0" y1="1320.0" x2="1721.0" y2="542.0" stroke="#c9c9c9" stroke-width="4.4" stroke-dasharray="13,12" stroke-linecap="round"/>
<line x1="947.0" y1="1531.6" x2="1721.0" y2="753.6" stroke="#c9c9c9" stroke-width="4.4" stroke-dasharray="13,12" stroke-linecap="round"/>
<text x="990.6" y="1009.0" font-size="19" fill="#8a8a8a" text-anchor="middle" transform="rotate(-45 990.6 1002.5)" textLength="100" lengthAdjust="spacingAndGlyphs">Sr/Y = 200</text>
<text x="1077.9" y="1047.0" font-size="19" fill="#8a8a8a" text-anchor="middle" transform="rotate(-45 1077.9 1040.5)" textLength="100" lengthAdjust="spacingAndGlyphs">Sr/Y = 100</text>
<text x="1182.0" y="1110.0" font-size="19" fill="#8a8a8a" text-anchor="middle" transform="rotate(-45 1182.0 1103.5)" textLength="100" lengthAdjust="spacingAndGlyphs">Sr/Y = 30</text>
<text x="1394.0" y="1110.0" font-size="19" fill="#8a8a8a" text-anchor="middle" transform="rotate(-45 1394.0 1103.5)" textLength="100" lengthAdjust="spacingAndGlyphs">Sr/Y = 10</text>
<mask id="gapmask4" maskUnits="userSpaceOnUse" x="1125.7" y="716.4" width="454.4" height="248.4"><rect x="1125.7" y="716.4" width="454.4" height="248.4" fill="#fff"/>
<circle cx="1178.2" cy="894.9" r="7.20" fill="#000"/>
<circle cx="1259.6" cy="861.5" r="7.20" fill="#000"/>
<circle cx="1312.9" cy="863.4" r="7.20" fill="#000"/>
<circle cx="1346.8" cy="879.4" r="7.20" fill="#000"/>
<circle cx="1381.7" cy="895.9" r="7.20" fill="#000"/>
<circle cx="1424.4" cy="913.3" r="7.20" fill="#000"/>
<circle cx="1476.7" cy="928.8" r="7.20" fill="#000"/>
<circle cx="1553.8" cy="944.8" r="7.20" fill="#000"/>
<circle cx="1216.5" cy="868.3" r="7.20" fill="#000"/>
<circle cx="1245.0" cy="830.0" r="7.20" fill="#000"/>
<circle cx="1290.0" cy="770.0" r="7.20" fill="#000"/>
<circle cx="1330.0" cy="742.0" r="7.20" fill="#000"/>
<circle cx="1353.1" cy="736.4" r="7.20" fill="#000"/>
<circle cx="1364.8" cy="736.4" r="7.20" fill="#000"/>
<circle cx="1386.1" cy="752.0" r="7.20" fill="#000"/>
<circle cx="1416.1" cy="772.8" r="7.20" fill="#000"/>
<circle cx="1448.6" cy="790.7" r="7.20" fill="#000"/>
<circle cx="1481.6" cy="807.7" r="7.20" fill="#000"/>
<circle cx="1205.3" cy="876.0" r="7.20" fill="#000"/>
<circle cx="1261.1" cy="802.8" r="7.20" fill="#000"/>
<circle cx="1300.0" cy="765.0" r="7.20" fill="#000"/>
<circle cx="1339.6" cy="741.8" r="7.20" fill="#000"/>
<circle cx="1354.1" cy="741.8" r="7.20" fill="#000"/>
<circle cx="1376.9" cy="762.1" r="7.20" fill="#000"/>
<circle cx="1406.0" cy="783.4" r="7.20" fill="#000"/>
<circle cx="1440.4" cy="801.9" r="7.20" fill="#000"/>
<circle cx="1472.4" cy="817.9" r="7.20" fill="#000"/>
<circle cx="1183.0" cy="884.3" r="7.20" fill="#000"/>
<circle cx="1240.0" cy="815.0" r="7.20" fill="#000"/>
<circle cx="1290.0" cy="765.0" r="7.20" fill="#000"/>
<circle cx="1316.3" cy="748.6" r="7.20" fill="#000"/>
<circle cx="1329.9" cy="751.5" r="7.20" fill="#000"/>
<circle cx="1358.0" cy="775.2" r="7.20" fill="#000"/>
<circle cx="1388.0" cy="796.0" r="7.20" fill="#000"/>
<circle cx="1422.0" cy="815.0" r="7.20" fill="#000"/>
<circle cx="1457.4" cy="831.4" r="7.20" fill="#000"/>
<circle cx="1170.9" cy="880.9" r="7.20" fill="#000"/>
<circle cx="1225.0" cy="820.0" r="7.20" fill="#000"/>
<circle cx="1275.0" cy="772.0" r="7.20" fill="#000"/>
<circle cx="1302.3" cy="753.4" r="7.20" fill="#000"/>
<circle cx="1320.0" cy="765.0" r="7.20" fill="#000"/>
<circle cx="1344.4" cy="778.6" r="7.20" fill="#000"/>
<circle cx="1377.4" cy="800.9" r="7.20" fill="#000"/>
<circle cx="1413.2" cy="819.8" r="7.20" fill="#000"/>
<circle cx="1448.6" cy="834.3" r="7.20" fill="#000"/>
<circle cx="1150.6" cy="879.4" r="7.20" fill="#000"/>
<circle cx="1211.1" cy="808.2" r="7.20" fill="#000"/>
<circle cx="1261.1" cy="767.9" r="7.20" fill="#000"/>
<circle cx="1286.3" cy="759.2" r="7.20" fill="#000"/>
<circle cx="1307.0" cy="766.0" r="7.20" fill="#000"/>
<circle cx="1333.8" cy="788.3" r="7.20" fill="#000"/>
<circle cx="1364.8" cy="808.2" r="7.20" fill="#000"/>
<circle cx="1400.2" cy="828.5" r="7.20" fill="#000"/>
<circle cx="1433.1" cy="844.0" r="7.20" fill="#000"/>
<circle cx="1158.8" cy="862.4" r="7.20" fill="#000"/>
<circle cx="1224.2" cy="803.3" r="7.20" fill="#000"/>
<circle cx="1265.9" cy="777.6" r="7.20" fill="#000"/>
<circle cx="1296.9" cy="768.9" r="7.20" fill="#000"/>
<circle cx="1312.9" cy="781.5" r="7.20" fill="#000"/>
<circle cx="1333.8" cy="800.4" r="7.20" fill="#000"/>
<circle cx="1368.7" cy="821.3" r="7.20" fill="#000"/>
<circle cx="1405.0" cy="841.6" r="7.20" fill="#000"/>
<circle cx="1448.6" cy="857.6" r="7.20" fill="#000"/>
<circle cx="1145.7" cy="871.2" r="7.20" fill="#000"/>
<circle cx="1254.8" cy="801.9" r="7.20" fill="#000"/>
<circle cx="1315.3" cy="788.3" r="7.20" fill="#000"/>
<circle cx="1345.4" cy="798.5" r="7.20" fill="#000"/>
<circle cx="1373.5" cy="815.4" r="7.20" fill="#000"/>
<circle cx="1406.5" cy="833.9" r="7.20" fill="#000"/>
<circle cx="1436.5" cy="848.9" r="7.20" fill="#000"/>
<circle cx="1484.0" cy="865.8" r="7.20" fill="#000"/>
<circle cx="1560.1" cy="880.4" r="7.20" fill="#000"/>
</mask>
<g mask="url(#gapmask4)">
<polyline points="1178.2,894.9 1259.6,861.5 1312.9,863.4 1346.8,879.4 1381.7,895.9 1424.4,913.3 1476.7,928.8 1553.8,944.8" fill="none" stroke="#7a4e4e" stroke-width="2.4" stroke-linejoin="round"/>
<polyline points="1216.5,868.3 1245.0,830.0 1290.0,770.0 1330.0,742.0 1353.1,736.4 1364.8,736.4 1386.1,752.0 1416.1,772.8 1448.6,790.7 1481.6,807.7" fill="none" stroke="#525252" stroke-width="2.4" stroke-linejoin="round"/>
<polyline points="1205.3,876.0 1261.1,802.8 1300.0,765.0 1339.6,741.8 1354.1,741.8 1376.9,762.1 1406.0,783.4 1440.4,801.9 1472.4,817.9" fill="none" stroke="#ee4242" stroke-width="2.4" stroke-linejoin="round"/>
<polyline points="1183.0,884.3 1240.0,815.0 1290.0,765.0 1316.3,748.6 1329.9,751.5 1358.0,775.2 1388.0,796.0 1422.0,815.0 1457.4,831.4" fill="none" stroke="#1d6ae0" stroke-width="2.4" stroke-linejoin="round"/>
<polyline points="1170.9,880.9 1225.0,820.0 1275.0,772.0 1302.3,753.4 1320.0,765.0 1344.4,778.6 1377.4,800.9 1413.2,819.8 1448.6,834.3" fill="none" stroke="#38aa6a" stroke-width="2.4" stroke-linejoin="round"/>
<polyline points="1150.6,879.4 1211.1,808.2 1261.1,767.9 1286.3,759.2 1307.0,766.0 1333.8,788.3 1364.8,808.2 1400.2,828.5 1433.1,844.0" fill="none" stroke="#ae7ade" stroke-width="2.4" stroke-linejoin="round"/>
<polyline points="1158.8,862.4 1224.2,803.3 1265.9,777.6 1296.9,768.9 1312.9,781.5 1333.8,800.4 1368.7,821.3 1405.0,841.6 1448.6,857.6" fill="none" stroke="#cb9a05" stroke-width="2.4" stroke-linejoin="round"/>
<polyline points="1145.7,871.2 1254.8,801.9 1315.3,788.3 1345.4,798.5 1373.5,815.4 1406.5,833.9 1436.5,848.9 1484.0,865.8 1560.1,880.4" fill="none" stroke="#0fcccc" stroke-width="2.4" stroke-linejoin="round"/>
</g>
<circle cx="1178.2" cy="894.9" r="5.60" fill="#7a4e4e"/>
<circle cx="1259.6" cy="861.5" r="5.60" fill="#7a4e4e"/>
<circle cx="1312.9" cy="863.4" r="5.60" fill="#7a4e4e"/>
<circle cx="1346.8" cy="879.4" r="5.60" fill="#7a4e4e"/>
<circle cx="1381.7" cy="895.9" r="5.60" fill="#7a4e4e"/>
<circle cx="1424.4" cy="913.3" r="5.60" fill="#7a4e4e"/>
<circle cx="1476.7" cy="928.8" r="5.60" fill="#7a4e4e"/>
<circle cx="1553.8" cy="944.8" r="5.60" fill="#7a4e4e"/>
<circle cx="1216.5" cy="868.3" r="5.60" fill="#525252"/>
<circle cx="1245.0" cy="830.0" r="5.60" fill="#525252"/>
<circle cx="1290.0" cy="770.0" r="5.60" fill="#525252"/>
<circle cx="1330.0" cy="742.0" r="5.60" fill="#525252"/>
<circle cx="1353.1" cy="736.4" r="5.60" fill="#525252"/>
<circle cx="1364.8" cy="736.4" r="5.60" fill="#525252"/>
<circle cx="1386.1" cy="752.0" r="5.60" fill="#525252"/>
<circle cx="1416.1" cy="772.8" r="5.60" fill="#525252"/>
<circle cx="1448.6" cy="790.7" r="5.60" fill="#525252"/>
<circle cx="1481.6" cy="807.7" r="5.60" fill="#525252"/>
<circle cx="1205.3" cy="876.0" r="5.60" fill="#ee4242"/>
<circle cx="1261.1" cy="802.8" r="5.60" fill="#ee4242"/>
<circle cx="1300.0" cy="765.0" r="5.60" fill="#ee4242"/>
<circle cx="1339.6" cy="741.8" r="5.60" fill="#ee4242"/>
<circle cx="1354.1" cy="741.8" r="5.60" fill="#ee4242"/>
<circle cx="1376.9" cy="762.1" r="5.60" fill="#ee4242"/>
<circle cx="1406.0" cy="783.4" r="5.60" fill="#ee4242"/>
<circle cx="1440.4" cy="801.9" r="5.60" fill="#ee4242"/>
<circle cx="1472.4" cy="817.9" r="5.60" fill="#ee4242"/>
<circle cx="1183.0" cy="884.3" r="5.60" fill="#1d6ae0"/>
<circle cx="1240.0" cy="815.0" r="5.60" fill="#1d6ae0"/>
<circle cx="1290.0" cy="765.0" r="5.60" fill="#1d6ae0"/>
<circle cx="1316.3" cy="748.6" r="5.60" fill="#1d6ae0"/>
<circle cx="1329.9" cy="751.5" r="5.60" fill="#1d6ae0"/>
<circle cx="1358.0" cy="775.2" r="5.60" fill="#1d6ae0"/>
<circle cx="1388.0" cy="796.0" r="5.60" fill="#1d6ae0"/>
<circle cx="1422.0" cy="815.0" r="5.60" fill="#1d6ae0"/>
<circle cx="1457.4" cy="831.4" r="5.60" fill="#1d6ae0"/>
<circle cx="1170.9" cy="880.9" r="5.60" fill="#38aa6a"/>
<circle cx="1225.0" cy="820.0" r="5.60" fill="#38aa6a"/>
<circle cx="1275.0" cy="772.0" r="5.60" fill="#38aa6a"/>
<circle cx="1302.3" cy="753.4" r="5.60" fill="#38aa6a"/>
<circle cx="1320.0" cy="765.0" r="5.60" fill="#38aa6a"/>
<circle cx="1344.4" cy="778.6" r="5.60" fill="#38aa6a"/>
<circle cx="1377.4" cy="800.9" r="5.60" fill="#38aa6a"/>
<circle cx="1413.2" cy="819.8" r="5.60" fill="#38aa6a"/>
<circle cx="1448.6" cy="834.3" r="5.60" fill="#38aa6a"/>
<circle cx="1150.6" cy="879.4" r="5.60" fill="#ae7ade"/>
<circle cx="1211.1" cy="808.2" r="5.60" fill="#ae7ade"/>
<circle cx="1261.1" cy="767.9" r="5.60" fill="#ae7ade"/>
<circle cx="1286.3" cy="759.2" r="5.60" fill="#ae7ade"/>
<circle cx="1307.0" cy="766.0" r="5.60" fill="#ae7ade"/>
<circle cx="1333.8" cy="788.3" r="5.60" fill="#ae7ade"/>
<circle cx="1364.8" cy="808.2" r="5.60" fill="#ae7ade"/>
<circle cx="1400.2" cy="828.5" r="5.60" fill="#ae7ade"/>
<circle cx="1433.1" cy="844.0" r="5.60" fill="#ae7ade"/>
<circle cx="1158.8" cy="862.4" r="5.60" fill="#cb9a05"/>
<circle cx="1224.2" cy="803.3" r="5.60" fill="#cb9a05"/>
<circle cx="1265.9" cy="777.6" r="5.60" fill="#cb9a05"/>
<circle cx="1296.9" cy="768.9" r="5.60" fill="#cb9a05"/>
<circle cx="1312.9" cy="781.5" r="5.60" fill="#cb9a05"/>
<circle cx="1333.8" cy="800.4" r="5.60" fill="#cb9a05"/>
<circle cx="1368.7" cy="821.3" r="5.60" fill="#cb9a05"/>
<circle cx="1405.0" cy="841.6" r="5.60" fill="#cb9a05"/>
<circle cx="1448.6" cy="857.6" r="5.60" fill="#cb9a05"/>
<circle cx="1145.7" cy="871.2" r="5.60" fill="#0fcccc"/>
<circle cx="1254.8" cy="801.9" r="5.60" fill="#0fcccc"/>
<circle cx="1315.3" cy="788.3" r="5.60" fill="#0fcccc"/>
<circle cx="1345.4" cy="798.5" r="5.60" fill="#0fcccc"/>
<circle cx="1373.5" cy="815.4" r="5.60" fill="#0fcccc"/>
<circle cx="1406.5" cy="833.9" r="5.60" fill="#0fcccc"/>
<circle cx="1436.5" cy="848.9" r="5.60" fill="#0fcccc"/>
<circle cx="1484.0" cy="865.8" r="5.60" fill="#0fcccc"/>
<circle cx="1560.1" cy="880.4" r="5.60" fill="#0fcccc"/>
<text x="1380.8" y="740.5" font-size="18" text-anchor="middle" font-weight="bold" font-style="italic" fill="#525252" >30</text>
<text x="1364.8" y="757.5" font-size="18" text-anchor="middle" font-weight="bold" font-style="italic" fill="#ee4242" >30</text>
<text x="1344.4" y="763.8" font-size="18" text-anchor="middle" font-weight="bold" font-style="italic" fill="#1d6ae0" >30</text>
<text x="1332.3" y="770.5" font-size="18" text-anchor="middle" font-weight="bold" font-style="italic" fill="#38aa6a" >30</text>
<text x="1295" y="789" font-size="18" text-anchor="middle" font-weight="bold" font-style="italic" fill="#cb9a05" >30</text>
<text x="1388" y="823.9" font-size="18" text-anchor="middle" font-weight="bold" font-style="italic" fill="#0fcccc" >30</text>
<text x="1346.8" y="898" font-size="18" text-anchor="middle" font-weight="bold" font-style="italic" fill="#7a4e4e" >30</text>
</g>
<text x="1046.4" y="653" font-size="24" text-anchor="start" font-weight="bold" font-style="italic" fill="#1e2587" textLength="116" lengthAdjust="spacingAndGlyphs" >“HP”-TTG</text>
<text x="1435" y="691" font-size="24" text-anchor="start" font-weight="bold" font-style="italic" fill="#0e9a4e" textLength="121" lengthAdjust="spacingAndGlyphs" >“MP”-TTG</text>
<text x="1567.4" y="1012" font-size="24" text-anchor="start" font-weight="bold" font-style="italic" fill="#f08a10" textLength="107" lengthAdjust="spacingAndGlyphs" >“LP”-TTG</text>
<g clip-path="url(#clipC)">
<path d="M60.0,1395.0 L300.0,1430.0 L460.0,1470.0 L520.0,1503.0 L519.0,1512.0 L513.0,1620.0 L507.0,1681.0 L495.0,1726.0 L480.0,1775.0 L60.0,1775.0Z" fill="#d3d3f7"/>
<path d="M60.0,1419.0 L300.0,1450.0 L450.0,1490.0 L500.0,1528.0 L498.0,1542.0 L495.0,1590.0 L480.0,1651.0 L462.0,1696.0 L447.0,1724.0 L283.0,1775.0 L60.0,1775.0Z" fill="#b0b0f8"/>
<path d="M60.0,1437.0 L300.0,1470.0 L440.0,1510.0 L480.0,1560.0 L480.0,1575.0 L468.0,1620.0 L447.0,1667.0 L60.0,1696.0Z" fill="#8e8ef9"/>
<path d="M60.0,1461.0 L300.0,1495.0 L440.0,1525.0 L455.0,1540.0 L447.0,1588.0 L60.0,1569.0Z" fill="#7474f2"/>
<path d="M60.0,1583.0 L450.0,1611.0 L449.0,1624.0 L60.0,1630.0Z" fill="#6b6bff"/>
<path d="M133.5,1351.6 L165.0,1334.0 L196.0,1322.0 L322.0,1280.0 L419.0,1258.0 L483.0,1245.0 L530.0,1225.0 L558.5,1208.5 L603.6,1214.0 L624.0,1232.0 L630.0,1256.0 L630.0,1313.0 L622.0,1350.0 L609.0,1388.0 L588.0,1414.0 L554.0,1452.0 L516.0,1511.0 L482.0,1566.0 L136.4,1371.3Z" fill="#f2ddce" fill-opacity="0.75"/>
<path d="M293.0,1351.0 L332.0,1322.0 L380.0,1298.0 L455.0,1271.0 L511.0,1249.0 L558.0,1230.0 L604.0,1235.0 L617.0,1253.0 L619.0,1294.0 L611.0,1341.0 L600.0,1378.0 L564.0,1414.0 L525.0,1467.0 L496.0,1511.0 L460.0,1480.0 L420.0,1440.0 L322.0,1390.0Z" fill="#f07d1e" fill-opacity="0.2"/>
<path d="M356.0,1356.0 L380.0,1322.0 L436.0,1298.0 L493.0,1271.0 L558.0,1244.0 L594.0,1251.0 L602.0,1262.0 L600.0,1303.0 L590.0,1343.0 L574.0,1380.0 L540.0,1424.0 L506.0,1457.0 L470.0,1440.0 L420.0,1400.0Z" fill="#f07d1e" fill-opacity="0.22"/>
<path d="M395.0,1350.0 L436.0,1317.0 L493.0,1288.0 L558.0,1256.0 L577.0,1262.0 L583.0,1279.0 L581.0,1313.0 L573.0,1350.0 L554.0,1380.0 L525.0,1404.0 L490.0,1400.0 L440.0,1375.0Z" fill="#f07d1e" fill-opacity="0.25"/>
<path d="M526.0,1294.0 L558.0,1269.0 L566.0,1279.0 L568.0,1305.0 L545.0,1302.0Z" fill="#f07d1e" fill-opacity="0.38"/>
<path d="M60.0,1375.0 C78.7,1358.2 161.3,1369.0 200.0,1365.0 C238.7,1361.0 316.7,1349.0 350.0,1345.0 C383.3,1341.0 424.7,1337.7 450.0,1335.0 C475.3,1332.3 522.7,1325.7 540.0,1325.0 C557.3,1324.3 572.0,1327.3 580.0,1330.0 C588.0,1332.7 598.0,1335.7 600.0,1345.0 C602.0,1354.3 600.3,1383.3 595.0,1400.0 C589.7,1416.7 570.0,1452.7 560.0,1470.0 C550.0,1487.3 530.7,1516.7 520.0,1530.0 C509.3,1543.3 493.3,1566.0 480.0,1570.0 C466.7,1574.0 444.0,1567.3 420.0,1560.0 C396.0,1552.7 336.0,1523.7 300.0,1515.0 C264.0,1506.3 182.0,1498.2 150.0,1495.0 C118.0,1491.8 72.0,1507.0 60.0,1491.0 C48.0,1475.0 41.3,1391.8 60.0,1375.0Z" fill="#35983a" fill-opacity="0.08"/>
<path d="M60.0,1437.0 C76.4,1426.7 157.8,1418.8 183.0,1414.0 C208.2,1409.2 229.4,1404.9 249.0,1401.0 C268.6,1397.1 309.9,1389.8 330.0,1385.0 C350.1,1380.2 380.0,1370.3 400.0,1365.0 C420.0,1359.7 459.3,1348.3 480.0,1345.0 C500.7,1341.7 544.3,1338.0 555.0,1340.0 C565.7,1342.0 561.9,1350.7 560.0,1360.0 C558.1,1369.3 546.2,1398.0 541.0,1410.0 C535.8,1422.0 526.3,1439.3 521.0,1450.0 C515.7,1460.7 506.5,1480.7 501.0,1490.0 C495.5,1499.3 486.0,1513.7 480.0,1520.0 C474.0,1526.3 464.0,1535.7 456.0,1537.0 C448.0,1538.3 432.8,1534.3 420.0,1530.0 C407.2,1525.7 380.0,1511.0 360.0,1505.0 C340.0,1499.0 298.0,1487.0 270.0,1485.0 C242.0,1483.0 178.0,1489.2 150.0,1490.0 C122.0,1490.8 72.0,1498.1 60.0,1491.0 C48.0,1483.9 43.6,1447.3 60.0,1437.0Z" fill="#35983a" fill-opacity="0.1"/>
<path d="M266.0,1438.0 C264.7,1431.3 281.5,1425.6 290.0,1420.0 C298.5,1414.4 320.7,1401.3 330.0,1396.0 C339.3,1390.7 348.0,1386.1 360.0,1380.0 C372.0,1373.9 404.0,1356.7 420.0,1350.0 C436.0,1343.3 462.0,1332.1 480.0,1330.0 C498.0,1327.9 544.3,1330.0 555.0,1334.0 C565.7,1338.0 561.9,1349.9 560.0,1360.0 C558.1,1370.1 546.2,1398.0 541.0,1410.0 C535.8,1422.0 526.3,1439.3 521.0,1450.0 C515.7,1460.7 506.5,1480.7 501.0,1490.0 C495.5,1499.3 486.0,1513.7 480.0,1520.0 C474.0,1526.3 464.0,1535.7 456.0,1537.0 C448.0,1538.3 432.8,1534.9 420.0,1530.0 C407.2,1525.1 376.0,1508.0 360.0,1500.0 C344.0,1492.0 312.5,1478.3 300.0,1470.0 C287.5,1461.7 267.3,1444.7 266.0,1438.0Z" fill="#35983a" fill-opacity="0.15"/>
<path d="M334.0,1438.0 C334.5,1434.0 339.2,1425.3 344.0,1420.0 C348.8,1414.7 362.5,1403.3 370.0,1398.0 C377.5,1392.7 391.2,1384.3 400.0,1380.0 C408.8,1375.7 426.7,1368.7 436.0,1366.0 C445.3,1363.3 458.3,1362.1 470.0,1360.0 C481.7,1357.9 515.1,1350.0 524.0,1350.0 C532.9,1350.0 536.1,1353.3 537.0,1360.0 C537.9,1366.7 533.1,1390.7 531.0,1400.0 C528.9,1409.3 524.2,1422.0 521.0,1430.0 C517.8,1438.0 511.0,1452.0 507.0,1460.0 C503.0,1468.0 495.9,1483.3 491.0,1490.0 C486.1,1496.7 475.5,1505.2 470.0,1510.0 C464.5,1514.8 454.8,1524.1 450.0,1526.0 C445.2,1527.9 438.0,1527.5 434.0,1524.0 C430.0,1520.5 425.9,1505.3 420.0,1500.0 C414.1,1494.7 398.0,1488.8 390.0,1484.0 C382.0,1479.2 366.7,1468.5 360.0,1464.0 C353.3,1459.5 343.5,1453.5 340.0,1450.0 C336.5,1446.5 333.5,1442.0 334.0,1438.0Z" fill="#35983a" fill-opacity="0.22"/>
<path d="M356.0,1437.0 C354.5,1431.7 360.1,1423.2 364.0,1418.0 C367.9,1412.8 378.2,1402.8 385.0,1398.0 C391.8,1393.2 407.0,1385.5 415.0,1382.0 C423.0,1378.5 436.3,1374.7 445.0,1372.0 C453.7,1369.3 472.0,1364.9 480.0,1362.0 C488.0,1359.1 499.0,1352.3 505.0,1350.0 C511.0,1347.7 521.7,1342.3 525.0,1345.0 C528.3,1347.7 530.9,1361.3 530.0,1370.0 C529.1,1378.7 520.9,1400.7 518.0,1410.0 C515.1,1419.3 511.1,1432.7 508.0,1440.0 C504.9,1447.3 499.4,1458.6 495.0,1465.0 C490.6,1471.4 481.0,1483.3 475.0,1488.0 C469.0,1492.7 456.7,1499.1 450.0,1500.0 C443.3,1500.9 431.7,1497.9 425.0,1495.0 C418.3,1492.1 406.7,1482.9 400.0,1478.0 C393.3,1473.1 380.9,1463.5 375.0,1458.0 C369.1,1452.5 357.5,1442.3 356.0,1437.0Z" fill="#35983a" fill-opacity="0.38"/>
<path d="M376.0,1436.0 C376.0,1430.9 380.8,1417.6 384.0,1412.0 C387.2,1406.4 393.9,1398.3 400.0,1394.0 C406.1,1389.7 422.0,1382.7 430.0,1380.0 C438.0,1377.3 453.3,1374.0 460.0,1374.0 C466.7,1374.0 474.7,1376.5 480.0,1380.0 C485.3,1383.5 497.2,1393.3 500.0,1400.0 C502.8,1406.7 502.2,1422.5 501.0,1430.0 C499.8,1437.5 495.1,1449.9 491.0,1456.0 C486.9,1462.1 476.3,1472.3 470.0,1476.0 C463.7,1479.7 450.7,1484.0 444.0,1484.0 C437.3,1484.0 425.9,1479.2 420.0,1476.0 C414.1,1472.8 404.8,1463.5 400.0,1460.0 C395.2,1456.5 387.2,1453.2 384.0,1450.0 C380.8,1446.8 376.0,1441.1 376.0,1436.0Z" fill="#35983a" fill-opacity="0.55"/>
<path d="M318.0,1498.0 L326.0,1490.0 L360.0,1476.0 L390.0,1460.0 L420.0,1448.0 L450.0,1445.0 L470.0,1458.0 L476.0,1474.0 L478.0,1490.0 L472.0,1512.0 L464.0,1536.0 L452.0,1557.0 L420.0,1550.0 L380.0,1542.0 L350.0,1530.0 L330.0,1512.0Z" fill="none" stroke="#1a1a7a" stroke-width="3.4" stroke-dasharray="14,8"/>
<path d="M384.0,1440.0 C380.9,1434.0 381.0,1429.3 382.0,1424.0 C383.0,1418.7 385.3,1413.3 390.0,1408.0 C394.7,1402.7 402.7,1396.7 410.0,1392.0 C417.3,1387.3 425.7,1382.7 434.0,1380.0 C442.3,1377.3 452.3,1376.0 460.0,1376.0 C467.7,1376.0 475.0,1376.0 480.0,1380.0 C485.0,1384.0 487.2,1393.3 490.0,1400.0 C492.8,1406.7 496.1,1413.3 496.5,1420.0 C496.9,1426.7 494.5,1433.3 492.5,1440.0 C490.5,1446.7 487.8,1454.0 484.4,1460.0 C481.0,1466.0 477.1,1471.9 472.4,1476.0 C467.7,1480.1 461.7,1483.0 456.4,1484.4 C451.1,1485.8 446.4,1485.7 440.4,1484.4 C434.4,1483.1 427.0,1480.4 420.3,1476.4 C413.6,1472.4 406.4,1466.4 400.3,1460.3 C394.2,1454.2 387.1,1446.0 384.0,1440.0Z" fill="none" stroke="#e8f4e8" stroke-width="3.4" stroke-dasharray="14,8"/>
<path d="M431.0,1351.0 C430.7,1344.5 431.2,1341.8 436.0,1336.0 C440.8,1330.2 452.7,1321.3 460.0,1316.0 C467.3,1310.7 470.0,1308.3 480.0,1304.0 C490.0,1299.7 508.4,1295.9 520.0,1290.0 C531.6,1284.1 543.0,1270.6 549.5,1268.6 C556.0,1266.6 557.0,1269.9 559.0,1278.0 C561.0,1286.1 563.2,1304.0 561.6,1317.0 C560.0,1330.0 554.8,1345.2 549.5,1355.7 C544.2,1366.2 536.5,1372.6 530.0,1380.0 C523.5,1387.4 515.4,1395.5 510.5,1400.2 C505.6,1404.9 505.6,1408.0 500.5,1408.0 C495.4,1408.0 487.8,1402.3 480.0,1400.0 C472.2,1397.7 461.0,1398.2 454.0,1394.0 C447.0,1389.8 441.8,1382.2 438.0,1375.0 C434.2,1367.8 431.3,1357.5 431.0,1351.0Z" fill="none" stroke="#f08a30" stroke-width="3.4" stroke-dasharray="14,8"/>
<mask id="gapmask5" maskUnits="userSpaceOnUse" x="355.8" y="1331.1" width="179.7" height="207.3"><rect x="355.8" y="1331.1" width="179.7" height="207.3" fill="#fff"/>
<circle cx="375.8" cy="1507.4" r="7.10" fill="#000"/>
<circle cx="384.2" cy="1493.4" r="7.10" fill="#000"/>
<circle cx="402.7" cy="1461.3" r="7.10" fill="#000"/>
<circle cx="422.7" cy="1426.3" r="7.10" fill="#000"/>
<circle cx="448.4" cy="1378.2" r="7.10" fill="#000"/>
<circle cx="458.0" cy="1368.0" r="7.10" fill="#000"/>
<circle cx="392.7" cy="1518.4" r="7.10" fill="#000"/>
<circle cx="412.3" cy="1478.4" r="7.10" fill="#000"/>
<circle cx="446.4" cy="1404.2" r="7.10" fill="#000"/>
<circle cx="457.4" cy="1368.1" r="7.10" fill="#000"/>
<circle cx="441.4" cy="1438.3" r="7.10" fill="#000"/>
<circle cx="455.0" cy="1420.0" r="7.10" fill="#000"/>
<circle cx="466.0" cy="1406.0" r="7.10" fill="#000"/>
<circle cx="472.4" cy="1400.2" r="7.10" fill="#000"/>
<circle cx="480.0" cy="1395.0" r="7.10" fill="#000"/>
<circle cx="450.0" cy="1440.0" r="7.10" fill="#000"/>
<circle cx="465.0" cy="1420.0" r="7.10" fill="#000"/>
<circle cx="477.4" cy="1410.2" r="7.10" fill="#000"/>
<circle cx="495.0" cy="1390.0" r="7.10" fill="#000"/>
<circle cx="512.5" cy="1375.2" r="7.10" fill="#000"/>
<circle cx="440.0" cy="1445.0" r="7.10" fill="#000"/>
<circle cx="452.0" cy="1430.0" r="7.10" fill="#000"/>
<circle cx="465.0" cy="1410.0" r="7.10" fill="#000"/>
<circle cx="478.0" cy="1395.0" r="7.10" fill="#000"/>
<circle cx="490.0" cy="1380.0" r="7.10" fill="#000"/>
<circle cx="439.4" cy="1479.4" r="7.10" fill="#000"/>
<circle cx="450.0" cy="1455.0" r="7.10" fill="#000"/>
<circle cx="462.0" cy="1430.0" r="7.10" fill="#000"/>
<circle cx="475.0" cy="1405.0" r="7.10" fill="#000"/>
<circle cx="488.0" cy="1385.0" r="7.10" fill="#000"/>
<circle cx="500.0" cy="1370.0" r="7.10" fill="#000"/>
<circle cx="417.3" cy="1486.4" r="7.10" fill="#000"/>
<circle cx="434.0" cy="1462.7" r="7.10" fill="#000"/>
<circle cx="455.0" cy="1440.0" r="7.10" fill="#000"/>
<circle cx="470.0" cy="1420.0" r="7.10" fill="#000"/>
<circle cx="485.0" cy="1395.0" r="7.10" fill="#000"/>
<circle cx="497.5" cy="1364.1" r="7.10" fill="#000"/>
<circle cx="500.5" cy="1352.1" r="7.10" fill="#000"/>
<circle cx="440.4" cy="1503.4" r="7.10" fill="#000"/>
<circle cx="455.0" cy="1470.0" r="7.10" fill="#000"/>
<circle cx="470.0" cy="1440.0" r="7.10" fill="#000"/>
<circle cx="485.0" cy="1410.0" r="7.10" fill="#000"/>
<circle cx="500.0" cy="1380.0" r="7.10" fill="#000"/>
<circle cx="515.5" cy="1351.1" r="7.10" fill="#000"/>
<circle cx="432.3" cy="1508.4" r="7.10" fill="#000"/>
<circle cx="450.0" cy="1480.0" r="7.10" fill="#000"/>
<circle cx="465.0" cy="1460.0" r="7.10" fill="#000"/>
<circle cx="478.4" cy="1444.3" r="7.10" fill="#000"/>
<circle cx="499.5" cy="1404.2" r="7.10" fill="#000"/>
<circle cx="508.5" cy="1383.2" r="7.10" fill="#000"/>
<circle cx="511.5" cy="1369.1" r="7.10" fill="#000"/>
</mask>
<g mask="url(#gapmask5)">
<polyline points="375.8,1507.4 384.2,1493.4 402.7,1461.3 422.7,1426.3 448.4,1378.2 458.0,1368.0" fill="none" stroke="#7a4e4e" stroke-width="2.4" stroke-linejoin="round"/>
<polyline points="392.7,1518.4 412.3,1478.4 446.4,1404.2 457.4,1368.1" fill="none" stroke="#7a4e4e" stroke-width="2.4" stroke-linejoin="round"/>
<polyline points="441.4,1438.3 455.0,1420.0 466.0,1406.0 472.4,1400.2 480.0,1395.0" fill="none" stroke="#525252" stroke-width="2.4" stroke-linejoin="round"/>
<polyline points="450.0,1440.0 465.0,1420.0 477.4,1410.2 495.0,1390.0 512.5,1375.2" fill="none" stroke="#ee4242" stroke-width="2.4" stroke-linejoin="round"/>
<polyline points="440.0,1445.0 452.0,1430.0 465.0,1410.0 478.0,1395.0 490.0,1380.0" fill="none" stroke="#1d6ae0" stroke-width="2.4" stroke-linejoin="round"/>
<polyline points="439.4,1479.4 450.0,1455.0 462.0,1430.0 475.0,1405.0 488.0,1385.0 500.0,1370.0" fill="none" stroke="#38aa6a" stroke-width="2.4" stroke-linejoin="round"/>
<polyline points="417.3,1486.4 434.0,1462.7 455.0,1440.0 470.0,1420.0 485.0,1395.0 497.5,1364.1 500.5,1352.1" fill="none" stroke="#0fcccc" stroke-width="2.4" stroke-linejoin="round"/>
<polyline points="440.4,1503.4 455.0,1470.0 470.0,1440.0 485.0,1410.0 500.0,1380.0 515.5,1351.1" fill="none" stroke="#cb9a05" stroke-width="2.4" stroke-linejoin="round"/>
<polyline points="432.3,1508.4 450.0,1480.0 465.0,1460.0 478.4,1444.3 499.5,1404.2 508.5,1383.2 511.5,1369.1" fill="none" stroke="#ae7ade" stroke-width="2.4" stroke-linejoin="round"/>
</g>
<circle cx="375.8" cy="1507.4" r="5.50" fill="#7a4e4e"/>
<circle cx="384.2" cy="1493.4" r="5.50" fill="#7a4e4e"/>
<circle cx="402.7" cy="1461.3" r="5.50" fill="#7a4e4e"/>
<circle cx="422.7" cy="1426.3" r="5.50" fill="#7a4e4e"/>
<circle cx="448.4" cy="1378.2" r="5.50" fill="#7a4e4e"/>
<circle cx="458.0" cy="1368.0" r="5.50" fill="#7a4e4e"/>
<circle cx="392.7" cy="1518.4" r="5.50" fill="#7a4e4e"/>
<circle cx="412.3" cy="1478.4" r="5.50" fill="#7a4e4e"/>
<circle cx="446.4" cy="1404.2" r="5.50" fill="#7a4e4e"/>
<circle cx="457.4" cy="1368.1" r="5.50" fill="#7a4e4e"/>
<circle cx="441.4" cy="1438.3" r="5.50" fill="#525252"/>
<circle cx="455.0" cy="1420.0" r="5.50" fill="#525252"/>
<circle cx="466.0" cy="1406.0" r="5.50" fill="#525252"/>
<circle cx="472.4" cy="1400.2" r="5.50" fill="#525252"/>
<circle cx="480.0" cy="1395.0" r="5.50" fill="#525252"/>
<circle cx="450.0" cy="1440.0" r="5.50" fill="#ee4242"/>
<circle cx="465.0" cy="1420.0" r="5.50" fill="#ee4242"/>
<circle cx="477.4" cy="1410.2" r="5.50" fill="#ee4242"/>
<circle cx="495.0" cy="1390.0" r="5.50" fill="#ee4242"/>
<circle cx="512.5" cy="1375.2" r="5.50" fill="#ee4242"/>
<circle cx="440.0" cy="1445.0" r="5.50" fill="#1d6ae0"/>
<circle cx="452.0" cy="1430.0" r="5.50" fill="#1d6ae0"/>
<circle cx="465.0" cy="1410.0" r="5.50" fill="#1d6ae0"/>
<circle cx="478.0" cy="1395.0" r="5.50" fill="#1d6ae0"/>
<circle cx="490.0" cy="1380.0" r="5.50" fill="#1d6ae0"/>
<circle cx="439.4" cy="1479.4" r="5.50" fill="#38aa6a"/>
<circle cx="450.0" cy="1455.0" r="5.50" fill="#38aa6a"/>
<circle cx="462.0" cy="1430.0" r="5.50" fill="#38aa6a"/>
<circle cx="475.0" cy="1405.0" r="5.50" fill="#38aa6a"/>
<circle cx="488.0" cy="1385.0" r="5.50" fill="#38aa6a"/>
<circle cx="500.0" cy="1370.0" r="5.50" fill="#38aa6a"/>
<circle cx="417.3" cy="1486.4" r="5.50" fill="#0fcccc"/>
<circle cx="434.0" cy="1462.7" r="5.50" fill="#0fcccc"/>
<circle cx="455.0" cy="1440.0" r="5.50" fill="#0fcccc"/>
<circle cx="470.0" cy="1420.0" r="5.50" fill="#0fcccc"/>
<circle cx="485.0" cy="1395.0" r="5.50" fill="#0fcccc"/>
<circle cx="497.5" cy="1364.1" r="5.50" fill="#0fcccc"/>
<circle cx="500.5" cy="1352.1" r="5.50" fill="#0fcccc"/>
<circle cx="440.4" cy="1503.4" r="5.50" fill="#cb9a05"/>
<circle cx="455.0" cy="1470.0" r="5.50" fill="#cb9a05"/>
<circle cx="470.0" cy="1440.0" r="5.50" fill="#cb9a05"/>
<circle cx="485.0" cy="1410.0" r="5.50" fill="#cb9a05"/>
<circle cx="500.0" cy="1380.0" r="5.50" fill="#cb9a05"/>
<circle cx="515.5" cy="1351.1" r="5.50" fill="#cb9a05"/>
<circle cx="432.3" cy="1508.4" r="5.50" fill="#ae7ade"/>
<circle cx="450.0" cy="1480.0" r="5.50" fill="#ae7ade"/>
<circle cx="465.0" cy="1460.0" r="5.50" fill="#ae7ade"/>
<circle cx="478.4" cy="1444.3" r="5.50" fill="#ae7ade"/>
<circle cx="499.5" cy="1404.2" r="5.50" fill="#ae7ade"/>
<circle cx="508.5" cy="1383.2" r="5.50" fill="#ae7ade"/>
<circle cx="511.5" cy="1369.1" r="5.50" fill="#ae7ade"/>
<text x="359.2" y="1524.9" font-size="18" text-anchor="middle" font-weight="bold" font-style="italic" fill="#7a4e4e" >50</text>
<text x="389.3" y="1540" font-size="18" text-anchor="middle" font-weight="bold" font-style="italic" fill="#7a4e4e" >5</text>
<text x="431.3" y="1384.7" font-size="18" text-anchor="middle" font-weight="bold" font-style="italic" fill="#7a4e4e" >30</text>
<text x="441.4" y="1429.7" font-size="18" text-anchor="middle" font-weight="bold" font-style="italic" fill="#7a4e4e" >30</text>
<text x="478.4" y="1362.6" font-size="18" text-anchor="middle" font-weight="bold" font-style="italic" fill="#0fcccc" >30</text>
<text x="449.4" y="1503.9" font-size="18" text-anchor="middle" font-weight="bold" font-style="italic" fill="#0fcccc" >5</text>
<text x="515.5" y="1344.6" font-size="18" text-anchor="middle" font-weight="bold" font-style="italic" fill="#cb9a05" >30</text>
<text x="444.4" y="1521.9" font-size="18" text-anchor="middle" font-weight="bold" font-style="italic" fill="#cb9a05" >5</text>
<text x="511.5" y="1399.7" font-size="18" text-anchor="middle" font-weight="bold" font-style="italic" fill="#ae7ade" >30</text>
<text x="430.3" y="1527.9" font-size="18" text-anchor="middle" font-weight="bold" font-style="italic" fill="#ae7ade" >5</text>
<text x="430.3" y="1492.9" font-size="18" text-anchor="middle" font-weight="bold" font-style="italic" fill="#38aa6a" >5</text>
<text x="476.4" y="1392.7" font-size="18" text-anchor="middle" font-weight="bold" font-style="italic" fill="#38aa6a" >30</text>
<text x="453.4" y="1417.7" font-size="18" text-anchor="middle" font-weight="bold" font-style="italic" fill="#1d6ae0" >30</text>
</g>
<g clip-path="url(#clipG)">
<path d="M927.0,1395.0 L1167.0,1430.0 L1327.0,1470.0 L1387.0,1503.0 L1386.0,1512.0 L1380.0,1620.0 L1374.0,1681.0 L1362.0,1726.0 L1347.0,1775.0 L927.0,1775.0Z" fill="#d3d3f7"/>
<path d="M927.0,1419.0 L1167.0,1450.0 L1317.0,1490.0 L1367.0,1528.0 L1365.0,1542.0 L1362.0,1590.0 L1347.0,1651.0 L1329.0,1696.0 L1314.0,1724.0 L1150.0,1775.0 L927.0,1775.0Z" fill="#b0b0f8"/>
<path d="M927.0,1437.0 L1167.0,1470.0 L1307.0,1510.0 L1347.0,1560.0 L1347.0,1575.0 L1335.0,1620.0 L1314.0,1667.0 L927.0,1696.0Z" fill="#8e8ef9"/>
<path d="M927.0,1461.0 L1167.0,1495.0 L1307.0,1525.0 L1322.0,1540.0 L1314.0,1588.0 L927.0,1569.0Z" fill="#7474f2"/>
<path d="M927.0,1583.0 L1317.0,1611.0 L1316.0,1624.0 L927.0,1630.0Z" fill="#6b6bff"/>
<path d="M1000.5,1351.6 L1032.0,1334.0 L1063.0,1322.0 L1189.0,1280.0 L1286.0,1258.0 L1350.0,1245.0 L1397.0,1225.0 L1425.5,1208.5 L1470.6,1214.0 L1491.0,1232.0 L1497.0,1256.0 L1497.0,1313.0 L1489.0,1350.0 L1476.0,1388.0 L1455.0,1414.0 L1421.0,1452.0 L1383.0,1511.0 L1349.0,1566.0 L1003.4,1371.3Z" fill="#f2ddce" fill-opacity="0.75"/>
<path d="M1160.0,1351.0 L1199.0,1322.0 L1247.0,1298.0 L1322.0,1271.0 L1378.0,1249.0 L1425.0,1230.0 L1471.0,1235.0 L1484.0,1253.0 L1486.0,1294.0 L1478.0,1341.0 L1467.0,1378.0 L1431.0,1414.0 L1392.0,1467.0 L1363.0,1511.0 L1327.0,1480.0 L1287.0,1440.0 L1189.0,1390.0Z" fill="#f07d1e" fill-opacity="0.2"/>
<path d="M1223.0,1356.0 L1247.0,1322.0 L1303.0,1298.0 L1360.0,1271.0 L1425.0,1244.0 L1461.0,1251.0 L1469.0,1262.0 L1467.0,1303.0 L1457.0,1343.0 L1441.0,1380.0 L1407.0,1424.0 L1373.0,1457.0 L1337.0,1440.0 L1287.0,1400.0Z" fill="#f07d1e" fill-opacity="0.22"/>
<path d="M1262.0,1350.0 L1303.0,1317.0 L1360.0,1288.0 L1425.0,1256.0 L1444.0,1262.0 L1450.0,1279.0 L1448.0,1313.0 L1440.0,1350.0 L1421.0,1380.0 L1392.0,1404.0 L1357.0,1400.0 L1307.0,1375.0Z" fill="#f07d1e" fill-opacity="0.25"/>
<path d="M1393.0,1294.0 L1425.0,1269.0 L1433.0,1279.0 L1435.0,1305.0 L1412.0,1302.0Z" fill="#f07d1e" fill-opacity="0.38"/>
<path d="M927.0,1375.0 C945.7,1358.2 1028.3,1369.0 1067.0,1365.0 C1105.7,1361.0 1183.7,1349.0 1217.0,1345.0 C1250.3,1341.0 1291.7,1337.7 1317.0,1335.0 C1342.3,1332.3 1389.7,1325.7 1407.0,1325.0 C1424.3,1324.3 1439.0,1327.3 1447.0,1330.0 C1455.0,1332.7 1465.0,1335.7 1467.0,1345.0 C1469.0,1354.3 1467.3,1383.3 1462.0,1400.0 C1456.7,1416.7 1437.0,1452.7 1427.0,1470.0 C1417.0,1487.3 1397.7,1516.7 1387.0,1530.0 C1376.3,1543.3 1360.3,1566.0 1347.0,1570.0 C1333.7,1574.0 1311.0,1567.3 1287.0,1560.0 C1263.0,1552.7 1203.0,1523.7 1167.0,1515.0 C1131.0,1506.3 1049.0,1498.2 1017.0,1495.0 C985.0,1491.8 939.0,1507.0 927.0,1491.0 C915.0,1475.0 908.3,1391.8 927.0,1375.0Z" fill="#35983a" fill-opacity="0.08"/>
<path d="M927.0,1437.0 C943.4,1426.7 1024.8,1418.8 1050.0,1414.0 C1075.2,1409.2 1096.4,1404.9 1116.0,1401.0 C1135.6,1397.1 1176.9,1389.8 1197.0,1385.0 C1217.1,1380.2 1247.0,1370.3 1267.0,1365.0 C1287.0,1359.7 1326.3,1348.3 1347.0,1345.0 C1367.7,1341.7 1411.3,1338.0 1422.0,1340.0 C1432.7,1342.0 1428.9,1350.7 1427.0,1360.0 C1425.1,1369.3 1413.2,1398.0 1408.0,1410.0 C1402.8,1422.0 1393.3,1439.3 1388.0,1450.0 C1382.7,1460.7 1373.5,1480.7 1368.0,1490.0 C1362.5,1499.3 1353.0,1513.7 1347.0,1520.0 C1341.0,1526.3 1331.0,1535.7 1323.0,1537.0 C1315.0,1538.3 1299.8,1534.3 1287.0,1530.0 C1274.2,1525.7 1247.0,1511.0 1227.0,1505.0 C1207.0,1499.0 1165.0,1487.0 1137.0,1485.0 C1109.0,1483.0 1045.0,1489.2 1017.0,1490.0 C989.0,1490.8 939.0,1498.1 927.0,1491.0 C915.0,1483.9 910.6,1447.3 927.0,1437.0Z" fill="#35983a" fill-opacity="0.1"/>
<path d="M1133.0,1438.0 C1131.7,1431.3 1148.5,1425.6 1157.0,1420.0 C1165.5,1414.4 1187.7,1401.3 1197.0,1396.0 C1206.3,1390.7 1215.0,1386.1 1227.0,1380.0 C1239.0,1373.9 1271.0,1356.7 1287.0,1350.0 C1303.0,1343.3 1329.0,1332.1 1347.0,1330.0 C1365.0,1327.9 1411.3,1330.0 1422.0,1334.0 C1432.7,1338.0 1428.9,1349.9 1427.0,1360.0 C1425.1,1370.1 1413.2,1398.0 1408.0,1410.0 C1402.8,1422.0 1393.3,1439.3 1388.0,1450.0 C1382.7,1460.7 1373.5,1480.7 1368.0,1490.0 C1362.5,1499.3 1353.0,1513.7 1347.0,1520.0 C1341.0,1526.3 1331.0,1535.7 1323.0,1537.0 C1315.0,1538.3 1299.8,1534.9 1287.0,1530.0 C1274.2,1525.1 1243.0,1508.0 1227.0,1500.0 C1211.0,1492.0 1179.5,1478.3 1167.0,1470.0 C1154.5,1461.7 1134.3,1444.7 1133.0,1438.0Z" fill="#35983a" fill-opacity="0.15"/>
<path d="M1201.0,1438.0 C1201.5,1434.0 1206.2,1425.3 1211.0,1420.0 C1215.8,1414.7 1229.5,1403.3 1237.0,1398.0 C1244.5,1392.7 1258.2,1384.3 1267.0,1380.0 C1275.8,1375.7 1293.7,1368.7 1303.0,1366.0 C1312.3,1363.3 1325.3,1362.1 1337.0,1360.0 C1348.7,1357.9 1382.1,1350.0 1391.0,1350.0 C1399.9,1350.0 1403.1,1353.3 1404.0,1360.0 C1404.9,1366.7 1400.1,1390.7 1398.0,1400.0 C1395.9,1409.3 1391.2,1422.0 1388.0,1430.0 C1384.8,1438.0 1378.0,1452.0 1374.0,1460.0 C1370.0,1468.0 1362.9,1483.3 1358.0,1490.0 C1353.1,1496.7 1342.5,1505.2 1337.0,1510.0 C1331.5,1514.8 1321.8,1524.1 1317.0,1526.0 C1312.2,1527.9 1305.0,1527.5 1301.0,1524.0 C1297.0,1520.5 1292.9,1505.3 1287.0,1500.0 C1281.1,1494.7 1265.0,1488.8 1257.0,1484.0 C1249.0,1479.2 1233.7,1468.5 1227.0,1464.0 C1220.3,1459.5 1210.5,1453.5 1207.0,1450.0 C1203.5,1446.5 1200.5,1442.0 1201.0,1438.0Z" fill="#35983a" fill-opacity="0.22"/>
<path d="M1223.0,1437.0 C1221.5,1431.7 1227.1,1423.2 1231.0,1418.0 C1234.9,1412.8 1245.2,1402.8 1252.0,1398.0 C1258.8,1393.2 1274.0,1385.5 1282.0,1382.0 C1290.0,1378.5 1303.3,1374.7 1312.0,1372.0 C1320.7,1369.3 1339.0,1364.9 1347.0,1362.0 C1355.0,1359.1 1366.0,1352.3 1372.0,1350.0 C1378.0,1347.7 1388.7,1342.3 1392.0,1345.0 C1395.3,1347.7 1397.9,1361.3 1397.0,1370.0 C1396.1,1378.7 1387.9,1400.7 1385.0,1410.0 C1382.1,1419.3 1378.1,1432.7 1375.0,1440.0 C1371.9,1447.3 1366.4,1458.6 1362.0,1465.0 C1357.6,1471.4 1348.0,1483.3 1342.0,1488.0 C1336.0,1492.7 1323.7,1499.1 1317.0,1500.0 C1310.3,1500.9 1298.7,1497.9 1292.0,1495.0 C1285.3,1492.1 1273.7,1482.9 1267.0,1478.0 C1260.3,1473.1 1247.9,1463.5 1242.0,1458.0 C1236.1,1452.5 1224.5,1442.3 1223.0,1437.0Z" fill="#35983a" fill-opacity="0.38"/>
<path d="M1243.0,1436.0 C1243.0,1430.9 1247.8,1417.6 1251.0,1412.0 C1254.2,1406.4 1260.9,1398.3 1267.0,1394.0 C1273.1,1389.7 1289.0,1382.7 1297.0,1380.0 C1305.0,1377.3 1320.3,1374.0 1327.0,1374.0 C1333.7,1374.0 1341.7,1376.5 1347.0,1380.0 C1352.3,1383.5 1364.2,1393.3 1367.0,1400.0 C1369.8,1406.7 1369.2,1422.5 1368.0,1430.0 C1366.8,1437.5 1362.1,1449.9 1358.0,1456.0 C1353.9,1462.1 1343.3,1472.3 1337.0,1476.0 C1330.7,1479.7 1317.7,1484.0 1311.0,1484.0 C1304.3,1484.0 1292.9,1479.2 1287.0,1476.0 C1281.1,1472.8 1271.8,1463.5 1267.0,1460.0 C1262.2,1456.5 1254.2,1453.2 1251.0,1450.0 C1247.8,1446.8 1243.0,1441.1 1243.0,1436.0Z" fill="#35983a" fill-opacity="0.55"/>
<path d="M1185.0,1498.0 L1193.0,1490.0 L1227.0,1476.0 L1257.0,1460.0 L1287.0,1448.0 L1317.0,1445.0 L1337.0,1458.0 L1343.0,1474.0 L1345.0,1490.0 L1339.0,1512.0 L1331.0,1536.0 L1319.0,1557.0 L1287.0,1550.0 L1247.0,1542.0 L1217.0,1530.0 L1197.0,1512.0Z" fill="none" stroke="#1a1a7a" stroke-width="3.4" stroke-dasharray="14,8"/>
<path d="M1251.0,1440.0 C1248.0,1434.0 1248.0,1429.3 1249.0,1424.0 C1250.0,1418.7 1252.3,1413.3 1257.0,1408.0 C1261.7,1402.7 1269.7,1396.7 1277.0,1392.0 C1284.3,1387.3 1292.7,1382.7 1301.0,1380.0 C1309.3,1377.3 1319.3,1376.0 1327.0,1376.0 C1334.7,1376.0 1342.0,1376.0 1347.0,1380.0 C1352.0,1384.0 1354.2,1393.3 1357.0,1400.0 C1359.8,1406.7 1363.1,1413.3 1363.5,1420.0 C1363.9,1426.7 1361.5,1433.3 1359.5,1440.0 C1357.5,1446.7 1354.8,1454.0 1351.4,1460.0 C1348.1,1466.0 1344.1,1471.9 1339.4,1476.0 C1334.7,1480.1 1328.7,1483.0 1323.4,1484.4 C1318.1,1485.8 1313.4,1485.7 1307.4,1484.4 C1301.4,1483.1 1294.0,1480.4 1287.3,1476.4 C1280.6,1472.4 1273.3,1466.4 1267.3,1460.3 C1261.2,1454.2 1254.0,1446.0 1251.0,1440.0Z" fill="none" stroke="#e8f4e8" stroke-width="3.4" stroke-dasharray="14,8"/>
<path d="M1298.0,1351.0 C1297.7,1344.5 1298.2,1341.8 1303.0,1336.0 C1307.8,1330.2 1319.7,1321.3 1327.0,1316.0 C1334.3,1310.7 1337.0,1308.3 1347.0,1304.0 C1357.0,1299.7 1375.4,1295.9 1387.0,1290.0 C1398.6,1284.1 1410.0,1270.6 1416.5,1268.6 C1423.0,1266.6 1424.0,1269.9 1426.0,1278.0 C1428.0,1286.1 1430.2,1304.0 1428.6,1317.0 C1427.0,1330.0 1421.8,1345.2 1416.5,1355.7 C1411.2,1366.2 1403.5,1372.6 1397.0,1380.0 C1390.5,1387.4 1382.4,1395.5 1377.5,1400.2 C1372.6,1404.9 1372.6,1408.0 1367.5,1408.0 C1362.4,1408.0 1354.8,1402.3 1347.0,1400.0 C1339.2,1397.7 1328.0,1398.2 1321.0,1394.0 C1314.0,1389.8 1308.8,1382.2 1305.0,1375.0 C1301.2,1367.8 1298.3,1357.5 1298.0,1351.0Z" fill="none" stroke="#f08a30" stroke-width="3.4" stroke-dasharray="14,8"/>
<mask id="gapmask6" maskUnits="userSpaceOnUse" x="1194.1" y="1312.4" width="201.4" height="241.0"><rect x="1194.1" y="1312.4" width="201.4" height="241.0" fill="#fff"/>
<circle cx="1262.2" cy="1475.3" r="7.10" fill="#000"/>
<circle cx="1275.3" cy="1454.3" r="7.10" fill="#000"/>
<circle cx="1289.3" cy="1430.2" r="7.10" fill="#000"/>
<circle cx="1306.3" cy="1403.2" r="7.10" fill="#000"/>
<circle cx="1306.3" cy="1389.1" r="7.10" fill="#000"/>
<circle cx="1287.3" cy="1467.3" r="7.10" fill="#000"/>
<circle cx="1305.0" cy="1430.0" r="7.10" fill="#000"/>
<circle cx="1323.4" cy="1389.1" r="7.10" fill="#000"/>
<circle cx="1214.1" cy="1533.4" r="7.10" fill="#000"/>
<circle cx="1218.0" cy="1522.0" r="7.10" fill="#000"/>
<circle cx="1226.0" cy="1510.0" r="7.10" fill="#000"/>
<circle cx="1240.0" cy="1495.0" r="7.10" fill="#000"/>
<circle cx="1273.3" cy="1466.3" r="7.10" fill="#000"/>
<circle cx="1320.0" cy="1400.0" r="7.10" fill="#000"/>
<circle cx="1365.5" cy="1332.4" r="7.10" fill="#000"/>
<circle cx="1240.0" cy="1510.0" r="7.10" fill="#000"/>
<circle cx="1249.2" cy="1497.4" r="7.10" fill="#000"/>
<circle cx="1300.0" cy="1440.0" r="7.10" fill="#000"/>
<circle cx="1330.0" cy="1400.0" r="7.10" fill="#000"/>
<circle cx="1375.5" cy="1351.1" r="7.10" fill="#000"/>
<circle cx="1235.2" cy="1524.4" r="7.10" fill="#000"/>
<circle cx="1233.0" cy="1514.0" r="7.10" fill="#000"/>
<circle cx="1260.0" cy="1490.0" r="7.10" fill="#000"/>
<circle cx="1290.0" cy="1460.0" r="7.10" fill="#000"/>
<circle cx="1346.4" cy="1393.1" r="7.10" fill="#000"/>
<circle cx="1244.2" cy="1512.4" r="7.10" fill="#000"/>
<circle cx="1260.0" cy="1495.0" r="7.10" fill="#000"/>
<circle cx="1290.0" cy="1460.0" r="7.10" fill="#000"/>
<circle cx="1320.0" cy="1435.0" r="7.10" fill="#000"/>
<circle cx="1341.4" cy="1416.2" r="7.10" fill="#000"/>
<circle cx="1277.3" cy="1520.4" r="7.10" fill="#000"/>
<circle cx="1292.3" cy="1480.3" r="7.10" fill="#000"/>
<circle cx="1300.3" cy="1465.3" r="7.10" fill="#000"/>
<circle cx="1310.3" cy="1448.3" r="7.10" fill="#000"/>
<circle cx="1319.4" cy="1436.2" r="7.10" fill="#000"/>
<circle cx="1324.4" cy="1426.2" r="7.10" fill="#000"/>
<circle cx="1338.4" cy="1405.2" r="7.10" fill="#000"/>
<circle cx="1267.3" cy="1523.4" r="7.10" fill="#000"/>
<circle cx="1262.2" cy="1496.4" r="7.10" fill="#000"/>
<circle cx="1282.3" cy="1476.3" r="7.10" fill="#000"/>
<circle cx="1300.0" cy="1465.0" r="7.10" fill="#000"/>
<circle cx="1314.3" cy="1458.3" r="7.10" fill="#000"/>
<circle cx="1252.2" cy="1530.4" r="7.10" fill="#000"/>
<circle cx="1260.0" cy="1515.0" r="7.10" fill="#000"/>
<circle cx="1270.0" cy="1510.0" r="7.10" fill="#000"/>
<circle cx="1300.0" cy="1480.0" r="7.10" fill="#000"/>
<circle cx="1334.4" cy="1445.3" r="7.10" fill="#000"/>
</mask>
<g mask="url(#gapmask6)">
<polyline points="1262.2,1475.3 1275.3,1454.3 1289.3,1430.2 1306.3,1403.2 1306.3,1389.1" fill="none" stroke="#7a4e4e" stroke-width="2.4" stroke-linejoin="round"/>
<polyline points="1287.3,1467.3 1305.0,1430.0 1323.4,1389.1" fill="none" stroke="#7a4e4e" stroke-width="2.4" stroke-linejoin="round"/>
<polyline points="1214.1,1533.4 1218.0,1522.0 1226.0,1510.0 1240.0,1495.0 1273.3,1466.3 1320.0,1400.0 1365.5,1332.4" fill="none" stroke="#525252" stroke-width="2.4" stroke-linejoin="round"/>
<polyline points="1240.0,1510.0 1249.2,1497.4 1300.0,1440.0 1330.0,1400.0 1375.5,1351.1" fill="none" stroke="#ee4242" stroke-width="2.4" stroke-linejoin="round"/>
<polyline points="1235.2,1524.4 1233.0,1514.0 1260.0,1490.0 1290.0,1460.0 1346.4,1393.1" fill="none" stroke="#1d6ae0" stroke-width="2.4" stroke-linejoin="round"/>
<polyline points="1244.2,1512.4 1260.0,1495.0 1290.0,1460.0 1320.0,1435.0 1341.4,1416.2" fill="none" stroke="#38aa6a" stroke-width="2.4" stroke-linejoin="round"/>
<polyline points="1277.3,1520.4 1292.3,1480.3 1300.3,1465.3 1310.3,1448.3 1319.4,1436.2 1324.4,1426.2 1338.4,1405.2" fill="none" stroke="#0fcccc" stroke-width="2.4" stroke-linejoin="round"/>
<polyline points="1267.3,1523.4 1262.2,1496.4 1282.3,1476.3 1300.0,1465.0 1314.3,1458.3" fill="none" stroke="#cb9a05" stroke-width="2.4" stroke-linejoin="round"/>
<polyline points="1252.2,1530.4 1260.0,1515.0 1270.0,1510.0 1300.0,1480.0 1334.4,1445.3" fill="none" stroke="#ae7ade" stroke-width="2.4" stroke-linejoin="round"/>
</g>
<circle cx="1262.2" cy="1475.3" r="5.50" fill="#7a4e4e"/>
<circle cx="1275.3" cy="1454.3" r="5.50" fill="#7a4e4e"/>
<circle cx="1289.3" cy="1430.2" r="5.50" fill="#7a4e4e"/>
<circle cx="1306.3" cy="1403.2" r="5.50" fill="#7a4e4e"/>
<circle cx="1306.3" cy="1389.1" r="5.50" fill="#7a4e4e"/>
<circle cx="1287.3" cy="1467.3" r="5.50" fill="#7a4e4e"/>
<circle cx="1305.0" cy="1430.0" r="5.50" fill="#7a4e4e"/>
<circle cx="1323.4" cy="1389.1" r="5.50" fill="#7a4e4e"/>
<circle cx="1214.1" cy="1533.4" r="5.50" fill="#525252"/>
<circle cx="1218.0" cy="1522.0" r="5.50" fill="#525252"/>
<circle cx="1226.0" cy="1510.0" r="5.50" fill="#525252"/>
<circle cx="1240.0" cy="1495.0" r="5.50" fill="#525252"/>
<circle cx="1273.3" cy="1466.3" r="5.50" fill="#525252"/>
<circle cx="1320.0" cy="1400.0" r="5.50" fill="#525252"/>
<circle cx="1365.5" cy="1332.4" r="5.50" fill="#525252"/>
<circle cx="1240.0" cy="1510.0" r="5.50" fill="#ee4242"/>
<circle cx="1249.2" cy="1497.4" r="5.50" fill="#ee4242"/>
<circle cx="1300.0" cy="1440.0" r="5.50" fill="#ee4242"/>
<circle cx="1330.0" cy="1400.0" r="5.50" fill="#ee4242"/>
<circle cx="1375.5" cy="1351.1" r="5.50" fill="#ee4242"/>
<circle cx="1235.2" cy="1524.4" r="5.50" fill="#1d6ae0"/>
<circle cx="1233.0" cy="1514.0" r="5.50" fill="#1d6ae0"/>
<circle cx="1260.0" cy="1490.0" r="5.50" fill="#1d6ae0"/>
<circle cx="1290.0" cy="1460.0" r="5.50" fill="#1d6ae0"/>
<circle cx="1346.4" cy="1393.1" r="5.50" fill="#1d6ae0"/>
<circle cx="1244.2" cy="1512.4" r="5.50" fill="#38aa6a"/>
<circle cx="1260.0" cy="1495.0" r="5.50" fill="#38aa6a"/>
<circle cx="1290.0" cy="1460.0" r="5.50" fill="#38aa6a"/>
<circle cx="1320.0" cy="1435.0" r="5.50" fill="#38aa6a"/>
<circle cx="1341.4" cy="1416.2" r="5.50" fill="#38aa6a"/>
<circle cx="1277.3" cy="1520.4" r="5.50" fill="#0fcccc"/>
<circle cx="1292.3" cy="1480.3" r="5.50" fill="#0fcccc"/>
<circle cx="1300.3" cy="1465.3" r="5.50" fill="#0fcccc"/>
<circle cx="1310.3" cy="1448.3" r="5.50" fill="#0fcccc"/>
<circle cx="1319.4" cy="1436.2" r="5.50" fill="#0fcccc"/>
<circle cx="1324.4" cy="1426.2" r="5.50" fill="#0fcccc"/>
<circle cx="1338.4" cy="1405.2" r="5.50" fill="#0fcccc"/>
<circle cx="1267.3" cy="1523.4" r="5.50" fill="#cb9a05"/>
<circle cx="1262.2" cy="1496.4" r="5.50" fill="#cb9a05"/>
<circle cx="1282.3" cy="1476.3" r="5.50" fill="#cb9a05"/>
<circle cx="1300.0" cy="1465.0" r="5.50" fill="#cb9a05"/>
<circle cx="1314.3" cy="1458.3" r="5.50" fill="#cb9a05"/>
<circle cx="1252.2" cy="1530.4" r="5.50" fill="#ae7ade"/>
<circle cx="1260.0" cy="1515.0" r="5.50" fill="#ae7ade"/>
<circle cx="1270.0" cy="1510.0" r="5.50" fill="#ae7ade"/>
<circle cx="1300.0" cy="1480.0" r="5.50" fill="#ae7ade"/>
<circle cx="1334.4" cy="1445.3" r="5.50" fill="#ae7ade"/>
<text x="1272.3" y="1435.7" font-size="18" text-anchor="middle" font-weight="bold" font-style="italic" fill="#7a4e4e" >30</text>
<text x="1235.2" y="1498.8" font-size="18" text-anchor="middle" font-weight="bold" font-style="italic" fill="#ee4242" >30</text>
<text x="1213.1" y="1509.9" font-size="18" text-anchor="middle" font-weight="bold" font-style="italic" fill="#525252" >30</text>
<text x="1268.3" y="1513.9" font-size="18" text-anchor="middle" font-weight="bold" font-style="italic" fill="#cb9a05" >30</text>
<text x="1339.4" y="1437.7" font-size="18" text-anchor="middle" font-weight="bold" font-style="italic" fill="#0fcccc" >30</text>
<text x="1248.2" y="1529.9" font-size="18" text-anchor="middle" font-weight="bold" font-style="italic" fill="#38aa6a" >30</text>
<text x="1234.2" y="1540.9" font-size="18" text-anchor="middle" font-weight="bold" font-style="italic" fill="#1d6ae0" >30</text>
<text x="1256.2" y="1536.9" font-size="18" text-anchor="middle" font-weight="bold" font-style="italic" fill="#ae7ade" >30</text>
</g>
<text x="634.5" y="1349.5" font-size="24" text-anchor="start" font-weight="bold" font-style="italic" fill="#f08a10" textLength="106" lengthAdjust="spacingAndGlyphs" >“LP”-TTG</text>
<text x="571.3" y="1478" font-size="24" text-anchor="start" font-weight="bold" font-style="italic" fill="#0e9a4e" textLength="116" lengthAdjust="spacingAndGlyphs" >“MP”-TTG</text>
<text x="525.3" y="1603.5" font-size="24" text-anchor="start" font-weight="bold" font-style="italic" fill="#1e2587" textLength="111" lengthAdjust="spacingAndGlyphs" >“HP”-TTG</text>
<text x="1501.9" y="1359.5" font-size="24" text-anchor="start" font-weight="bold" font-style="italic" fill="#f08a10" textLength="106" lengthAdjust="spacingAndGlyphs" >“LP”-TTG</text>
<text x="1424.4" y="1490" font-size="24" text-anchor="start" font-weight="bold" font-style="italic" fill="#0e9a4e" textLength="116" lengthAdjust="spacingAndGlyphs" >“MP”-TTG</text>
<text x="1390.5" y="1618.5" font-size="24" text-anchor="start" font-weight="bold" font-style="italic" fill="#1e2587" textLength="114" lengthAdjust="spacingAndGlyphs" >“HP”-TTG</text>
<polyline points="136.7,1908.8 234.8,1919.5 332.9,1934.6 431.0,1951.6 529.1,1996.2 627.2,2000.2 725.3,2000.2 823.4,2000.2" fill="none" stroke="#5e3a6e" stroke-width="2.2"/>
<rect x="130.7" y="1902.8" width="12.0" height="12.0" fill="#5e3a6e"/>
<rect x="228.8" y="1913.5" width="12.0" height="12.0" fill="#5e3a6e"/>
<rect x="326.9" y="1928.6" width="12.0" height="12.0" fill="#5e3a6e"/>
<rect x="425.0" y="1945.6" width="12.0" height="12.0" fill="#5e3a6e"/>
<rect x="523.1" y="1990.2" width="12.0" height="12.0" fill="#5e3a6e"/>
<rect x="621.2" y="1994.2" width="12.0" height="12.0" fill="#5e3a6e"/>
<rect x="719.3" y="1994.2" width="12.0" height="12.0" fill="#5e3a6e"/>
<rect x="817.4" y="1994.2" width="12.0" height="12.0" fill="#5e3a6e"/>
<polyline points="136.7,2161.5 234.8,2141.9 332.9,2119.3 431.0,2098.7 529.1,2101.1 627.2,2090.1 725.3,2117.0 823.4,2142.8" fill="none" stroke="#c9471f" stroke-width="2.2"/>
<rect x="130.7" y="2155.5" width="12.0" height="12.0" fill="#c9471f"/>
<rect x="228.8" y="2135.9" width="12.0" height="12.0" fill="#c9471f"/>
<rect x="326.9" y="2113.3" width="12.0" height="12.0" fill="#c9471f"/>
<rect x="425.0" y="2092.7" width="12.0" height="12.0" fill="#c9471f"/>
<rect x="523.1" y="2095.1" width="12.0" height="12.0" fill="#c9471f"/>
<rect x="621.2" y="2084.1" width="12.0" height="12.0" fill="#c9471f"/>
<rect x="719.3" y="2111.0" width="12.0" height="12.0" fill="#c9471f"/>
<rect x="817.4" y="2136.8" width="12.0" height="12.0" fill="#c9471f"/>
<polyline points="136.7,2352.9 234.8,2357.5 332.9,2356.4 431.0,2352.9 529.1,2351.8 627.2,2349.1 725.3,2343.8 823.4,2340.0" fill="none" stroke="#e8900a" stroke-width="2.2"/>
<rect x="130.7" y="2346.9" width="12.0" height="12.0" fill="#e8900a"/>
<rect x="228.8" y="2351.5" width="12.0" height="12.0" fill="#e8900a"/>
<rect x="326.9" y="2350.4" width="12.0" height="12.0" fill="#e8900a"/>
<rect x="425.0" y="2346.9" width="12.0" height="12.0" fill="#e8900a"/>
<rect x="523.1" y="2345.8" width="12.0" height="12.0" fill="#e8900a"/>
<rect x="621.2" y="2343.1" width="12.0" height="12.0" fill="#e8900a"/>
<rect x="719.3" y="2337.8" width="12.0" height="12.0" fill="#e8900a"/>
<rect x="817.4" y="2334.0" width="12.0" height="12.0" fill="#e8900a"/>
<polyline points="1002.2,1847.3 1100.8,1842.1 1199.4,1840.7 1298.0,1850.2 1396.6,1867.4 1495.2,1890.8 1593.8,1951.9 1692.4,1969.1" fill="none" stroke="#5e3a6e" stroke-width="2.2"/>
<rect x="994.2" y="1839.3" width="16.0" height="16.0" fill="#5e3a6e"/>
<rect x="1092.8" y="1834.1" width="16.0" height="16.0" fill="#5e3a6e"/>
<rect x="1191.4" y="1832.7" width="16.0" height="16.0" fill="#5e3a6e"/>
<rect x="1290.0" y="1842.2" width="16.0" height="16.0" fill="#5e3a6e"/>
<rect x="1388.6" y="1859.4" width="16.0" height="16.0" fill="#5e3a6e"/>
<rect x="1487.2" y="1882.8" width="16.0" height="16.0" fill="#5e3a6e"/>
<rect x="1585.8" y="1943.9" width="16.0" height="16.0" fill="#5e3a6e"/>
<rect x="1684.4" y="1961.1" width="16.0" height="16.0" fill="#5e3a6e"/>
<polyline points="1002.2,2227.1 1100.8,2227.1 1199.4,2227.1 1298.0,2222.3 1396.6,2224.2 1495.2,2209.4 1593.8,2187.8 1692.4,2189.3" fill="none" stroke="#c9471f" stroke-width="2.2"/>
<rect x="994.2" y="2219.1" width="16.0" height="16.0" fill="#c9471f"/>
<rect x="1092.8" y="2219.1" width="16.0" height="16.0" fill="#c9471f"/>
<rect x="1191.4" y="2219.1" width="16.0" height="16.0" fill="#c9471f"/>
<rect x="1290.0" y="2214.3" width="16.0" height="16.0" fill="#c9471f"/>
<rect x="1388.6" y="2216.2" width="16.0" height="16.0" fill="#c9471f"/>
<rect x="1487.2" y="2201.4" width="16.0" height="16.0" fill="#c9471f"/>
<rect x="1585.8" y="2179.8" width="16.0" height="16.0" fill="#c9471f"/>
<rect x="1684.4" y="2181.3" width="16.0" height="16.0" fill="#c9471f"/>
<polyline points="1002.2,2348.0 1100.8,2351.4 1199.4,2349.9 1298.0,2345.7 1396.6,2325.5 1495.2,2316.3 1593.8,2328.1 1692.4,2330.8" fill="none" stroke="#e8900a" stroke-width="2.2"/>
<rect x="994.2" y="2340.0" width="16.0" height="16.0" fill="#e8900a"/>
<rect x="1092.8" y="2343.4" width="16.0" height="16.0" fill="#e8900a"/>
<rect x="1191.4" y="2341.9" width="16.0" height="16.0" fill="#e8900a"/>
<rect x="1290.0" y="2337.7" width="16.0" height="16.0" fill="#e8900a"/>
<rect x="1388.6" y="2317.5" width="16.0" height="16.0" fill="#e8900a"/>
<rect x="1487.2" y="2308.3" width="16.0" height="16.0" fill="#e8900a"/>
<rect x="1585.8" y="2320.1" width="16.0" height="16.0" fill="#e8900a"/>
<rect x="1684.4" y="2322.8" width="16.0" height="16.0" fill="#e8900a"/>
<line x1="125.0" y1="1840.5" x2="161.0" y2="1840.5" stroke="#5e3a6e" stroke-width="2"/>
<rect x="138.2" y="1835.8" width="9.5" height="9.5" fill="#5e3a6e"/>
<text x="165.5" y="1848.6" font-size="21" text-anchor="start" font-weight="bold" font-style="italic" fill="#5e3a6e" textLength="35.5" lengthAdjust="spacingAndGlyphs" >Grt</text>
<line x1="125.0" y1="2056.7" x2="161.0" y2="2056.7" stroke="#c9471f" stroke-width="2"/>
<rect x="138.2" y="2051.9" width="9.5" height="9.5" fill="#c9471f"/>
<text x="166.2" y="2064.4" font-size="21" text-anchor="start" font-weight="bold" font-style="italic" fill="#c9471f" textLength="67" lengthAdjust="spacingAndGlyphs" >Amph</text>
<line x1="125.0" y1="2274.7" x2="161.0" y2="2274.7" stroke="#e8900a" stroke-width="2"/>
<rect x="138.2" y="2269.9" width="9.5" height="9.5" fill="#e8900a"/>
<text x="166.2" y="2282.3" font-size="21" text-anchor="start" font-weight="bold" font-style="italic" fill="#e8900a" textLength="43.5" lengthAdjust="spacingAndGlyphs" >Cpx</text>
<text x="626.5" y="1843.5" font-size="22.5" text-anchor="start" font-weight="bold" font-style="italic" fill="#5e3a6e" textLength="218" lengthAdjust="spacingAndGlyphs" >30% Partial melting</text>
<text x="626.5" y="2059" font-size="22.5" text-anchor="start" font-weight="bold" font-style="italic" fill="#c9471f" textLength="218" lengthAdjust="spacingAndGlyphs" >30% Partial melting</text>
<text x="626.5" y="2276" font-size="22.5" text-anchor="start" font-weight="bold" font-style="italic" fill="#e8900a" textLength="218" lengthAdjust="spacingAndGlyphs" >30% Partial melting</text>
<line x1="1632.0" y1="1836.7" x2="1668.0" y2="1836.7" stroke="#5e3a6e" stroke-width="2"/>
<rect x="1645.2" y="1832.0" width="9.5" height="9.5" fill="#5e3a6e"/>
<text x="1674.5" y="1844.5" font-size="21" text-anchor="start" font-weight="bold" font-style="italic" fill="#5e3a6e" textLength="35.5" lengthAdjust="spacingAndGlyphs" >Grt</text>
<text x="1495.8" y="1866.5" font-size="22.5" text-anchor="start" font-weight="bold" font-style="italic" fill="#5e3a6e" textLength="218" lengthAdjust="spacingAndGlyphs" >30% Partial melting</text>
<line x1="995.0" y1="2057.2" x2="1031.0" y2="2057.2" stroke="#c9471f" stroke-width="2"/>
<rect x="1008.2" y="2052.4" width="9.5" height="9.5" fill="#c9471f"/>
<text x="1034.8" y="2065" font-size="21" text-anchor="start" font-weight="bold" font-style="italic" fill="#c9471f" textLength="67" lengthAdjust="spacingAndGlyphs" >Amph</text>
<line x1="995.0" y1="2274.5" x2="1031.0" y2="2274.5" stroke="#e8900a" stroke-width="2"/>
<rect x="1008.2" y="2269.8" width="9.5" height="9.5" fill="#e8900a"/>
<text x="1034.8" y="2282.1" font-size="21" text-anchor="start" font-weight="bold" font-style="italic" fill="#e8900a" textLength="43.5" lengthAdjust="spacingAndGlyphs" >Cpx</text>
<text x="1495.8" y="2058.3" font-size="22.5" text-anchor="start" font-weight="bold" font-style="italic" fill="#c9471f" textLength="218" lengthAdjust="spacingAndGlyphs" >30% Partial melting</text>
<text x="1495.8" y="2277" font-size="22.5" text-anchor="start" font-weight="bold" font-style="italic" fill="#e8900a" textLength="218" lengthAdjust="spacingAndGlyphs" >30% Partial melting</text>
<rect x="80" y="36" width="773.4" height="519.2" fill="none" stroke="#000" stroke-width="2.2"/>
<line x1="69" y1="503.2" x2="80" y2="503.2" stroke="#000" stroke-width="2.2" />
<line x1="69" y1="399.3" x2="80" y2="399.3" stroke="#000" stroke-width="2.2" />
<line x1="69" y1="295.4" x2="80" y2="295.4" stroke="#000" stroke-width="2.2" />
<line x1="69" y1="191.6" x2="80" y2="191.6" stroke="#000" stroke-width="2.2" />
<line x1="69" y1="87.7" x2="80" y2="87.7" stroke="#000" stroke-width="2.2" />
<line x1="74" y1="555.1" x2="80" y2="555.1" stroke="#000" stroke-width="2.2" />
<line x1="74" y1="451.3" x2="80" y2="451.3" stroke="#000" stroke-width="2.2" />
<line x1="74" y1="347.4" x2="80" y2="347.4" stroke="#000" stroke-width="2.2" />
<line x1="74" y1="243.5" x2="80" y2="243.5" stroke="#000" stroke-width="2.2" />
<line x1="74" y1="139.6" x2="80" y2="139.6" stroke="#000" stroke-width="2.2" />
<line x1="74" y1="35.8" x2="80" y2="35.8" stroke="#000" stroke-width="2.2" />
<text x="65.5" y="511" font-size="21.7" text-anchor="end" font-weight="normal" font-style="normal" fill="#000" >-50</text>
<text x="65.5" y="407.1" font-size="21.7" text-anchor="end" font-weight="normal" font-style="normal" fill="#000" >0</text>
<text x="65.5" y="303.2" font-size="21.7" text-anchor="end" font-weight="normal" font-style="normal" fill="#000" >50</text>
<text x="65.5" y="199.4" font-size="21.7" text-anchor="end" font-weight="normal" font-style="normal" fill="#000" >100</text>
<text x="65.5" y="95.5" font-size="21.7" text-anchor="end" font-weight="normal" font-style="normal" fill="#000" >150</text>
<line x1="80" y1="555.2" x2="80" y2="566.2" stroke="#000" stroke-width="2.2" />
<line x1="190.5" y1="555.2" x2="190.5" y2="566.2" stroke="#000" stroke-width="2.2" />
<line x1="301" y1="555.2" x2="301" y2="566.2" stroke="#000" stroke-width="2.2" />
<line x1="411.5" y1="555.2" x2="411.5" y2="566.2" stroke="#000" stroke-width="2.2" />
<line x1="521.9" y1="555.2" x2="521.9" y2="566.2" stroke="#000" stroke-width="2.2" />
<line x1="632.4" y1="555.2" x2="632.4" y2="566.2" stroke="#000" stroke-width="2.2" />
<line x1="742.9" y1="555.2" x2="742.9" y2="566.2" stroke="#000" stroke-width="2.2" />
<line x1="853.4" y1="555.2" x2="853.4" y2="566.2" stroke="#000" stroke-width="2.2" />
<line x1="135.2" y1="555.2" x2="135.2" y2="561.2" stroke="#000" stroke-width="2.2" />
<line x1="245.7" y1="555.2" x2="245.7" y2="561.2" stroke="#000" stroke-width="2.2" />
<line x1="356.2" y1="555.2" x2="356.2" y2="561.2" stroke="#000" stroke-width="2.2" />
<line x1="466.7" y1="555.2" x2="466.7" y2="561.2" stroke="#000" stroke-width="2.2" />
<line x1="577.2" y1="555.2" x2="577.2" y2="561.2" stroke="#000" stroke-width="2.2" />
<line x1="687.7" y1="555.2" x2="687.7" y2="561.2" stroke="#000" stroke-width="2.2" />
<line x1="798.2" y1="555.2" x2="798.2" y2="561.2" stroke="#000" stroke-width="2.2" />
<text x="80" y="582.8" font-size="21.7" text-anchor="middle" font-weight="normal" font-style="normal" fill="#000" >-5</text>
<text x="190.5" y="582.8" font-size="21.7" text-anchor="middle" font-weight="normal" font-style="normal" fill="#000" >0</text>
<text x="301" y="582.8" font-size="21.7" text-anchor="middle" font-weight="normal" font-style="normal" fill="#000" >5</text>
<text x="411.5" y="582.8" font-size="21.7" text-anchor="middle" font-weight="normal" font-style="normal" fill="#000" >10</text>
<text x="521.9" y="582.8" font-size="21.7" text-anchor="middle" font-weight="normal" font-style="normal" fill="#000" >15</text>
<text x="632.4" y="582.8" font-size="21.7" text-anchor="middle" font-weight="normal" font-style="normal" fill="#000" >20</text>
<text x="742.9" y="582.8" font-size="21.7" text-anchor="middle" font-weight="normal" font-style="normal" fill="#000" >25</text>
<text x="853.4" y="582.8" font-size="21.7" text-anchor="middle" font-weight="normal" font-style="normal" fill="#000" >30</text>
<rect x="947" y="36" width="774" height="519.2" fill="none" stroke="#000" stroke-width="2.2"/>
<line x1="936" y1="503.2" x2="947" y2="503.2" stroke="#000" stroke-width="2.2" />
<line x1="936" y1="399.3" x2="947" y2="399.3" stroke="#000" stroke-width="2.2" />
<line x1="936" y1="295.4" x2="947" y2="295.4" stroke="#000" stroke-width="2.2" />
<line x1="936" y1="191.6" x2="947" y2="191.6" stroke="#000" stroke-width="2.2" />
<line x1="936" y1="87.7" x2="947" y2="87.7" stroke="#000" stroke-width="2.2" />
<line x1="941" y1="555.1" x2="947" y2="555.1" stroke="#000" stroke-width="2.2" />
<line x1="941" y1="451.3" x2="947" y2="451.3" stroke="#000" stroke-width="2.2" />
<line x1="941" y1="347.4" x2="947" y2="347.4" stroke="#000" stroke-width="2.2" />
<line x1="941" y1="243.5" x2="947" y2="243.5" stroke="#000" stroke-width="2.2" />
<line x1="941" y1="139.6" x2="947" y2="139.6" stroke="#000" stroke-width="2.2" />
<line x1="941" y1="35.8" x2="947" y2="35.8" stroke="#000" stroke-width="2.2" />
<text x="932.5" y="511" font-size="21.7" text-anchor="end" font-weight="normal" font-style="normal" fill="#000" >-50</text>
<text x="932.5" y="407.1" font-size="21.7" text-anchor="end" font-weight="normal" font-style="normal" fill="#000" >0</text>
<text x="932.5" y="303.2" font-size="21.7" text-anchor="end" font-weight="normal" font-style="normal" fill="#000" >50</text>
<text x="932.5" y="199.4" font-size="21.7" text-anchor="end" font-weight="normal" font-style="normal" fill="#000" >100</text>
<text x="932.5" y="95.5" font-size="21.7" text-anchor="end" font-weight="normal" font-style="normal" fill="#000" >150</text>
<line x1="947" y1="555.2" x2="947" y2="566.2" stroke="#000" stroke-width="2.2" />
<line x1="1057.6" y1="555.2" x2="1057.6" y2="566.2" stroke="#000" stroke-width="2.2" />
<line x1="1168.1" y1="555.2" x2="1168.1" y2="566.2" stroke="#000" stroke-width="2.2" />
<line x1="1278.7" y1="555.2" x2="1278.7" y2="566.2" stroke="#000" stroke-width="2.2" />
<line x1="1389.3" y1="555.2" x2="1389.3" y2="566.2" stroke="#000" stroke-width="2.2" />
<line x1="1499.9" y1="555.2" x2="1499.9" y2="566.2" stroke="#000" stroke-width="2.2" />
<line x1="1610.4" y1="555.2" x2="1610.4" y2="566.2" stroke="#000" stroke-width="2.2" />
<line x1="1721" y1="555.2" x2="1721" y2="566.2" stroke="#000" stroke-width="2.2" />
<line x1="1002.3" y1="555.2" x2="1002.3" y2="561.2" stroke="#000" stroke-width="2.2" />
<line x1="1112.9" y1="555.2" x2="1112.9" y2="561.2" stroke="#000" stroke-width="2.2" />
<line x1="1223.4" y1="555.2" x2="1223.4" y2="561.2" stroke="#000" stroke-width="2.2" />
<line x1="1334" y1="555.2" x2="1334" y2="561.2" stroke="#000" stroke-width="2.2" />
<line x1="1444.6" y1="555.2" x2="1444.6" y2="561.2" stroke="#000" stroke-width="2.2" />
<line x1="1555.1" y1="555.2" x2="1555.1" y2="561.2" stroke="#000" stroke-width="2.2" />
<line x1="1665.7" y1="555.2" x2="1665.7" y2="561.2" stroke="#000" stroke-width="2.2" />
<text x="947" y="582.8" font-size="21.7" text-anchor="middle" font-weight="normal" font-style="normal" fill="#000" >-5</text>
<text x="1057.6" y="582.8" font-size="21.7" text-anchor="middle" font-weight="normal" font-style="normal" fill="#000" >0</text>
<text x="1168.1" y="582.8" font-size="21.7" text-anchor="middle" font-weight="normal" font-style="normal" fill="#000" >5</text>
<text x="1278.7" y="582.8" font-size="21.7" text-anchor="middle" font-weight="normal" font-style="normal" fill="#000" >10</text>
<text x="1389.3" y="582.8" font-size="21.7" text-anchor="middle" font-weight="normal" font-style="normal" fill="#000" >15</text>
<text x="1499.9" y="582.8" font-size="21.7" text-anchor="middle" font-weight="normal" font-style="normal" fill="#000" >20</text>
<text x="1610.4" y="582.8" font-size="21.7" text-anchor="middle" font-weight="normal" font-style="normal" fill="#000" >25</text>
<text x="1721" y="582.8" font-size="21.7" text-anchor="middle" font-weight="normal" font-style="normal" fill="#000" >30</text>
<rect x="80" y="608.3" width="773.4" height="534.3" fill="none" stroke="#000" stroke-width="2.2"/>
<line x1="69" y1="1142.6" x2="80" y2="1142.6" stroke="#000" stroke-width="2.2" />
<line x1="69" y1="1025.5" x2="80" y2="1025.5" stroke="#000" stroke-width="2.2" />
<line x1="69" y1="753.6" x2="80" y2="753.6" stroke="#000" stroke-width="2.2" />
<line x1="69" y1="636.5" x2="80" y2="636.5" stroke="#000" stroke-width="2.2" />
<line x1="74" y1="1111.8" x2="80" y2="1111.8" stroke="#000" stroke-width="2.2" />
<line x1="74" y1="1085.8" x2="80" y2="1085.8" stroke="#000" stroke-width="2.2" />
<line x1="74" y1="1063.2" x2="80" y2="1063.2" stroke="#000" stroke-width="2.2" />
<line x1="74" y1="1043.3" x2="80" y2="1043.3" stroke="#000" stroke-width="2.2" />
<line x1="74" y1="908.4" x2="80" y2="908.4" stroke="#000" stroke-width="2.2" />
<line x1="74" y1="839.9" x2="80" y2="839.9" stroke="#000" stroke-width="2.2" />
<line x1="74" y1="791.3" x2="80" y2="791.3" stroke="#000" stroke-width="2.2" />
<line x1="74" y1="722.8" x2="80" y2="722.8" stroke="#000" stroke-width="2.2" />
<line x1="74" y1="696.8" x2="80" y2="696.8" stroke="#000" stroke-width="2.2" />
<line x1="74" y1="674.2" x2="80" y2="674.2" stroke="#000" stroke-width="2.2" />
<line x1="74" y1="654.3" x2="80" y2="654.3" stroke="#000" stroke-width="2.2" />
<text x="65.5" y="1150.4" font-size="21.7" text-anchor="end" font-weight="normal" font-style="normal" fill="#000" >50</text>
<text x="65.5" y="1033.3" font-size="21.7" text-anchor="end" font-weight="normal" font-style="normal" fill="#000" >100</text>
<text x="65.5" y="761.4" font-size="21.7" text-anchor="end" font-weight="normal" font-style="normal" fill="#000" >500</text>
<text x="65.5" y="644.3" font-size="21.7" text-anchor="end" font-weight="normal" font-style="normal" fill="#000" >1000</text>
<line x1="80" y1="1142.6" x2="80" y2="1153.6" stroke="#000" stroke-width="2.2" />
<line x1="196.4" y1="1142.6" x2="196.4" y2="1153.6" stroke="#000" stroke-width="2.2" />
<line x1="583.1" y1="1142.6" x2="583.1" y2="1153.6" stroke="#000" stroke-width="2.2" />
<line x1="853.4" y1="1142.6" x2="853.4" y2="1153.6" stroke="#000" stroke-width="2.2" />
<line x1="110.6" y1="1142.6" x2="110.6" y2="1148.6" stroke="#000" stroke-width="2.2" />
<line x1="136.5" y1="1142.6" x2="136.5" y2="1148.6" stroke="#000" stroke-width="2.2" />
<line x1="158.9" y1="1142.6" x2="158.9" y2="1148.6" stroke="#000" stroke-width="2.2" />
<line x1="178.7" y1="1142.6" x2="178.7" y2="1148.6" stroke="#000" stroke-width="2.2" />
<line x1="312.8" y1="1142.6" x2="312.8" y2="1148.6" stroke="#000" stroke-width="2.2" />
<line x1="380.9" y1="1142.6" x2="380.9" y2="1148.6" stroke="#000" stroke-width="2.2" />
<line x1="429.2" y1="1142.6" x2="429.2" y2="1148.6" stroke="#000" stroke-width="2.2" />
<line x1="466.7" y1="1142.6" x2="466.7" y2="1148.6" stroke="#000" stroke-width="2.2" />
<line x1="497.3" y1="1142.6" x2="497.3" y2="1148.6" stroke="#000" stroke-width="2.2" />
<line x1="523.2" y1="1142.6" x2="523.2" y2="1148.6" stroke="#000" stroke-width="2.2" />
<line x1="545.6" y1="1142.6" x2="545.6" y2="1148.6" stroke="#000" stroke-width="2.2" />
<line x1="565.4" y1="1142.6" x2="565.4" y2="1148.6" stroke="#000" stroke-width="2.2" />
<line x1="699.5" y1="1142.6" x2="699.5" y2="1148.6" stroke="#000" stroke-width="2.2" />
<line x1="767.6" y1="1142.6" x2="767.6" y2="1148.6" stroke="#000" stroke-width="2.2" />
<line x1="815.9" y1="1142.6" x2="815.9" y2="1148.6" stroke="#000" stroke-width="2.2" />
<text x="80" y="1170.2" font-size="21.7" text-anchor="middle" font-weight="normal" font-style="normal" fill="#000" >0.5</text>
<text x="196.4" y="1170.2" font-size="21.7" text-anchor="middle" font-weight="normal" font-style="normal" fill="#000" >1</text>
<text x="583.1" y="1170.2" font-size="21.7" text-anchor="middle" font-weight="normal" font-style="normal" fill="#000" >10</text>
<text x="853.4" y="1170.2" font-size="21.7" text-anchor="middle" font-weight="normal" font-style="normal" fill="#000" >50</text>
<rect x="947" y="608.3" width="774" height="534.3" fill="none" stroke="#000" stroke-width="2.2"/>
<line x1="936" y1="1142.6" x2="947" y2="1142.6" stroke="#000" stroke-width="2.2" />
<line x1="936" y1="1025.5" x2="947" y2="1025.5" stroke="#000" stroke-width="2.2" />
<line x1="936" y1="753.6" x2="947" y2="753.6" stroke="#000" stroke-width="2.2" />
<line x1="936" y1="636.5" x2="947" y2="636.5" stroke="#000" stroke-width="2.2" />
<line x1="941" y1="1111.8" x2="947" y2="1111.8" stroke="#000" stroke-width="2.2" />
<line x1="941" y1="1085.8" x2="947" y2="1085.8" stroke="#000" stroke-width="2.2" />
<line x1="941" y1="1063.2" x2="947" y2="1063.2" stroke="#000" stroke-width="2.2" />
<line x1="941" y1="1043.3" x2="947" y2="1043.3" stroke="#000" stroke-width="2.2" />
<line x1="941" y1="908.4" x2="947" y2="908.4" stroke="#000" stroke-width="2.2" />
<line x1="941" y1="839.9" x2="947" y2="839.9" stroke="#000" stroke-width="2.2" />
<line x1="941" y1="791.3" x2="947" y2="791.3" stroke="#000" stroke-width="2.2" />
<line x1="941" y1="722.8" x2="947" y2="722.8" stroke="#000" stroke-width="2.2" />
<line x1="941" y1="696.8" x2="947" y2="696.8" stroke="#000" stroke-width="2.2" />
<line x1="941" y1="674.2" x2="947" y2="674.2" stroke="#000" stroke-width="2.2" />
<line x1="941" y1="654.3" x2="947" y2="654.3" stroke="#000" stroke-width="2.2" />
<text x="932.5" y="1150.4" font-size="21.7" text-anchor="end" font-weight="normal" font-style="normal" fill="#000" >50</text>
<text x="932.5" y="1033.3" font-size="21.7" text-anchor="end" font-weight="normal" font-style="normal" fill="#000" >100</text>
<text x="932.5" y="761.4" font-size="21.7" text-anchor="end" font-weight="normal" font-style="normal" fill="#000" >500</text>
<text x="932.5" y="644.3" font-size="21.7" text-anchor="end" font-weight="normal" font-style="normal" fill="#000" >1000</text>
<line x1="947" y1="1142.6" x2="947" y2="1153.6" stroke="#000" stroke-width="2.2" />
<line x1="1063.5" y1="1142.6" x2="1063.5" y2="1153.6" stroke="#000" stroke-width="2.2" />
<line x1="1450.5" y1="1142.6" x2="1450.5" y2="1153.6" stroke="#000" stroke-width="2.2" />
<line x1="1721" y1="1142.6" x2="1721" y2="1153.6" stroke="#000" stroke-width="2.2" />
<line x1="977.6" y1="1142.6" x2="977.6" y2="1148.6" stroke="#000" stroke-width="2.2" />
<line x1="1003.6" y1="1142.6" x2="1003.6" y2="1148.6" stroke="#000" stroke-width="2.2" />
<line x1="1026" y1="1142.6" x2="1026" y2="1148.6" stroke="#000" stroke-width="2.2" />
<line x1="1045.8" y1="1142.6" x2="1045.8" y2="1148.6" stroke="#000" stroke-width="2.2" />
<line x1="1180" y1="1142.6" x2="1180" y2="1148.6" stroke="#000" stroke-width="2.2" />
<line x1="1248.1" y1="1142.6" x2="1248.1" y2="1148.6" stroke="#000" stroke-width="2.2" />
<line x1="1296.5" y1="1142.6" x2="1296.5" y2="1148.6" stroke="#000" stroke-width="2.2" />
<line x1="1334" y1="1142.6" x2="1334" y2="1148.6" stroke="#000" stroke-width="2.2" />
<line x1="1364.6" y1="1142.6" x2="1364.6" y2="1148.6" stroke="#000" stroke-width="2.2" />
<line x1="1390.6" y1="1142.6" x2="1390.6" y2="1148.6" stroke="#000" stroke-width="2.2" />
<line x1="1413" y1="1142.6" x2="1413" y2="1148.6" stroke="#000" stroke-width="2.2" />
<line x1="1432.8" y1="1142.6" x2="1432.8" y2="1148.6" stroke="#000" stroke-width="2.2" />
<line x1="1567" y1="1142.6" x2="1567" y2="1148.6" stroke="#000" stroke-width="2.2" />
<line x1="1635.1" y1="1142.6" x2="1635.1" y2="1148.6" stroke="#000" stroke-width="2.2" />
<line x1="1683.5" y1="1142.6" x2="1683.5" y2="1148.6" stroke="#000" stroke-width="2.2" />
<text x="947" y="1170.2" font-size="21.7" text-anchor="middle" font-weight="normal" font-style="normal" fill="#000" >0.5</text>
<text x="1063.5" y="1170.2" font-size="21.7" text-anchor="middle" font-weight="normal" font-style="normal" fill="#000" >1</text>
<text x="1450.5" y="1170.2" font-size="21.7" text-anchor="middle" font-weight="normal" font-style="normal" fill="#000" >10</text>
<text x="1721" y="1170.2" font-size="21.7" text-anchor="middle" font-weight="normal" font-style="normal" fill="#000" >50</text>
<rect x="80" y="1196.2" width="773.4" height="571.6" fill="none" stroke="#000" stroke-width="2.2"/>
<line x1="69" y1="1767.8" x2="80" y2="1767.8" stroke="#000" stroke-width="2.2" />
<line x1="69" y1="1650.7" x2="80" y2="1650.7" stroke="#000" stroke-width="2.2" />
<line x1="69" y1="1533.6" x2="80" y2="1533.6" stroke="#000" stroke-width="2.2" />
<line x1="69" y1="1378.7" x2="80" y2="1378.7" stroke="#000" stroke-width="2.2" />
<line x1="69" y1="1261.6" x2="80" y2="1261.6" stroke="#000" stroke-width="2.2" />
<line x1="74" y1="1737" x2="80" y2="1737" stroke="#000" stroke-width="2.2" />
<line x1="74" y1="1710.9" x2="80" y2="1710.9" stroke="#000" stroke-width="2.2" />
<line x1="74" y1="1688.4" x2="80" y2="1688.4" stroke="#000" stroke-width="2.2" />
<line x1="74" y1="1668.5" x2="80" y2="1668.5" stroke="#000" stroke-width="2.2" />
<line x1="74" y1="1465" x2="80" y2="1465" stroke="#000" stroke-width="2.2" />
<line x1="74" y1="1416.4" x2="80" y2="1416.4" stroke="#000" stroke-width="2.2" />
<line x1="74" y1="1347.9" x2="80" y2="1347.9" stroke="#000" stroke-width="2.2" />
<line x1="74" y1="1321.9" x2="80" y2="1321.9" stroke="#000" stroke-width="2.2" />
<line x1="74" y1="1299.3" x2="80" y2="1299.3" stroke="#000" stroke-width="2.2" />
<line x1="74" y1="1279.4" x2="80" y2="1279.4" stroke="#000" stroke-width="2.2" />
<text x="65.5" y="1775.6" font-size="21.7" text-anchor="end" font-weight="normal" font-style="normal" fill="#000" >0.5</text>
<text x="65.5" y="1658.5" font-size="21.7" text-anchor="end" font-weight="normal" font-style="normal" fill="#000" >1</text>
<text x="65.5" y="1541.4" font-size="21.7" text-anchor="end" font-weight="normal" font-style="normal" fill="#000" >2</text>
<text x="65.5" y="1386.5" font-size="21.7" text-anchor="end" font-weight="normal" font-style="normal" fill="#000" >5</text>
<text x="65.5" y="1269.4" font-size="21.7" text-anchor="end" font-weight="normal" font-style="normal" fill="#000" >10</text>
<line x1="80" y1="1767.8" x2="80" y2="1778.8" stroke="#000" stroke-width="2.2" />
<line x1="337.8" y1="1767.8" x2="337.8" y2="1778.8" stroke="#000" stroke-width="2.2" />
<line x1="595.6" y1="1767.8" x2="595.6" y2="1778.8" stroke="#000" stroke-width="2.2" />
<line x1="853.4" y1="1767.8" x2="853.4" y2="1778.8" stroke="#000" stroke-width="2.2" />
<line x1="157.6" y1="1767.8" x2="157.6" y2="1773.8" stroke="#000" stroke-width="2.2" />
<line x1="203" y1="1767.8" x2="203" y2="1773.8" stroke="#000" stroke-width="2.2" />
<line x1="235.2" y1="1767.8" x2="235.2" y2="1773.8" stroke="#000" stroke-width="2.2" />
<line x1="260.2" y1="1767.8" x2="260.2" y2="1773.8" stroke="#000" stroke-width="2.2" />
<line x1="280.6" y1="1767.8" x2="280.6" y2="1773.8" stroke="#000" stroke-width="2.2" />
<line x1="297.9" y1="1767.8" x2="297.9" y2="1773.8" stroke="#000" stroke-width="2.2" />
<line x1="312.8" y1="1767.8" x2="312.8" y2="1773.8" stroke="#000" stroke-width="2.2" />
<line x1="326" y1="1767.8" x2="326" y2="1773.8" stroke="#000" stroke-width="2.2" />
<line x1="415.4" y1="1767.8" x2="415.4" y2="1773.8" stroke="#000" stroke-width="2.2" />
<line x1="460.8" y1="1767.8" x2="460.8" y2="1773.8" stroke="#000" stroke-width="2.2" />
<line x1="493" y1="1767.8" x2="493" y2="1773.8" stroke="#000" stroke-width="2.2" />
<line x1="518" y1="1767.8" x2="518" y2="1773.8" stroke="#000" stroke-width="2.2" />
<line x1="538.4" y1="1767.8" x2="538.4" y2="1773.8" stroke="#000" stroke-width="2.2" />
<line x1="555.7" y1="1767.8" x2="555.7" y2="1773.8" stroke="#000" stroke-width="2.2" />
<line x1="570.6" y1="1767.8" x2="570.6" y2="1773.8" stroke="#000" stroke-width="2.2" />
<line x1="583.8" y1="1767.8" x2="583.8" y2="1773.8" stroke="#000" stroke-width="2.2" />
<line x1="673.2" y1="1767.8" x2="673.2" y2="1773.8" stroke="#000" stroke-width="2.2" />
<line x1="718.6" y1="1767.8" x2="718.6" y2="1773.8" stroke="#000" stroke-width="2.2" />
<line x1="750.8" y1="1767.8" x2="750.8" y2="1773.8" stroke="#000" stroke-width="2.2" />
<line x1="775.8" y1="1767.8" x2="775.8" y2="1773.8" stroke="#000" stroke-width="2.2" />
<line x1="796.2" y1="1767.8" x2="796.2" y2="1773.8" stroke="#000" stroke-width="2.2" />
<line x1="813.5" y1="1767.8" x2="813.5" y2="1773.8" stroke="#000" stroke-width="2.2" />
<line x1="828.4" y1="1767.8" x2="828.4" y2="1773.8" stroke="#000" stroke-width="2.2" />
<line x1="841.6" y1="1767.8" x2="841.6" y2="1773.8" stroke="#000" stroke-width="2.2" />
<text x="80" y="1795.4" font-size="21.7" text-anchor="middle" font-weight="normal" font-style="normal" fill="#000" >0.01</text>
<text x="337.8" y="1795.4" font-size="21.7" text-anchor="middle" font-weight="normal" font-style="normal" fill="#000" >0.1</text>
<text x="595.6" y="1795.4" font-size="21.7" text-anchor="middle" font-weight="normal" font-style="normal" fill="#000" >1</text>
<text x="853.4" y="1795.4" font-size="21.7" text-anchor="middle" font-weight="normal" font-style="normal" fill="#000" >10</text>
<rect x="947" y="1196.2" width="774" height="571.6" fill="none" stroke="#000" stroke-width="2.2"/>
<line x1="936" y1="1767.8" x2="947" y2="1767.8" stroke="#000" stroke-width="2.2" />
<line x1="936" y1="1650.7" x2="947" y2="1650.7" stroke="#000" stroke-width="2.2" />
<line x1="936" y1="1533.6" x2="947" y2="1533.6" stroke="#000" stroke-width="2.2" />
<line x1="936" y1="1378.7" x2="947" y2="1378.7" stroke="#000" stroke-width="2.2" />
<line x1="936" y1="1261.6" x2="947" y2="1261.6" stroke="#000" stroke-width="2.2" />
<line x1="941" y1="1737" x2="947" y2="1737" stroke="#000" stroke-width="2.2" />
<line x1="941" y1="1710.9" x2="947" y2="1710.9" stroke="#000" stroke-width="2.2" />
<line x1="941" y1="1688.4" x2="947" y2="1688.4" stroke="#000" stroke-width="2.2" />
<line x1="941" y1="1668.5" x2="947" y2="1668.5" stroke="#000" stroke-width="2.2" />
<line x1="941" y1="1465" x2="947" y2="1465" stroke="#000" stroke-width="2.2" />
<line x1="941" y1="1416.4" x2="947" y2="1416.4" stroke="#000" stroke-width="2.2" />
<line x1="941" y1="1347.9" x2="947" y2="1347.9" stroke="#000" stroke-width="2.2" />
<line x1="941" y1="1321.9" x2="947" y2="1321.9" stroke="#000" stroke-width="2.2" />
<line x1="941" y1="1299.3" x2="947" y2="1299.3" stroke="#000" stroke-width="2.2" />
<line x1="941" y1="1279.4" x2="947" y2="1279.4" stroke="#000" stroke-width="2.2" />
<text x="932.5" y="1775.6" font-size="21.7" text-anchor="end" font-weight="normal" font-style="normal" fill="#000" >0.5</text>
<text x="932.5" y="1658.5" font-size="21.7" text-anchor="end" font-weight="normal" font-style="normal" fill="#000" >1</text>
<text x="932.5" y="1541.4" font-size="21.7" text-anchor="end" font-weight="normal" font-style="normal" fill="#000" >2</text>
<text x="932.5" y="1386.5" font-size="21.7" text-anchor="end" font-weight="normal" font-style="normal" fill="#000" >5</text>
<text x="932.5" y="1269.4" font-size="21.7" text-anchor="end" font-weight="normal" font-style="normal" fill="#000" >10</text>
<line x1="947" y1="1767.8" x2="947" y2="1778.8" stroke="#000" stroke-width="2.2" />
<line x1="1205" y1="1767.8" x2="1205" y2="1778.8" stroke="#000" stroke-width="2.2" />
<line x1="1463" y1="1767.8" x2="1463" y2="1778.8" stroke="#000" stroke-width="2.2" />
<line x1="1721" y1="1767.8" x2="1721" y2="1778.8" stroke="#000" stroke-width="2.2" />
<line x1="1024.7" y1="1767.8" x2="1024.7" y2="1773.8" stroke="#000" stroke-width="2.2" />
<line x1="1070.1" y1="1767.8" x2="1070.1" y2="1773.8" stroke="#000" stroke-width="2.2" />
<line x1="1102.3" y1="1767.8" x2="1102.3" y2="1773.8" stroke="#000" stroke-width="2.2" />
<line x1="1127.3" y1="1767.8" x2="1127.3" y2="1773.8" stroke="#000" stroke-width="2.2" />
<line x1="1147.8" y1="1767.8" x2="1147.8" y2="1773.8" stroke="#000" stroke-width="2.2" />
<line x1="1165" y1="1767.8" x2="1165" y2="1773.8" stroke="#000" stroke-width="2.2" />
<line x1="1180" y1="1767.8" x2="1180" y2="1773.8" stroke="#000" stroke-width="2.2" />
<line x1="1193.2" y1="1767.8" x2="1193.2" y2="1773.8" stroke="#000" stroke-width="2.2" />
<line x1="1282.7" y1="1767.8" x2="1282.7" y2="1773.8" stroke="#000" stroke-width="2.2" />
<line x1="1328.1" y1="1767.8" x2="1328.1" y2="1773.8" stroke="#000" stroke-width="2.2" />
<line x1="1360.3" y1="1767.8" x2="1360.3" y2="1773.8" stroke="#000" stroke-width="2.2" />
<line x1="1385.3" y1="1767.8" x2="1385.3" y2="1773.8" stroke="#000" stroke-width="2.2" />
<line x1="1405.8" y1="1767.8" x2="1405.8" y2="1773.8" stroke="#000" stroke-width="2.2" />
<line x1="1423" y1="1767.8" x2="1423" y2="1773.8" stroke="#000" stroke-width="2.2" />
<line x1="1438" y1="1767.8" x2="1438" y2="1773.8" stroke="#000" stroke-width="2.2" />
<line x1="1451.2" y1="1767.8" x2="1451.2" y2="1773.8" stroke="#000" stroke-width="2.2" />
<line x1="1540.7" y1="1767.8" x2="1540.7" y2="1773.8" stroke="#000" stroke-width="2.2" />
<line x1="1586.1" y1="1767.8" x2="1586.1" y2="1773.8" stroke="#000" stroke-width="2.2" />
<line x1="1618.3" y1="1767.8" x2="1618.3" y2="1773.8" stroke="#000" stroke-width="2.2" />
<line x1="1643.3" y1="1767.8" x2="1643.3" y2="1773.8" stroke="#000" stroke-width="2.2" />
<line x1="1663.8" y1="1767.8" x2="1663.8" y2="1773.8" stroke="#000" stroke-width="2.2" />
<line x1="1681" y1="1767.8" x2="1681" y2="1773.8" stroke="#000" stroke-width="2.2" />
<line x1="1696" y1="1767.8" x2="1696" y2="1773.8" stroke="#000" stroke-width="2.2" />
<line x1="1709.2" y1="1767.8" x2="1709.2" y2="1773.8" stroke="#000" stroke-width="2.2" />
<text x="947" y="1795.4" font-size="21.7" text-anchor="middle" font-weight="normal" font-style="normal" fill="#000" >0.01</text>
<text x="1205" y="1795.4" font-size="21.7" text-anchor="middle" font-weight="normal" font-style="normal" fill="#000" >0.1</text>
<text x="1463" y="1795.4" font-size="21.7" text-anchor="middle" font-weight="normal" font-style="normal" fill="#000" >1</text>
<text x="1721" y="1795.4" font-size="21.7" text-anchor="middle" font-weight="normal" font-style="normal" fill="#000" >10</text>
<rect x="107" y="1820.4" width="746.1" height="191" fill="none" stroke="#000" stroke-width="2.2"/>
<line x1="96" y1="2000.2" x2="107" y2="2000.2" stroke="#000" stroke-width="2.2" />
<line x1="96" y1="1911" x2="107" y2="1911" stroke="#000" stroke-width="2.2" />
<line x1="96" y1="1821.7" x2="107" y2="1821.7" stroke="#000" stroke-width="2.2" />
<line x1="102.5" y1="1977.9" x2="107" y2="1977.9" stroke="#000" stroke-width="2.2" />
<line x1="102.5" y1="1955.6" x2="107" y2="1955.6" stroke="#000" stroke-width="2.2" />
<line x1="102.5" y1="1933.3" x2="107" y2="1933.3" stroke="#000" stroke-width="2.2" />
<line x1="102.5" y1="1888.7" x2="107" y2="1888.7" stroke="#000" stroke-width="2.2" />
<line x1="102.5" y1="1866.4" x2="107" y2="1866.4" stroke="#000" stroke-width="2.2" />
<line x1="102.5" y1="1844.1" x2="107" y2="1844.1" stroke="#000" stroke-width="2.2" />
<text x="96" y="2008" font-size="21.7" text-anchor="end" font-weight="normal" font-style="normal" fill="#000" >0</text>
<text x="96" y="1918.8" font-size="21.7" text-anchor="end" font-weight="normal" font-style="normal" fill="#000" >20</text>
<text x="96" y="1829.5" font-size="21.7" text-anchor="end" font-weight="normal" font-style="normal" fill="#000" >40</text>
<line x1="136.7" y1="2011.4" x2="136.7" y2="2019.4" stroke="#000" stroke-width="2.2" />
<line x1="185.8" y1="2011.4" x2="185.8" y2="2016.4" stroke="#000" stroke-width="2.2" />
<text x="132.2" y="2032.9" font-size="21" text-anchor="middle" font-weight="normal" font-style="italic" fill="#000" >41-45</text>
<line x1="234.8" y1="2011.4" x2="234.8" y2="2019.4" stroke="#000" stroke-width="2.2" />
<line x1="283.8" y1="2011.4" x2="283.8" y2="2016.4" stroke="#000" stroke-width="2.2" />
<text x="230.3" y="2032.9" font-size="21" text-anchor="middle" font-weight="normal" font-style="italic" fill="#000" >46-50</text>
<line x1="332.9" y1="2011.4" x2="332.9" y2="2019.4" stroke="#000" stroke-width="2.2" />
<line x1="381.9" y1="2011.4" x2="381.9" y2="2016.4" stroke="#000" stroke-width="2.2" />
<text x="328.4" y="2032.9" font-size="21" text-anchor="middle" font-weight="normal" font-style="italic" fill="#000" >51-55</text>
<line x1="431" y1="2011.4" x2="431" y2="2019.4" stroke="#000" stroke-width="2.2" />
<line x1="480" y1="2011.4" x2="480" y2="2016.4" stroke="#000" stroke-width="2.2" />
<text x="426.5" y="2032.9" font-size="21" text-anchor="middle" font-weight="normal" font-style="italic" fill="#000" >56-60</text>
<line x1="529.1" y1="2011.4" x2="529.1" y2="2019.4" stroke="#000" stroke-width="2.2" />
<line x1="578.1" y1="2011.4" x2="578.1" y2="2016.4" stroke="#000" stroke-width="2.2" />
<text x="524.6" y="2032.9" font-size="21" text-anchor="middle" font-weight="normal" font-style="italic" fill="#000" >61-65</text>
<line x1="627.2" y1="2011.4" x2="627.2" y2="2019.4" stroke="#000" stroke-width="2.2" />
<line x1="676.2" y1="2011.4" x2="676.2" y2="2016.4" stroke="#000" stroke-width="2.2" />
<text x="622.7" y="2032.9" font-size="21" text-anchor="middle" font-weight="normal" font-style="italic" fill="#000" >66-70</text>
<line x1="725.3" y1="2011.4" x2="725.3" y2="2019.4" stroke="#000" stroke-width="2.2" />
<line x1="774.3" y1="2011.4" x2="774.3" y2="2016.4" stroke="#000" stroke-width="2.2" />
<text x="720.8" y="2032.9" font-size="21" text-anchor="middle" font-weight="normal" font-style="italic" fill="#000" >71-75</text>
<line x1="823.4" y1="2011.4" x2="823.4" y2="2019.4" stroke="#000" stroke-width="2.2" />
<text x="818.9" y="2032.9" font-size="21" text-anchor="middle" font-weight="normal" font-style="italic" fill="#000" >76-80</text>
<rect x="107" y="2036" width="746.1" height="191.6" fill="none" stroke="#000" stroke-width="2.2"/>
<line x1="96" y1="2227.6" x2="107" y2="2227.6" stroke="#000" stroke-width="2.2" />
<line x1="96" y1="2131.8" x2="107" y2="2131.8" stroke="#000" stroke-width="2.2" />
<line x1="96" y1="2036" x2="107" y2="2036" stroke="#000" stroke-width="2.2" />
<line x1="102.5" y1="2203.7" x2="107" y2="2203.7" stroke="#000" stroke-width="2.2" />
<line x1="102.5" y1="2179.7" x2="107" y2="2179.7" stroke="#000" stroke-width="2.2" />
<line x1="102.5" y1="2155.8" x2="107" y2="2155.8" stroke="#000" stroke-width="2.2" />
<line x1="102.5" y1="2107.8" x2="107" y2="2107.8" stroke="#000" stroke-width="2.2" />
<line x1="102.5" y1="2083.9" x2="107" y2="2083.9" stroke="#000" stroke-width="2.2" />
<line x1="102.5" y1="2059.9" x2="107" y2="2059.9" stroke="#000" stroke-width="2.2" />
<text x="96" y="2235.4" font-size="21.7" text-anchor="end" font-weight="normal" font-style="normal" fill="#000" >0</text>
<text x="96" y="2139.6" font-size="21.7" text-anchor="end" font-weight="normal" font-style="normal" fill="#000" >20</text>
<text x="96" y="2043.8" font-size="21.7" text-anchor="end" font-weight="normal" font-style="normal" fill="#000" >40</text>
<line x1="136.7" y1="2227.6" x2="136.7" y2="2235.6" stroke="#000" stroke-width="2.2" />
<line x1="185.8" y1="2227.6" x2="185.8" y2="2232.6" stroke="#000" stroke-width="2.2" />
<text x="132.2" y="2249.1" font-size="21" text-anchor="middle" font-weight="normal" font-style="italic" fill="#000" >41-45</text>
<line x1="234.8" y1="2227.6" x2="234.8" y2="2235.6" stroke="#000" stroke-width="2.2" />
<line x1="283.8" y1="2227.6" x2="283.8" y2="2232.6" stroke="#000" stroke-width="2.2" />
<text x="230.3" y="2249.1" font-size="21" text-anchor="middle" font-weight="normal" font-style="italic" fill="#000" >46-50</text>
<line x1="332.9" y1="2227.6" x2="332.9" y2="2235.6" stroke="#000" stroke-width="2.2" />
<line x1="381.9" y1="2227.6" x2="381.9" y2="2232.6" stroke="#000" stroke-width="2.2" />
<text x="328.4" y="2249.1" font-size="21" text-anchor="middle" font-weight="normal" font-style="italic" fill="#000" >51-55</text>
<line x1="431" y1="2227.6" x2="431" y2="2235.6" stroke="#000" stroke-width="2.2" />
<line x1="480" y1="2227.6" x2="480" y2="2232.6" stroke="#000" stroke-width="2.2" />
<text x="426.5" y="2249.1" font-size="21" text-anchor="middle" font-weight="normal" font-style="italic" fill="#000" >56-60</text>
<line x1="529.1" y1="2227.6" x2="529.1" y2="2235.6" stroke="#000" stroke-width="2.2" />
<line x1="578.1" y1="2227.6" x2="578.1" y2="2232.6" stroke="#000" stroke-width="2.2" />
<text x="524.6" y="2249.1" font-size="21" text-anchor="middle" font-weight="normal" font-style="italic" fill="#000" >61-65</text>
<line x1="627.2" y1="2227.6" x2="627.2" y2="2235.6" stroke="#000" stroke-width="2.2" />
<line x1="676.2" y1="2227.6" x2="676.2" y2="2232.6" stroke="#000" stroke-width="2.2" />
<text x="622.7" y="2249.1" font-size="21" text-anchor="middle" font-weight="normal" font-style="italic" fill="#000" >66-70</text>
<line x1="725.3" y1="2227.6" x2="725.3" y2="2235.6" stroke="#000" stroke-width="2.2" />
<line x1="774.3" y1="2227.6" x2="774.3" y2="2232.6" stroke="#000" stroke-width="2.2" />
<text x="720.8" y="2249.1" font-size="21" text-anchor="middle" font-weight="normal" font-style="italic" fill="#000" >71-75</text>
<line x1="823.4" y1="2227.6" x2="823.4" y2="2235.6" stroke="#000" stroke-width="2.2" />
<text x="818.9" y="2249.1" font-size="21" text-anchor="middle" font-weight="normal" font-style="italic" fill="#000" >76-80</text>
<rect x="107" y="2252.2" width="746.1" height="190.8" fill="none" stroke="#000" stroke-width="2.2"/>
<line x1="96" y1="2443" x2="107" y2="2443" stroke="#000" stroke-width="2.2" />
<line x1="96" y1="2347.6" x2="107" y2="2347.6" stroke="#000" stroke-width="2.2" />
<line x1="96" y1="2252.2" x2="107" y2="2252.2" stroke="#000" stroke-width="2.2" />
<line x1="102.5" y1="2423.9" x2="107" y2="2423.9" stroke="#000" stroke-width="2.2" />
<line x1="102.5" y1="2404.8" x2="107" y2="2404.8" stroke="#000" stroke-width="2.2" />
<line x1="102.5" y1="2385.8" x2="107" y2="2385.8" stroke="#000" stroke-width="2.2" />
<line x1="102.5" y1="2366.7" x2="107" y2="2366.7" stroke="#000" stroke-width="2.2" />
<line x1="102.5" y1="2328.5" x2="107" y2="2328.5" stroke="#000" stroke-width="2.2" />
<line x1="102.5" y1="2309.4" x2="107" y2="2309.4" stroke="#000" stroke-width="2.2" />
<line x1="102.5" y1="2290.4" x2="107" y2="2290.4" stroke="#000" stroke-width="2.2" />
<line x1="102.5" y1="2271.3" x2="107" y2="2271.3" stroke="#000" stroke-width="2.2" />
<text x="96" y="2450.8" font-size="21.7" text-anchor="end" font-weight="normal" font-style="normal" fill="#000" >0</text>
<text x="96" y="2355.4" font-size="21.7" text-anchor="end" font-weight="normal" font-style="normal" fill="#000" >25</text>
<text x="96" y="2260" font-size="21.7" text-anchor="end" font-weight="normal" font-style="normal" fill="#000" >50</text>
<line x1="136.7" y1="2443" x2="136.7" y2="2451" stroke="#000" stroke-width="2.2" />
<line x1="185.8" y1="2443" x2="185.8" y2="2448" stroke="#000" stroke-width="2.2" />
<text x="132.2" y="2462.5" font-size="21" text-anchor="middle" font-weight="normal" font-style="italic" fill="#000" >41-45</text>
<line x1="234.8" y1="2443" x2="234.8" y2="2451" stroke="#000" stroke-width="2.2" />
<line x1="283.8" y1="2443" x2="283.8" y2="2448" stroke="#000" stroke-width="2.2" />
<text x="230.3" y="2462.5" font-size="21" text-anchor="middle" font-weight="normal" font-style="italic" fill="#000" >46-50</text>
<line x1="332.9" y1="2443" x2="332.9" y2="2451" stroke="#000" stroke-width="2.2" />
<line x1="381.9" y1="2443" x2="381.9" y2="2448" stroke="#000" stroke-width="2.2" />
<text x="328.4" y="2462.5" font-size="21" text-anchor="middle" font-weight="normal" font-style="italic" fill="#000" >51-55</text>
<line x1="431" y1="2443" x2="431" y2="2451" stroke="#000" stroke-width="2.2" />
<line x1="480" y1="2443" x2="480" y2="2448" stroke="#000" stroke-width="2.2" />
<text x="426.5" y="2462.5" font-size="21" text-anchor="middle" font-weight="normal" font-style="italic" fill="#000" >56-60</text>
<line x1="529.1" y1="2443" x2="529.1" y2="2451" stroke="#000" stroke-width="2.2" />
<line x1="578.1" y1="2443" x2="578.1" y2="2448" stroke="#000" stroke-width="2.2" />
<text x="524.6" y="2462.5" font-size="21" text-anchor="middle" font-weight="normal" font-style="italic" fill="#000" >61-65</text>
<line x1="627.2" y1="2443" x2="627.2" y2="2451" stroke="#000" stroke-width="2.2" />
<line x1="676.2" y1="2443" x2="676.2" y2="2448" stroke="#000" stroke-width="2.2" />
<text x="622.7" y="2462.5" font-size="21" text-anchor="middle" font-weight="normal" font-style="italic" fill="#000" >66-70</text>
<line x1="725.3" y1="2443" x2="725.3" y2="2451" stroke="#000" stroke-width="2.2" />
<line x1="774.3" y1="2443" x2="774.3" y2="2448" stroke="#000" stroke-width="2.2" />
<text x="720.8" y="2462.5" font-size="21" text-anchor="middle" font-weight="normal" font-style="italic" fill="#000" >71-75</text>
<line x1="823.4" y1="2443" x2="823.4" y2="2451" stroke="#000" stroke-width="2.2" />
<text x="818.9" y="2462.5" font-size="21" text-anchor="middle" font-weight="normal" font-style="italic" fill="#000" >76-80</text>
<rect x="975" y="1820.6" width="745.8" height="191" fill="none" stroke="#000" stroke-width="2.2"/>
<line x1="964" y1="2011.6" x2="975" y2="2011.6" stroke="#000" stroke-width="2.2" />
<line x1="964" y1="1916.1" x2="975" y2="1916.1" stroke="#000" stroke-width="2.2" />
<line x1="964" y1="1820.6" x2="975" y2="1820.6" stroke="#000" stroke-width="2.2" />
<line x1="970.5" y1="1987.7" x2="975" y2="1987.7" stroke="#000" stroke-width="2.2" />
<line x1="970.5" y1="1963.8" x2="975" y2="1963.8" stroke="#000" stroke-width="2.2" />
<line x1="970.5" y1="1940" x2="975" y2="1940" stroke="#000" stroke-width="2.2" />
<line x1="970.5" y1="1892.2" x2="975" y2="1892.2" stroke="#000" stroke-width="2.2" />
<line x1="970.5" y1="1868.3" x2="975" y2="1868.3" stroke="#000" stroke-width="2.2" />
<line x1="970.5" y1="1844.5" x2="975" y2="1844.5" stroke="#000" stroke-width="2.2" />
<text x="964" y="2019.4" font-size="21.7" text-anchor="end" font-weight="normal" font-style="normal" fill="#000" >0</text>
<text x="964" y="1923.9" font-size="21.7" text-anchor="end" font-weight="normal" font-style="normal" fill="#000" >20</text>
<text x="964" y="1828.4" font-size="21.7" text-anchor="end" font-weight="normal" font-style="normal" fill="#000" >40</text>
<line x1="1002.2" y1="2011.6" x2="1002.2" y2="2019.6" stroke="#000" stroke-width="2.2" />
<line x1="1051.5" y1="2011.6" x2="1051.5" y2="2016.6" stroke="#000" stroke-width="2.2" />
<text x="999.7" y="2033.1" font-size="21" text-anchor="middle" font-weight="normal" font-style="italic" fill="#000" >41-45</text>
<line x1="1100.8" y1="2011.6" x2="1100.8" y2="2019.6" stroke="#000" stroke-width="2.2" />
<line x1="1150.1" y1="2011.6" x2="1150.1" y2="2016.6" stroke="#000" stroke-width="2.2" />
<text x="1098.3" y="2033.1" font-size="21" text-anchor="middle" font-weight="normal" font-style="italic" fill="#000" >46-50</text>
<line x1="1199.4" y1="2011.6" x2="1199.4" y2="2019.6" stroke="#000" stroke-width="2.2" />
<line x1="1248.7" y1="2011.6" x2="1248.7" y2="2016.6" stroke="#000" stroke-width="2.2" />
<text x="1196.9" y="2033.1" font-size="21" text-anchor="middle" font-weight="normal" font-style="italic" fill="#000" >51-55</text>
<line x1="1298" y1="2011.6" x2="1298" y2="2019.6" stroke="#000" stroke-width="2.2" />
<line x1="1347.3" y1="2011.6" x2="1347.3" y2="2016.6" stroke="#000" stroke-width="2.2" />
<text x="1295.5" y="2033.1" font-size="21" text-anchor="middle" font-weight="normal" font-style="italic" fill="#000" >56-60</text>
<line x1="1396.6" y1="2011.6" x2="1396.6" y2="2019.6" stroke="#000" stroke-width="2.2" />
<line x1="1445.9" y1="2011.6" x2="1445.9" y2="2016.6" stroke="#000" stroke-width="2.2" />
<text x="1394.1" y="2033.1" font-size="21" text-anchor="middle" font-weight="normal" font-style="italic" fill="#000" >61-65</text>
<line x1="1495.2" y1="2011.6" x2="1495.2" y2="2019.6" stroke="#000" stroke-width="2.2" />
<line x1="1544.5" y1="2011.6" x2="1544.5" y2="2016.6" stroke="#000" stroke-width="2.2" />
<text x="1492.7" y="2033.1" font-size="21" text-anchor="middle" font-weight="normal" font-style="italic" fill="#000" >66-70</text>
<line x1="1593.8" y1="2011.6" x2="1593.8" y2="2019.6" stroke="#000" stroke-width="2.2" />
<line x1="1643.1" y1="2011.6" x2="1643.1" y2="2016.6" stroke="#000" stroke-width="2.2" />
<text x="1591.3" y="2033.1" font-size="21" text-anchor="middle" font-weight="normal" font-style="italic" fill="#000" >71-75</text>
<line x1="1692.4" y1="2011.6" x2="1692.4" y2="2019.6" stroke="#000" stroke-width="2.2" />
<text x="1689.9" y="2033.1" font-size="21" text-anchor="middle" font-weight="normal" font-style="italic" fill="#000" >76-80</text>
<rect x="975" y="2036" width="745.8" height="191.6" fill="none" stroke="#000" stroke-width="2.2"/>
<line x1="964" y1="2227.6" x2="975" y2="2227.6" stroke="#000" stroke-width="2.2" />
<line x1="964" y1="2131.8" x2="975" y2="2131.8" stroke="#000" stroke-width="2.2" />
<line x1="964" y1="2036" x2="975" y2="2036" stroke="#000" stroke-width="2.2" />
<line x1="970.5" y1="2203.7" x2="975" y2="2203.7" stroke="#000" stroke-width="2.2" />
<line x1="970.5" y1="2179.7" x2="975" y2="2179.7" stroke="#000" stroke-width="2.2" />
<line x1="970.5" y1="2155.8" x2="975" y2="2155.8" stroke="#000" stroke-width="2.2" />
<line x1="970.5" y1="2107.8" x2="975" y2="2107.8" stroke="#000" stroke-width="2.2" />
<line x1="970.5" y1="2083.9" x2="975" y2="2083.9" stroke="#000" stroke-width="2.2" />
<line x1="970.5" y1="2059.9" x2="975" y2="2059.9" stroke="#000" stroke-width="2.2" />
<text x="964" y="2235.4" font-size="21.7" text-anchor="end" font-weight="normal" font-style="normal" fill="#000" >0</text>
<text x="964" y="2139.6" font-size="21.7" text-anchor="end" font-weight="normal" font-style="normal" fill="#000" >20</text>
<text x="964" y="2043.8" font-size="21.7" text-anchor="end" font-weight="normal" font-style="normal" fill="#000" >40</text>
<line x1="1002.2" y1="2227.6" x2="1002.2" y2="2235.6" stroke="#000" stroke-width="2.2" />
<line x1="1051.5" y1="2227.6" x2="1051.5" y2="2232.6" stroke="#000" stroke-width="2.2" />
<text x="999.7" y="2249.1" font-size="21" text-anchor="middle" font-weight="normal" font-style="italic" fill="#000" >41-45</text>
<line x1="1100.8" y1="2227.6" x2="1100.8" y2="2235.6" stroke="#000" stroke-width="2.2" />
<line x1="1150.1" y1="2227.6" x2="1150.1" y2="2232.6" stroke="#000" stroke-width="2.2" />
<text x="1098.3" y="2249.1" font-size="21" text-anchor="middle" font-weight="normal" font-style="italic" fill="#000" >46-50</text>
<line x1="1199.4" y1="2227.6" x2="1199.4" y2="2235.6" stroke="#000" stroke-width="2.2" />
<line x1="1248.7" y1="2227.6" x2="1248.7" y2="2232.6" stroke="#000" stroke-width="2.2" />
<text x="1196.9" y="2249.1" font-size="21" text-anchor="middle" font-weight="normal" font-style="italic" fill="#000" >51-55</text>
<line x1="1298" y1="2227.6" x2="1298" y2="2235.6" stroke="#000" stroke-width="2.2" />
<line x1="1347.3" y1="2227.6" x2="1347.3" y2="2232.6" stroke="#000" stroke-width="2.2" />
<text x="1295.5" y="2249.1" font-size="21" text-anchor="middle" font-weight="normal" font-style="italic" fill="#000" >56-60</text>
<line x1="1396.6" y1="2227.6" x2="1396.6" y2="2235.6" stroke="#000" stroke-width="2.2" />
<line x1="1445.9" y1="2227.6" x2="1445.9" y2="2232.6" stroke="#000" stroke-width="2.2" />
<text x="1394.1" y="2249.1" font-size="21" text-anchor="middle" font-weight="normal" font-style="italic" fill="#000" >61-65</text>
<line x1="1495.2" y1="2227.6" x2="1495.2" y2="2235.6" stroke="#000" stroke-width="2.2" />
<line x1="1544.5" y1="2227.6" x2="1544.5" y2="2232.6" stroke="#000" stroke-width="2.2" />
<text x="1492.7" y="2249.1" font-size="21" text-anchor="middle" font-weight="normal" font-style="italic" fill="#000" >66-70</text>
<line x1="1593.8" y1="2227.6" x2="1593.8" y2="2235.6" stroke="#000" stroke-width="2.2" />
<line x1="1643.1" y1="2227.6" x2="1643.1" y2="2232.6" stroke="#000" stroke-width="2.2" />
<text x="1591.3" y="2249.1" font-size="21" text-anchor="middle" font-weight="normal" font-style="italic" fill="#000" >71-75</text>
<line x1="1692.4" y1="2227.6" x2="1692.4" y2="2235.6" stroke="#000" stroke-width="2.2" />
<text x="1689.9" y="2249.1" font-size="21" text-anchor="middle" font-weight="normal" font-style="italic" fill="#000" >76-80</text>
<rect x="975" y="2252.2" width="745.8" height="190.8" fill="none" stroke="#000" stroke-width="2.2"/>
<line x1="964" y1="2443" x2="975" y2="2443" stroke="#000" stroke-width="2.2" />
<line x1="964" y1="2347.6" x2="975" y2="2347.6" stroke="#000" stroke-width="2.2" />
<line x1="964" y1="2252.2" x2="975" y2="2252.2" stroke="#000" stroke-width="2.2" />
<line x1="970.5" y1="2423.9" x2="975" y2="2423.9" stroke="#000" stroke-width="2.2" />
<line x1="970.5" y1="2404.8" x2="975" y2="2404.8" stroke="#000" stroke-width="2.2" />
<line x1="970.5" y1="2385.8" x2="975" y2="2385.8" stroke="#000" stroke-width="2.2" />
<line x1="970.5" y1="2366.7" x2="975" y2="2366.7" stroke="#000" stroke-width="2.2" />
<line x1="970.5" y1="2328.5" x2="975" y2="2328.5" stroke="#000" stroke-width="2.2" />
<line x1="970.5" y1="2309.4" x2="975" y2="2309.4" stroke="#000" stroke-width="2.2" />
<line x1="970.5" y1="2290.4" x2="975" y2="2290.4" stroke="#000" stroke-width="2.2" />
<line x1="970.5" y1="2271.3" x2="975" y2="2271.3" stroke="#000" stroke-width="2.2" />
<text x="964" y="2450.8" font-size="21.7" text-anchor="end" font-weight="normal" font-style="normal" fill="#000" >0</text>
<text x="964" y="2355.4" font-size="21.7" text-anchor="end" font-weight="normal" font-style="normal" fill="#000" >25</text>
<text x="964" y="2260" font-size="21.7" text-anchor="end" font-weight="normal" font-style="normal" fill="#000" >50</text>
<line x1="1002.2" y1="2443" x2="1002.2" y2="2451" stroke="#000" stroke-width="2.2" />
<line x1="1051.5" y1="2443" x2="1051.5" y2="2448" stroke="#000" stroke-width="2.2" />
<text x="999.7" y="2462.5" font-size="21" text-anchor="middle" font-weight="normal" font-style="italic" fill="#000" >41-45</text>
<line x1="1100.8" y1="2443" x2="1100.8" y2="2451" stroke="#000" stroke-width="2.2" />
<line x1="1150.1" y1="2443" x2="1150.1" y2="2448" stroke="#000" stroke-width="2.2" />
<text x="1098.3" y="2462.5" font-size="21" text-anchor="middle" font-weight="normal" font-style="italic" fill="#000" >46-50</text>
<line x1="1199.4" y1="2443" x2="1199.4" y2="2451" stroke="#000" stroke-width="2.2" />
<line x1="1248.7" y1="2443" x2="1248.7" y2="2448" stroke="#000" stroke-width="2.2" />
<text x="1196.9" y="2462.5" font-size="21" text-anchor="middle" font-weight="normal" font-style="italic" fill="#000" >51-55</text>
<line x1="1298" y1="2443" x2="1298" y2="2451" stroke="#000" stroke-width="2.2" />
<line x1="1347.3" y1="2443" x2="1347.3" y2="2448" stroke="#000" stroke-width="2.2" />
<text x="1295.5" y="2462.5" font-size="21" text-anchor="middle" font-weight="normal" font-style="italic" fill="#000" >56-60</text>
<line x1="1396.6" y1="2443" x2="1396.6" y2="2451" stroke="#000" stroke-width="2.2" />
<line x1="1445.9" y1="2443" x2="1445.9" y2="2448" stroke="#000" stroke-width="2.2" />
<text x="1394.1" y="2462.5" font-size="21" text-anchor="middle" font-weight="normal" font-style="italic" fill="#000" >61-65</text>
<line x1="1495.2" y1="2443" x2="1495.2" y2="2451" stroke="#000" stroke-width="2.2" />
<line x1="1544.5" y1="2443" x2="1544.5" y2="2448" stroke="#000" stroke-width="2.2" />
<text x="1492.7" y="2462.5" font-size="21" text-anchor="middle" font-weight="normal" font-style="italic" fill="#000" >66-70</text>
<line x1="1593.8" y1="2443" x2="1593.8" y2="2451" stroke="#000" stroke-width="2.2" />
<line x1="1643.1" y1="2443" x2="1643.1" y2="2448" stroke="#000" stroke-width="2.2" />
<text x="1591.3" y="2462.5" font-size="21" text-anchor="middle" font-weight="normal" font-style="italic" fill="#000" >71-75</text>
<line x1="1692.4" y1="2443" x2="1692.4" y2="2451" stroke="#000" stroke-width="2.2" />
<text x="1689.9" y="2462.5" font-size="21" text-anchor="middle" font-weight="normal" font-style="italic" fill="#000" >76-80</text>
<rect x="80" y="515.2" width="40" height="40" fill="#fff" stroke="#231815" stroke-width="2"/>
<text x="100" y="546.2" font-size="36" text-anchor="middle" font-weight="normal" font-style="normal" fill="#231815" >a</text>
<rect x="947" y="515.2" width="40" height="40" fill="#fff" stroke="#231815" stroke-width="2"/>
<text x="967" y="546.2" font-size="36" text-anchor="middle" font-weight="normal" font-style="normal" fill="#231815" >e</text>
<rect x="80" y="1102.6" width="40" height="40" fill="#fff" stroke="#231815" stroke-width="2"/>
<text x="100" y="1133.6" font-size="36" text-anchor="middle" font-weight="normal" font-style="normal" fill="#231815" >b</text>
<rect x="947" y="1102.6" width="40" height="40" fill="#fff" stroke="#231815" stroke-width="2"/>
<text x="967" y="1133.6" font-size="36" text-anchor="middle" font-weight="normal" font-style="normal" fill="#231815" >f</text>
<rect x="80" y="1727.8" width="40" height="40" fill="#fff" stroke="#231815" stroke-width="2"/>
<text x="100" y="1758.8" font-size="36" text-anchor="middle" font-weight="normal" font-style="normal" fill="#231815" >c</text>
<rect x="947" y="1727.8" width="40" height="40" fill="#fff" stroke="#231815" stroke-width="2"/>
<text x="967" y="1758.8" font-size="36" text-anchor="middle" font-weight="normal" font-style="normal" fill="#231815" >g</text>
<rect x="107" y="2403" width="40" height="40" fill="#fff" stroke="#231815" stroke-width="2"/>
<text x="127" y="2434" font-size="36" text-anchor="middle" font-weight="normal" font-style="normal" fill="#231815" >d</text>
<rect x="975" y="2403" width="40" height="40" fill="#fff" stroke="#231815" stroke-width="2"/>
<text x="995" y="2434" font-size="36" text-anchor="middle" font-weight="normal" font-style="normal" fill="#231815" >h</text>
<text x="467" y="27" font-size="32.5" text-anchor="middle" font-weight="bold" font-style="italic" fill="#000" textLength="494" lengthAdjust="spacingAndGlyphs" >P = 9kbar, 1.5 wt% bulk H<tspan font-size="22" dy="4">2</tspan><tspan dy="-4">O</tspan></text>
<text x="1334" y="27" font-size="32.5" text-anchor="middle" font-weight="bold" font-style="italic" fill="#000" textLength="520" lengthAdjust="spacingAndGlyphs" >P = 15kbar, 3.5 wt% bulk H<tspan font-size="22" dy="4">2</tspan><tspan dy="-4">O</tspan></text>
<text x="26.0" y="296.0" font-size="28" font-weight="bold" font-style="italic" text-anchor="middle" transform="rotate(-90 26.0 296.0)" textLength="26" lengthAdjust="spacingAndGlyphs">λ<tspan font-size="17" dy="2">2</tspan></text>
<text x="454" y="593" font-size="28" text-anchor="start" font-weight="bold" font-style="italic" fill="#000" textLength="24" lengthAdjust="spacingAndGlyphs" >λ<tspan font-size="17" dy="3">1</tspan></text>
<text x="22.3" y="835.7" font-size="28" font-weight="bold" font-style="italic" text-anchor="middle" transform="rotate(-90 22.3 835.7)" textLength="113.8" lengthAdjust="spacingAndGlyphs">Sr (ppm)</text>
<text x="415.4" y="1177" font-size="27" text-anchor="start" font-weight="bold" font-style="italic" fill="#000" textLength="101.7" lengthAdjust="spacingAndGlyphs" >Y (ppm)</text>
<text x="36.0" y="1457.5" font-size="27" font-weight="bold" font-style="italic" text-anchor="middle" transform="rotate(-90 36.0 1457.5)" textLength="124.5" lengthAdjust="spacingAndGlyphs">Nb (ppm)</text>
<text x="407.5" y="1807.2" font-size="27" text-anchor="start" font-weight="bold" font-style="italic" fill="#000" textLength="118.2" lengthAdjust="spacingAndGlyphs" >Ta (ppm)</text>
<text x="55.0" y="2133.0" font-size="28" font-weight="bold" font-style="italic" text-anchor="middle" transform="rotate(-90 55.0 2133.0)" textLength="197.5" lengthAdjust="spacingAndGlyphs">Proportion (%)</text>
<text x="452.2" y="2482.7" font-size="28" text-anchor="start" font-weight="bold" font-style="italic" fill="#000" textLength="59.9" lengthAdjust="spacingAndGlyphs" >Mg#</text>
<text x="893.0" y="296.0" font-size="28" font-weight="bold" font-style="italic" text-anchor="middle" transform="rotate(-90 893.0 296.0)" textLength="26" lengthAdjust="spacingAndGlyphs">λ<tspan font-size="17" dy="2">2</tspan></text>
<text x="1321" y="593" font-size="28" text-anchor="start" font-weight="bold" font-style="italic" fill="#000" textLength="24" lengthAdjust="spacingAndGlyphs" >λ<tspan font-size="17" dy="3">1</tspan></text>
<text x="889.3" y="835.7" font-size="28" font-weight="bold" font-style="italic" text-anchor="middle" transform="rotate(-90 889.3 835.7)" textLength="113.8" lengthAdjust="spacingAndGlyphs">Sr (ppm)</text>
<text x="1282.4" y="1177" font-size="27" text-anchor="start" font-weight="bold" font-style="italic" fill="#000" textLength="101.7" lengthAdjust="spacingAndGlyphs" >Y (ppm)</text>
<text x="903.0" y="1457.5" font-size="27" font-weight="bold" font-style="italic" text-anchor="middle" transform="rotate(-90 903.0 1457.5)" textLength="124.5" lengthAdjust="spacingAndGlyphs">Nb (ppm)</text>
<text x="1274.5" y="1807.2" font-size="27" text-anchor="start" font-weight="bold" font-style="italic" fill="#000" textLength="118.2" lengthAdjust="spacingAndGlyphs" >Ta (ppm)</text>
<text x="921.5" y="2133.0" font-size="28" font-weight="bold" font-style="italic" text-anchor="middle" transform="rotate(-90 921.5 2133.0)" textLength="197.5" lengthAdjust="spacingAndGlyphs">Proportion (%)</text>
<text x="1318.2" y="2482.7" font-size="28" text-anchor="start" font-weight="bold" font-style="italic" fill="#000" textLength="59.9" lengthAdjust="spacingAndGlyphs" >Mg#</text>
</svg>
</body></html>
